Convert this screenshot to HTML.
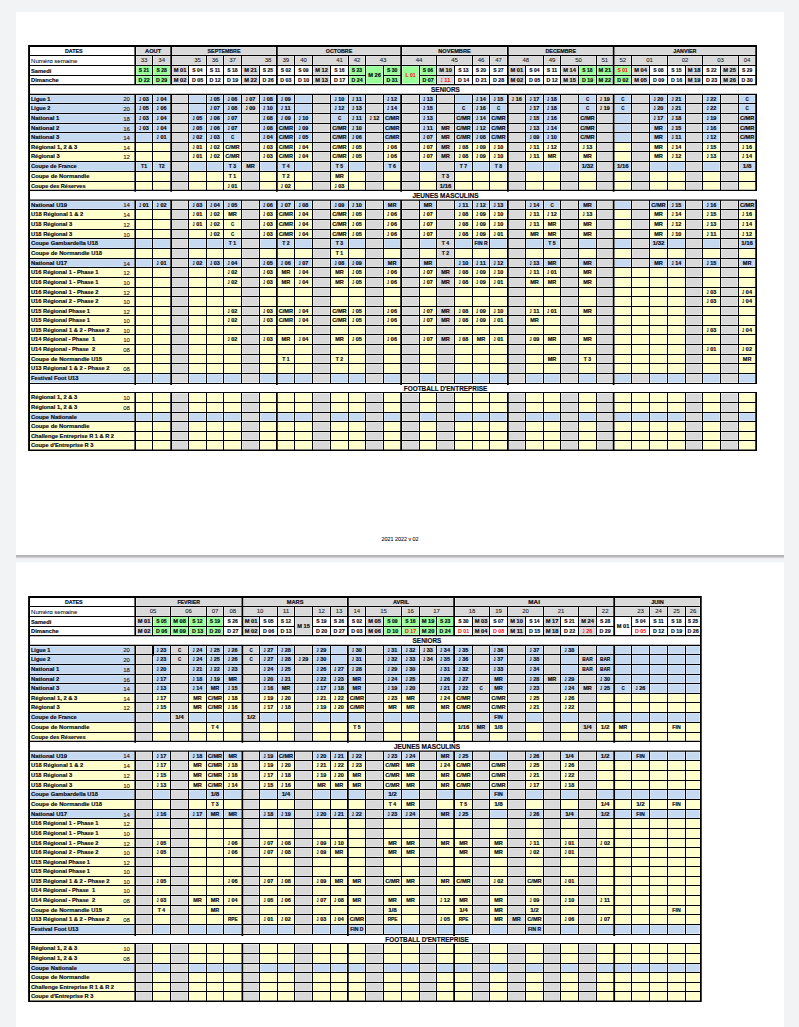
<!DOCTYPE html>
<html lang="fr"><head><meta charset="utf-8"><title>Calendrier 2021 2022</title>
<style>
html,body{margin:0;padding:0;background:#f1f3f5;}
body{width:799px;height:1027px;overflow:hidden;}
svg{display:block;font-family:"Liberation Sans",sans-serif;fill:#0a0a14;}
text{stroke:#0a0a14;stroke-width:.08px;white-space:pre}
text[font-weight=bold]{stroke-width:.18px}
text[fill="#ff0000"]{stroke:none}
</style></head><body>
<svg width="799" height="1027" viewBox="0 0 799 1027">
<defs><linearGradient id="sh" x1="0" y1="0" x2="0" y2="1"><stop offset="0" stop-color="#b2b2b4"/><stop offset="0.45" stop-color="#b9b9bb"/><stop offset="0.6" stop-color="#d0d0d2"/><stop offset="0.8" stop-color="#e7e8ea"/><stop offset="1" stop-color="#f1f3f5"/></linearGradient></defs>
<rect x="0" y="0" width="799" height="1027" fill="#f1f3f5"/>
<rect x="16" y="12" width="768" height="543" fill="#fff"/>
<rect x="16" y="555" width="768" height="4" fill="url(#sh)"/>
<rect x="16" y="562.5" width="768" height="470" fill="#fff"/>
<path fill="#d9d9d9" d="M136.35 47.35h33.6v7.3h-33.6zM172.4 47.35h103.25v7.3h-103.25zM278.1 47.35h121.8v7.3h-121.8zM402.35 47.35h104.3v7.3h-104.3zM509.1 47.35h103.3v7.3h-103.3zM614.85 47.35h140.05v7.3h-140.05zM136.35 56.35h15.3v8.3h-15.3zM153.35 56.35h16.6v8.3h-16.6zM172.4 56.35h33.25v8.3h-33.25zM207.35 56.35h15.3v8.3h-15.3zM224.35 56.35h16.3v8.3h-16.3zM242.35 56.35h33.3v8.3h-33.3zM278.1 56.35h15.55v8.3h-15.55zM295.35 56.35h16.3v8.3h-16.3zM313.35 56.35h34.3v8.3h-34.3zM349.35 56.35h15.3v8.3h-15.3zM366.35 56.35h33.55v8.3h-33.55zM402.35 56.35h33.3v8.3h-33.3zM437.35 56.35h34.3v8.3h-34.3zM473.35 56.35h15.3v8.3h-15.3zM490.35 56.35h16.3v8.3h-16.3zM509.1 56.35h33.55v8.3h-33.55zM544.35 56.35h15.3v8.3h-15.3zM561.35 56.35h34.3v8.3h-34.3zM597.35 56.35h15.05v8.3h-15.05zM614.85 56.35h15.8v8.3h-15.8zM632.35 56.35h34.3v8.3h-34.3zM668.35 56.35h33.3v8.3h-33.3zM703.35 56.35h34.3v8.3h-34.3zM739.35 56.35h15.55v8.3h-15.55zM172.4 66.35h15.25v8.3h-15.25zM172.4 76.35h15.25v7.2h-15.25zM242.35 66.35h16.3v8.3h-16.3zM242.35 76.35h16.3v7.2h-16.3zM313.35 66.35h16.3v8.3h-16.3zM313.35 76.35h16.3v7.2h-16.3zM437.35 66.35h16.3v8.3h-16.3zM437.35 76.35h16.3v7.2h-16.3zM509.1 66.35h15.55v8.3h-15.55zM509.1 76.35h15.55v7.2h-15.55zM561.35 66.35h16.3v8.3h-16.3zM561.35 76.35h16.3v7.2h-16.3zM632.35 66.35h16.3v8.3h-16.3zM632.35 76.35h16.3v7.2h-16.3zM686.35 66.35h15.3v8.3h-15.3zM686.35 76.35h15.3v7.2h-15.3zM721.35 66.35h16.3v8.3h-16.3zM721.35 76.35h16.3v7.2h-16.3zM172.4 95.3h15.25v7.35h-15.25zM242.35 95.3h16.3v7.35h-16.3zM313.35 95.3h16.3v7.35h-16.3zM366.35 95.3h16.3v7.35h-16.3zM402.35 95.3h16.3v7.35h-16.3zM437.35 95.3h16.3v7.35h-16.3zM509.1 95.3h15.55v7.35h-15.55zM561.35 95.3h16.3v7.35h-16.3zM597.35 95.3h15.05v7.35h-15.05zM632.35 95.3h16.3v7.35h-16.3zM686.35 95.3h15.3v7.35h-15.3zM721.35 95.3h16.3v7.35h-16.3zM172.4 104.35h15.25v8.3h-15.25zM242.35 104.35h16.3v8.3h-16.3zM313.35 104.35h16.3v8.3h-16.3zM366.35 104.35h16.3v8.3h-16.3zM402.35 104.35h16.3v8.3h-16.3zM437.35 104.35h16.3v8.3h-16.3zM509.1 104.35h15.55v8.3h-15.55zM561.35 104.35h16.3v8.3h-16.3zM597.35 104.35h15.05v8.3h-15.05zM632.35 104.35h16.3v8.3h-16.3zM686.35 104.35h15.3v8.3h-15.3zM721.35 104.35h16.3v8.3h-16.3zM172.4 114.35h15.25v8.3h-15.25zM242.35 114.35h16.3v8.3h-16.3zM313.35 114.35h16.3v8.3h-16.3zM366.35 114.35h16.3v8.3h-16.3zM402.35 114.35h16.3v8.3h-16.3zM437.35 114.35h16.3v8.3h-16.3zM509.1 114.35h15.55v8.3h-15.55zM561.35 114.35h16.3v8.3h-16.3zM597.35 114.35h15.05v8.3h-15.05zM632.35 114.35h16.3v8.3h-16.3zM686.35 114.35h15.3v8.3h-15.3zM721.35 114.35h16.3v8.3h-16.3zM172.4 124.35h15.25v7.3h-15.25zM242.35 124.35h16.3v7.3h-16.3zM313.35 124.35h16.3v7.3h-16.3zM366.35 124.35h16.3v7.3h-16.3zM402.35 124.35h16.3v7.3h-16.3zM437.35 124.35h16.3v7.3h-16.3zM509.1 124.35h15.55v7.3h-15.55zM561.35 124.35h16.3v7.3h-16.3zM597.35 124.35h15.05v7.3h-15.05zM632.35 124.35h16.3v7.3h-16.3zM686.35 124.35h15.3v7.3h-15.3zM721.35 124.35h16.3v7.3h-16.3zM172.4 133.35h15.25v8.3h-15.25zM242.35 133.35h16.3v8.3h-16.3zM313.35 133.35h16.3v8.3h-16.3zM366.35 133.35h16.3v8.3h-16.3zM402.35 133.35h16.3v8.3h-16.3zM437.35 133.35h16.3v8.3h-16.3zM509.1 133.35h15.55v8.3h-15.55zM561.35 133.35h16.3v8.3h-16.3zM597.35 133.35h15.05v8.3h-15.05zM632.35 133.35h16.3v8.3h-16.3zM686.35 133.35h15.3v8.3h-15.3zM721.35 133.35h16.3v8.3h-16.3zM172.4 143.35h15.25v7.3h-15.25zM242.35 143.35h16.3v7.3h-16.3zM313.35 143.35h16.3v7.3h-16.3zM366.35 143.35h16.3v7.3h-16.3zM402.35 143.35h16.3v7.3h-16.3zM437.35 143.35h16.3v7.3h-16.3zM509.1 143.35h15.55v7.3h-15.55zM561.35 143.35h16.3v7.3h-16.3zM597.35 143.35h15.05v7.3h-15.05zM632.35 143.35h16.3v7.3h-16.3zM686.35 143.35h15.3v7.3h-15.3zM721.35 143.35h16.3v7.3h-16.3zM172.4 152.35h15.25v8.3h-15.25zM242.35 152.35h16.3v8.3h-16.3zM313.35 152.35h16.3v8.3h-16.3zM366.35 152.35h16.3v8.3h-16.3zM402.35 152.35h16.3v8.3h-16.3zM437.35 152.35h16.3v8.3h-16.3zM509.1 152.35h15.55v8.3h-15.55zM561.35 152.35h16.3v8.3h-16.3zM597.35 152.35h15.05v8.3h-15.05zM632.35 152.35h16.3v8.3h-16.3zM686.35 152.35h15.3v8.3h-15.3zM721.35 152.35h16.3v8.3h-16.3zM172.4 162.35h15.25v8.3h-15.25zM242.35 162.35h16.3v8.3h-16.3zM313.35 162.35h16.3v8.3h-16.3zM366.35 162.35h16.3v8.3h-16.3zM402.35 162.35h16.3v8.3h-16.3zM437.35 162.35h16.3v8.3h-16.3zM509.1 162.35h15.55v8.3h-15.55zM561.35 162.35h16.3v8.3h-16.3zM597.35 162.35h15.05v8.3h-15.05zM632.35 162.35h16.3v8.3h-16.3zM686.35 162.35h15.3v8.3h-15.3zM721.35 162.35h16.3v8.3h-16.3zM172.4 172.35h15.25v8.3h-15.25zM242.35 172.35h16.3v8.3h-16.3zM313.35 172.35h16.3v8.3h-16.3zM366.35 172.35h16.3v8.3h-16.3zM402.35 172.35h16.3v8.3h-16.3zM437.35 172.35h16.3v8.3h-16.3zM509.1 172.35h15.55v8.3h-15.55zM561.35 172.35h16.3v8.3h-16.3zM597.35 172.35h15.05v8.3h-15.05zM632.35 172.35h16.3v8.3h-16.3zM686.35 172.35h15.3v8.3h-15.3zM721.35 172.35h16.3v8.3h-16.3zM172.4 182.35h15.25v7h-15.25zM242.35 182.35h16.3v7h-16.3zM313.35 182.35h16.3v7h-16.3zM366.35 182.35h16.3v7h-16.3zM402.35 182.35h16.3v7h-16.3zM437.35 182.35h16.3v7h-16.3zM509.1 182.35h15.55v7h-15.55zM561.35 182.35h16.3v7h-16.3zM597.35 182.35h15.05v7h-15.05zM632.35 182.35h16.3v7h-16.3zM686.35 182.35h15.3v7h-15.3zM721.35 182.35h16.3v7h-16.3zM172.4 201.15h15.25v7.5h-15.25zM242.35 201.15h16.3v7.5h-16.3zM313.35 201.15h16.3v7.5h-16.3zM366.35 201.15h16.3v7.5h-16.3zM402.35 201.15h16.3v7.5h-16.3zM437.35 201.15h16.3v7.5h-16.3zM509.1 201.15h15.55v7.5h-15.55zM561.35 201.15h16.3v7.5h-16.3zM597.35 201.15h15.05v7.5h-15.05zM632.35 201.15h16.3v7.5h-16.3zM686.35 201.15h15.3v7.5h-15.3zM721.35 201.15h16.3v7.5h-16.3zM172.4 210.35h15.25v8.3h-15.25zM242.35 210.35h16.3v8.3h-16.3zM313.35 210.35h16.3v8.3h-16.3zM366.35 210.35h16.3v8.3h-16.3zM402.35 210.35h16.3v8.3h-16.3zM437.35 210.35h16.3v8.3h-16.3zM509.1 210.35h15.55v8.3h-15.55zM561.35 210.35h16.3v8.3h-16.3zM597.35 210.35h15.05v8.3h-15.05zM632.35 210.35h16.3v8.3h-16.3zM686.35 210.35h15.3v8.3h-15.3zM721.35 210.35h16.3v8.3h-16.3zM172.4 220.35h15.25v8.3h-15.25zM242.35 220.35h16.3v8.3h-16.3zM313.35 220.35h16.3v8.3h-16.3zM366.35 220.35h16.3v8.3h-16.3zM402.35 220.35h16.3v8.3h-16.3zM437.35 220.35h16.3v8.3h-16.3zM509.1 220.35h15.55v8.3h-15.55zM561.35 220.35h16.3v8.3h-16.3zM597.35 220.35h15.05v8.3h-15.05zM632.35 220.35h16.3v8.3h-16.3zM686.35 220.35h15.3v8.3h-15.3zM721.35 220.35h16.3v8.3h-16.3zM172.4 230.35h15.25v7.3h-15.25zM242.35 230.35h16.3v7.3h-16.3zM313.35 230.35h16.3v7.3h-16.3zM366.35 230.35h16.3v7.3h-16.3zM402.35 230.35h16.3v7.3h-16.3zM437.35 230.35h16.3v7.3h-16.3zM509.1 230.35h15.55v7.3h-15.55zM561.35 230.35h16.3v7.3h-16.3zM597.35 230.35h15.05v7.3h-15.05zM632.35 230.35h16.3v7.3h-16.3zM686.35 230.35h15.3v7.3h-15.3zM721.35 230.35h16.3v7.3h-16.3zM172.4 239.35h15.25v8.3h-15.25zM242.35 239.35h16.3v8.3h-16.3zM313.35 239.35h16.3v8.3h-16.3zM366.35 239.35h16.3v8.3h-16.3zM402.35 239.35h16.3v8.3h-16.3zM437.35 239.35h16.3v8.3h-16.3zM509.1 239.35h15.55v8.3h-15.55zM561.35 239.35h16.3v8.3h-16.3zM597.35 239.35h15.05v8.3h-15.05zM632.35 239.35h16.3v8.3h-16.3zM686.35 239.35h15.3v8.3h-15.3zM721.35 239.35h16.3v8.3h-16.3zM172.4 249.35h15.25v8.3h-15.25zM242.35 249.35h16.3v8.3h-16.3zM313.35 249.35h16.3v8.3h-16.3zM366.35 249.35h16.3v8.3h-16.3zM402.35 249.35h16.3v8.3h-16.3zM437.35 249.35h16.3v8.3h-16.3zM509.1 249.35h15.55v8.3h-15.55zM561.35 249.35h16.3v8.3h-16.3zM597.35 249.35h15.05v8.3h-15.05zM632.35 249.35h16.3v8.3h-16.3zM686.35 249.35h15.3v8.3h-15.3zM721.35 249.35h16.3v8.3h-16.3zM172.4 259.35h15.25v7.3h-15.25zM242.35 259.35h16.3v7.3h-16.3zM313.35 259.35h16.3v7.3h-16.3zM366.35 259.35h16.3v7.3h-16.3zM402.35 259.35h16.3v7.3h-16.3zM437.35 259.35h16.3v7.3h-16.3zM509.1 259.35h15.55v7.3h-15.55zM561.35 259.35h16.3v7.3h-16.3zM597.35 259.35h15.05v7.3h-15.05zM632.35 259.35h16.3v7.3h-16.3zM686.35 259.35h15.3v7.3h-15.3zM721.35 259.35h16.3v7.3h-16.3zM172.4 268.35h15.25v8.3h-15.25zM242.35 268.35h16.3v8.3h-16.3zM313.35 268.35h16.3v8.3h-16.3zM366.35 268.35h16.3v8.3h-16.3zM402.35 268.35h16.3v8.3h-16.3zM437.35 268.35h16.3v8.3h-16.3zM509.1 268.35h15.55v8.3h-15.55zM561.35 268.35h16.3v8.3h-16.3zM597.35 268.35h15.05v8.3h-15.05zM686.35 268.35h15.3v8.3h-15.3zM721.35 268.35h16.3v8.3h-16.3zM172.4 278.35h15.25v8.3h-15.25zM242.35 278.35h16.3v8.3h-16.3zM313.35 278.35h16.3v8.3h-16.3zM366.35 278.35h16.3v8.3h-16.3zM402.35 278.35h16.3v8.3h-16.3zM437.35 278.35h16.3v8.3h-16.3zM509.1 278.35h15.55v8.3h-15.55zM561.35 278.35h16.3v8.3h-16.3zM597.35 278.35h15.05v8.3h-15.05zM686.35 278.35h15.3v8.3h-15.3zM721.35 278.35h16.3v8.3h-16.3zM172.4 288.35h15.25v7.3h-15.25zM242.35 288.35h16.3v7.3h-16.3zM313.35 288.35h16.3v7.3h-16.3zM366.35 288.35h16.3v7.3h-16.3zM402.35 288.35h16.3v7.3h-16.3zM437.35 288.35h16.3v7.3h-16.3zM509.1 288.35h15.55v7.3h-15.55zM561.35 288.35h16.3v7.3h-16.3zM597.35 288.35h15.05v7.3h-15.05zM686.35 288.35h15.3v7.3h-15.3zM721.35 288.35h16.3v7.3h-16.3zM172.4 297.35h15.25v8.3h-15.25zM242.35 297.35h16.3v8.3h-16.3zM313.35 297.35h16.3v8.3h-16.3zM366.35 297.35h16.3v8.3h-16.3zM402.35 297.35h16.3v8.3h-16.3zM437.35 297.35h16.3v8.3h-16.3zM509.1 297.35h15.55v8.3h-15.55zM561.35 297.35h16.3v8.3h-16.3zM597.35 297.35h15.05v8.3h-15.05zM686.35 297.35h15.3v8.3h-15.3zM721.35 297.35h16.3v8.3h-16.3zM172.4 307.35h15.25v7.3h-15.25zM242.35 307.35h16.3v7.3h-16.3zM313.35 307.35h16.3v7.3h-16.3zM366.35 307.35h16.3v7.3h-16.3zM402.35 307.35h16.3v7.3h-16.3zM437.35 307.35h16.3v7.3h-16.3zM509.1 307.35h15.55v7.3h-15.55zM561.35 307.35h16.3v7.3h-16.3zM597.35 307.35h15.05v7.3h-15.05zM686.35 307.35h15.3v7.3h-15.3zM721.35 307.35h16.3v7.3h-16.3zM172.4 316.35h15.25v8.3h-15.25zM242.35 316.35h16.3v8.3h-16.3zM313.35 316.35h16.3v8.3h-16.3zM366.35 316.35h16.3v8.3h-16.3zM402.35 316.35h16.3v8.3h-16.3zM437.35 316.35h16.3v8.3h-16.3zM509.1 316.35h15.55v8.3h-15.55zM561.35 316.35h16.3v8.3h-16.3zM597.35 316.35h15.05v8.3h-15.05zM686.35 316.35h15.3v8.3h-15.3zM721.35 316.35h16.3v8.3h-16.3zM172.4 326.35h15.25v7.3h-15.25zM242.35 326.35h16.3v7.3h-16.3zM313.35 326.35h16.3v7.3h-16.3zM366.35 326.35h16.3v7.3h-16.3zM402.35 326.35h16.3v7.3h-16.3zM437.35 326.35h16.3v7.3h-16.3zM509.1 326.35h15.55v7.3h-15.55zM561.35 326.35h16.3v7.3h-16.3zM597.35 326.35h15.05v7.3h-15.05zM686.35 326.35h15.3v7.3h-15.3zM721.35 326.35h16.3v7.3h-16.3zM172.4 335.35h15.25v8.3h-15.25zM242.35 335.35h16.3v8.3h-16.3zM313.35 335.35h16.3v8.3h-16.3zM366.35 335.35h16.3v8.3h-16.3zM402.35 335.35h16.3v8.3h-16.3zM437.35 335.35h16.3v8.3h-16.3zM509.1 335.35h15.55v8.3h-15.55zM561.35 335.35h16.3v8.3h-16.3zM597.35 335.35h15.05v8.3h-15.05zM686.35 335.35h15.3v8.3h-15.3zM721.35 335.35h16.3v8.3h-16.3zM172.4 345.35h15.25v8.3h-15.25zM242.35 345.35h16.3v8.3h-16.3zM313.35 345.35h16.3v8.3h-16.3zM366.35 345.35h16.3v8.3h-16.3zM402.35 345.35h16.3v8.3h-16.3zM437.35 345.35h16.3v8.3h-16.3zM509.1 345.35h15.55v8.3h-15.55zM561.35 345.35h16.3v8.3h-16.3zM597.35 345.35h15.05v8.3h-15.05zM686.35 345.35h15.3v8.3h-15.3zM721.35 345.35h16.3v8.3h-16.3zM172.4 355.35h15.25v7.3h-15.25zM242.35 355.35h16.3v7.3h-16.3zM313.35 355.35h16.3v7.3h-16.3zM366.35 355.35h16.3v7.3h-16.3zM402.35 355.35h16.3v7.3h-16.3zM437.35 355.35h16.3v7.3h-16.3zM509.1 355.35h15.55v7.3h-15.55zM561.35 355.35h16.3v7.3h-16.3zM597.35 355.35h15.05v7.3h-15.05zM686.35 355.35h15.3v7.3h-15.3zM721.35 355.35h16.3v7.3h-16.3zM172.4 364.35h15.25v8.3h-15.25zM242.35 364.35h16.3v8.3h-16.3zM313.35 364.35h16.3v8.3h-16.3zM366.35 364.35h16.3v8.3h-16.3zM402.35 364.35h16.3v8.3h-16.3zM437.35 364.35h16.3v8.3h-16.3zM509.1 364.35h15.55v8.3h-15.55zM561.35 364.35h16.3v8.3h-16.3zM597.35 364.35h15.05v8.3h-15.05zM686.35 364.35h15.3v8.3h-15.3zM721.35 364.35h16.3v8.3h-16.3zM172.4 374.35h15.25v8.2h-15.25zM242.35 374.35h16.3v8.2h-16.3zM313.35 374.35h16.3v8.2h-16.3zM366.35 374.35h16.3v8.2h-16.3zM402.35 374.35h16.3v8.2h-16.3zM437.35 374.35h16.3v8.2h-16.3zM509.1 374.35h15.55v8.2h-15.55zM561.35 374.35h16.3v8.2h-16.3zM597.35 374.35h15.05v8.2h-15.05zM632.35 374.35h16.3v8.2h-16.3zM686.35 374.35h15.3v8.2h-15.3zM721.35 374.35h16.3v8.2h-16.3zM172.4 393.4h15.25v8.25h-15.25zM242.35 393.4h16.3v8.25h-16.3zM313.35 393.4h16.3v8.25h-16.3zM366.35 393.4h16.3v8.25h-16.3zM402.35 393.4h16.3v8.25h-16.3zM437.35 393.4h16.3v8.25h-16.3zM509.1 393.4h15.55v8.25h-15.55zM561.35 393.4h16.3v8.25h-16.3zM597.35 393.4h15.05v8.25h-15.05zM686.35 393.4h15.3v8.25h-15.3zM721.35 393.4h16.3v8.25h-16.3zM172.4 403.35h15.25v8.3h-15.25zM242.35 403.35h16.3v8.3h-16.3zM313.35 403.35h16.3v8.3h-16.3zM366.35 403.35h16.3v8.3h-16.3zM402.35 403.35h16.3v8.3h-16.3zM437.35 403.35h16.3v8.3h-16.3zM509.1 403.35h15.55v8.3h-15.55zM561.35 403.35h16.3v8.3h-16.3zM597.35 403.35h15.05v8.3h-15.05zM686.35 403.35h15.3v8.3h-15.3zM721.35 403.35h16.3v8.3h-16.3zM172.4 413.35h15.25v7.3h-15.25zM242.35 413.35h16.3v7.3h-16.3zM313.35 413.35h16.3v7.3h-16.3zM366.35 413.35h16.3v7.3h-16.3zM402.35 413.35h16.3v7.3h-16.3zM437.35 413.35h16.3v7.3h-16.3zM509.1 413.35h15.55v7.3h-15.55zM561.35 413.35h16.3v7.3h-16.3zM597.35 413.35h15.05v7.3h-15.05zM686.35 413.35h15.3v7.3h-15.3zM721.35 413.35h16.3v7.3h-16.3zM172.4 422.35h15.25v8.3h-15.25zM242.35 422.35h16.3v8.3h-16.3zM313.35 422.35h16.3v8.3h-16.3zM366.35 422.35h16.3v8.3h-16.3zM402.35 422.35h16.3v8.3h-16.3zM437.35 422.35h16.3v8.3h-16.3zM509.1 422.35h15.55v8.3h-15.55zM561.35 422.35h16.3v8.3h-16.3zM597.35 422.35h15.05v8.3h-15.05zM686.35 422.35h15.3v8.3h-15.3zM721.35 422.35h16.3v8.3h-16.3zM172.4 432.35h15.25v7.3h-15.25zM242.35 432.35h16.3v7.3h-16.3zM313.35 432.35h16.3v7.3h-16.3zM366.35 432.35h16.3v7.3h-16.3zM402.35 432.35h16.3v7.3h-16.3zM437.35 432.35h16.3v7.3h-16.3zM509.1 432.35h15.55v7.3h-15.55zM561.35 432.35h16.3v7.3h-16.3zM597.35 432.35h15.05v7.3h-15.05zM686.35 432.35h15.3v7.3h-15.3zM721.35 432.35h16.3v7.3h-16.3zM172.4 441.35h15.25v7.9h-15.25zM242.35 441.35h16.3v7.9h-16.3zM313.35 441.35h16.3v7.9h-16.3zM366.35 441.35h16.3v7.9h-16.3zM402.35 441.35h16.3v7.9h-16.3zM437.35 441.35h16.3v7.9h-16.3zM509.1 441.35h15.55v7.9h-15.55zM561.35 441.35h16.3v7.9h-16.3zM597.35 441.35h15.05v7.9h-15.05zM686.35 441.35h15.3v7.9h-15.3zM721.35 441.35h16.3v7.9h-16.3z"/>
<path fill="#99ff99" d="M136.35 66.35h15.3v8.3h-15.3zM136.35 76.35h15.3v7.2h-15.3zM153.35 66.35h16.6v8.3h-16.6zM153.35 76.35h16.6v7.2h-16.6zM349.35 66.35h15.3v8.3h-15.3zM349.35 76.35h15.3v7.2h-15.3zM366.35 66.35h16.3v17.2h-16.3zM384.35 66.35h15.55v8.3h-15.55zM384.35 76.35h15.55v7.2h-15.55zM402.35 66.35h16.3v17.2h-16.3zM420.35 66.35h15.3v8.3h-15.3zM420.35 76.35h15.3v7.2h-15.3zM579.35 66.35h16.3v8.3h-16.3zM579.35 76.35h16.3v7.2h-16.3zM597.35 66.35h15.05v8.3h-15.05zM597.35 76.35h15.05v7.2h-15.05zM614.85 66.35h15.8v8.3h-15.8zM614.85 76.35h15.8v7.2h-15.8z"/>
<path fill="#c5d9f1" d="M30.35 95.3h103.7v7.35h-103.7zM136.35 95.3h15.3v7.35h-15.3zM153.35 95.3h16.6v7.35h-16.6zM189.35 95.3h16.3v7.35h-16.3zM207.35 95.3h15.3v7.35h-15.3zM224.35 95.3h16.3v7.35h-16.3zM260.35 95.3h15.3v7.35h-15.3zM278.1 95.3h15.55v7.35h-15.55zM295.35 95.3h16.3v7.35h-16.3zM331.35 95.3h16.3v7.35h-16.3zM349.35 95.3h15.3v7.35h-15.3zM384.35 95.3h15.55v7.35h-15.55zM420.35 95.3h15.3v7.35h-15.3zM455.35 95.3h16.3v7.35h-16.3zM473.35 95.3h15.3v7.35h-15.3zM490.35 95.3h16.3v7.35h-16.3zM526.35 95.3h16.3v7.35h-16.3zM544.35 95.3h15.3v7.35h-15.3zM579.35 95.3h16.3v7.35h-16.3zM614.85 95.3h15.8v7.35h-15.8zM650.35 95.3h16.3v7.35h-16.3zM668.35 95.3h16.3v7.35h-16.3zM703.35 95.3h16.3v7.35h-16.3zM739.35 95.3h15.55v7.35h-15.55zM30.35 104.35h103.7v8.3h-103.7zM136.35 104.35h15.3v8.3h-15.3zM153.35 104.35h16.6v8.3h-16.6zM189.35 104.35h16.3v8.3h-16.3zM207.35 104.35h15.3v8.3h-15.3zM224.35 104.35h16.3v8.3h-16.3zM260.35 104.35h15.3v8.3h-15.3zM278.1 104.35h15.55v8.3h-15.55zM295.35 104.35h16.3v8.3h-16.3zM331.35 104.35h16.3v8.3h-16.3zM349.35 104.35h15.3v8.3h-15.3zM384.35 104.35h15.55v8.3h-15.55zM420.35 104.35h15.3v8.3h-15.3zM455.35 104.35h16.3v8.3h-16.3zM473.35 104.35h15.3v8.3h-15.3zM490.35 104.35h16.3v8.3h-16.3zM526.35 104.35h16.3v8.3h-16.3zM544.35 104.35h15.3v8.3h-15.3zM579.35 104.35h16.3v8.3h-16.3zM614.85 104.35h15.8v8.3h-15.8zM650.35 104.35h16.3v8.3h-16.3zM668.35 104.35h16.3v8.3h-16.3zM703.35 104.35h16.3v8.3h-16.3zM739.35 104.35h15.55v8.3h-15.55zM30.35 114.35h103.7v8.3h-103.7zM136.35 114.35h15.3v8.3h-15.3zM153.35 114.35h16.6v8.3h-16.6zM189.35 114.35h16.3v8.3h-16.3zM207.35 114.35h15.3v8.3h-15.3zM224.35 114.35h16.3v8.3h-16.3zM260.35 114.35h15.3v8.3h-15.3zM278.1 114.35h15.55v8.3h-15.55zM295.35 114.35h16.3v8.3h-16.3zM331.35 114.35h16.3v8.3h-16.3zM349.35 114.35h15.3v8.3h-15.3zM384.35 114.35h15.55v8.3h-15.55zM420.35 114.35h15.3v8.3h-15.3zM455.35 114.35h16.3v8.3h-16.3zM473.35 114.35h15.3v8.3h-15.3zM490.35 114.35h16.3v8.3h-16.3zM526.35 114.35h16.3v8.3h-16.3zM544.35 114.35h15.3v8.3h-15.3zM579.35 114.35h16.3v8.3h-16.3zM614.85 114.35h15.8v8.3h-15.8zM650.35 114.35h16.3v8.3h-16.3zM668.35 114.35h16.3v8.3h-16.3zM703.35 114.35h16.3v8.3h-16.3zM739.35 114.35h15.55v8.3h-15.55zM30.35 124.35h103.7v7.3h-103.7zM136.35 124.35h15.3v7.3h-15.3zM153.35 124.35h16.6v7.3h-16.6zM189.35 124.35h16.3v7.3h-16.3zM207.35 124.35h15.3v7.3h-15.3zM224.35 124.35h16.3v7.3h-16.3zM260.35 124.35h15.3v7.3h-15.3zM278.1 124.35h15.55v7.3h-15.55zM295.35 124.35h16.3v7.3h-16.3zM331.35 124.35h16.3v7.3h-16.3zM349.35 124.35h15.3v7.3h-15.3zM384.35 124.35h15.55v7.3h-15.55zM420.35 124.35h15.3v7.3h-15.3zM455.35 124.35h16.3v7.3h-16.3zM473.35 124.35h15.3v7.3h-15.3zM490.35 124.35h16.3v7.3h-16.3zM526.35 124.35h16.3v7.3h-16.3zM544.35 124.35h15.3v7.3h-15.3zM579.35 124.35h16.3v7.3h-16.3zM614.85 124.35h15.8v7.3h-15.8zM650.35 124.35h16.3v7.3h-16.3zM668.35 124.35h16.3v7.3h-16.3zM703.35 124.35h16.3v7.3h-16.3zM739.35 124.35h15.55v7.3h-15.55zM30.35 133.35h103.7v8.3h-103.7zM136.35 133.35h15.3v8.3h-15.3zM153.35 133.35h16.6v8.3h-16.6zM189.35 133.35h16.3v8.3h-16.3zM207.35 133.35h15.3v8.3h-15.3zM224.35 133.35h16.3v8.3h-16.3zM260.35 133.35h15.3v8.3h-15.3zM278.1 133.35h15.55v8.3h-15.55zM295.35 133.35h16.3v8.3h-16.3zM331.35 133.35h16.3v8.3h-16.3zM349.35 133.35h15.3v8.3h-15.3zM384.35 133.35h15.55v8.3h-15.55zM420.35 133.35h15.3v8.3h-15.3zM455.35 133.35h16.3v8.3h-16.3zM473.35 133.35h15.3v8.3h-15.3zM490.35 133.35h16.3v8.3h-16.3zM526.35 133.35h16.3v8.3h-16.3zM544.35 133.35h15.3v8.3h-15.3zM579.35 133.35h16.3v8.3h-16.3zM614.85 133.35h15.8v8.3h-15.8zM650.35 133.35h16.3v8.3h-16.3zM668.35 133.35h16.3v8.3h-16.3zM703.35 133.35h16.3v8.3h-16.3zM739.35 133.35h15.55v8.3h-15.55zM30.35 162.35h103.7v8.3h-103.7zM136.35 162.35h15.3v8.3h-15.3zM153.35 162.35h16.6v8.3h-16.6zM189.35 162.35h16.3v8.3h-16.3zM207.35 162.35h15.3v8.3h-15.3zM224.35 162.35h16.3v8.3h-16.3zM260.35 162.35h15.3v8.3h-15.3zM278.1 162.35h15.55v8.3h-15.55zM295.35 162.35h16.3v8.3h-16.3zM331.35 162.35h16.3v8.3h-16.3zM349.35 162.35h15.3v8.3h-15.3zM384.35 162.35h15.55v8.3h-15.55zM420.35 162.35h15.3v8.3h-15.3zM455.35 162.35h16.3v8.3h-16.3zM473.35 162.35h15.3v8.3h-15.3zM490.35 162.35h16.3v8.3h-16.3zM526.35 162.35h16.3v8.3h-16.3zM544.35 162.35h15.3v8.3h-15.3zM579.35 162.35h16.3v8.3h-16.3zM614.85 162.35h15.8v8.3h-15.8zM650.35 162.35h16.3v8.3h-16.3zM668.35 162.35h16.3v8.3h-16.3zM703.35 162.35h16.3v8.3h-16.3zM739.35 162.35h15.55v8.3h-15.55zM30.35 201.15h103.7v7.5h-103.7zM136.35 201.15h15.3v7.5h-15.3zM153.35 201.15h16.6v7.5h-16.6zM189.35 201.15h16.3v7.5h-16.3zM207.35 201.15h15.3v7.5h-15.3zM224.35 201.15h16.3v7.5h-16.3zM260.35 201.15h15.3v7.5h-15.3zM278.1 201.15h15.55v7.5h-15.55zM295.35 201.15h16.3v7.5h-16.3zM331.35 201.15h16.3v7.5h-16.3zM349.35 201.15h15.3v7.5h-15.3zM384.35 201.15h15.55v7.5h-15.55zM420.35 201.15h15.3v7.5h-15.3zM455.35 201.15h16.3v7.5h-16.3zM473.35 201.15h15.3v7.5h-15.3zM490.35 201.15h16.3v7.5h-16.3zM526.35 201.15h16.3v7.5h-16.3zM544.35 201.15h15.3v7.5h-15.3zM579.35 201.15h16.3v7.5h-16.3zM614.85 201.15h15.8v7.5h-15.8zM650.35 201.15h16.3v7.5h-16.3zM668.35 201.15h16.3v7.5h-16.3zM703.35 201.15h16.3v7.5h-16.3zM739.35 201.15h15.55v7.5h-15.55zM30.35 239.35h103.7v8.3h-103.7zM136.35 239.35h15.3v8.3h-15.3zM153.35 239.35h16.6v8.3h-16.6zM189.35 239.35h16.3v8.3h-16.3zM207.35 239.35h15.3v8.3h-15.3zM224.35 239.35h16.3v8.3h-16.3zM260.35 239.35h15.3v8.3h-15.3zM278.1 239.35h15.55v8.3h-15.55zM295.35 239.35h16.3v8.3h-16.3zM331.35 239.35h16.3v8.3h-16.3zM349.35 239.35h15.3v8.3h-15.3zM384.35 239.35h15.55v8.3h-15.55zM420.35 239.35h15.3v8.3h-15.3zM455.35 239.35h16.3v8.3h-16.3zM473.35 239.35h15.3v8.3h-15.3zM490.35 239.35h16.3v8.3h-16.3zM526.35 239.35h16.3v8.3h-16.3zM544.35 239.35h15.3v8.3h-15.3zM579.35 239.35h16.3v8.3h-16.3zM614.85 239.35h15.8v8.3h-15.8zM650.35 239.35h16.3v8.3h-16.3zM668.35 239.35h16.3v8.3h-16.3zM703.35 239.35h16.3v8.3h-16.3zM739.35 239.35h15.55v8.3h-15.55zM30.35 259.35h103.7v7.3h-103.7zM136.35 259.35h15.3v7.3h-15.3zM153.35 259.35h16.6v7.3h-16.6zM189.35 259.35h16.3v7.3h-16.3zM207.35 259.35h15.3v7.3h-15.3zM224.35 259.35h16.3v7.3h-16.3zM260.35 259.35h15.3v7.3h-15.3zM278.1 259.35h15.55v7.3h-15.55zM295.35 259.35h16.3v7.3h-16.3zM331.35 259.35h16.3v7.3h-16.3zM349.35 259.35h15.3v7.3h-15.3zM384.35 259.35h15.55v7.3h-15.55zM420.35 259.35h15.3v7.3h-15.3zM455.35 259.35h16.3v7.3h-16.3zM473.35 259.35h15.3v7.3h-15.3zM490.35 259.35h16.3v7.3h-16.3zM526.35 259.35h16.3v7.3h-16.3zM544.35 259.35h15.3v7.3h-15.3zM579.35 259.35h16.3v7.3h-16.3zM614.85 259.35h15.8v7.3h-15.8zM650.35 259.35h16.3v7.3h-16.3zM668.35 259.35h16.3v7.3h-16.3zM703.35 259.35h16.3v7.3h-16.3zM739.35 259.35h15.55v7.3h-15.55zM30.35 374.35h103.7v8.2h-103.7zM136.35 374.35h15.3v8.2h-15.3zM153.35 374.35h16.6v8.2h-16.6zM189.35 374.35h16.3v8.2h-16.3zM207.35 374.35h15.3v8.2h-15.3zM224.35 374.35h16.3v8.2h-16.3zM260.35 374.35h15.3v8.2h-15.3zM278.1 374.35h15.55v8.2h-15.55zM295.35 374.35h16.3v8.2h-16.3zM331.35 374.35h16.3v8.2h-16.3zM349.35 374.35h15.3v8.2h-15.3zM384.35 374.35h15.55v8.2h-15.55zM420.35 374.35h15.3v8.2h-15.3zM455.35 374.35h16.3v8.2h-16.3zM473.35 374.35h15.3v8.2h-15.3zM490.35 374.35h16.3v8.2h-16.3zM526.35 374.35h16.3v8.2h-16.3zM544.35 374.35h15.3v8.2h-15.3zM579.35 374.35h16.3v8.2h-16.3zM614.85 374.35h15.8v8.2h-15.8zM650.35 374.35h16.3v8.2h-16.3zM668.35 374.35h16.3v8.2h-16.3zM703.35 374.35h16.3v8.2h-16.3zM739.35 374.35h15.55v8.2h-15.55zM30.35 413.35h103.7v7.3h-103.7zM136.35 413.35h15.3v7.3h-15.3zM153.35 413.35h16.6v7.3h-16.6zM189.35 413.35h16.3v7.3h-16.3zM207.35 413.35h15.3v7.3h-15.3zM224.35 413.35h16.3v7.3h-16.3zM260.35 413.35h15.3v7.3h-15.3zM278.1 413.35h15.55v7.3h-15.55zM295.35 413.35h16.3v7.3h-16.3zM331.35 413.35h16.3v7.3h-16.3zM349.35 413.35h15.3v7.3h-15.3zM384.35 413.35h15.55v7.3h-15.55zM420.35 413.35h15.3v7.3h-15.3zM455.35 413.35h16.3v7.3h-16.3zM473.35 413.35h15.3v7.3h-15.3zM490.35 413.35h16.3v7.3h-16.3zM526.35 413.35h16.3v7.3h-16.3zM544.35 413.35h15.3v7.3h-15.3zM579.35 413.35h16.3v7.3h-16.3zM614.85 413.35h15.8v7.3h-15.8zM632.35 413.35h16.3v7.3h-16.3zM650.35 413.35h16.3v7.3h-16.3zM668.35 413.35h16.3v7.3h-16.3zM703.35 413.35h16.3v7.3h-16.3zM739.35 413.35h15.55v7.3h-15.55z"/>
<path fill="#ffffcc" d="M30.35 143.35h103.7v7.3h-103.7zM136.35 143.35h15.3v7.3h-15.3zM153.35 143.35h16.6v7.3h-16.6zM189.35 143.35h16.3v7.3h-16.3zM207.35 143.35h15.3v7.3h-15.3zM224.35 143.35h16.3v7.3h-16.3zM260.35 143.35h15.3v7.3h-15.3zM278.1 143.35h15.55v7.3h-15.55zM295.35 143.35h16.3v7.3h-16.3zM331.35 143.35h16.3v7.3h-16.3zM349.35 143.35h15.3v7.3h-15.3zM384.35 143.35h15.55v7.3h-15.55zM420.35 143.35h15.3v7.3h-15.3zM455.35 143.35h16.3v7.3h-16.3zM473.35 143.35h15.3v7.3h-15.3zM490.35 143.35h16.3v7.3h-16.3zM526.35 143.35h16.3v7.3h-16.3zM544.35 143.35h15.3v7.3h-15.3zM579.35 143.35h16.3v7.3h-16.3zM614.85 143.35h15.8v7.3h-15.8zM650.35 143.35h16.3v7.3h-16.3zM668.35 143.35h16.3v7.3h-16.3zM703.35 143.35h16.3v7.3h-16.3zM739.35 143.35h15.55v7.3h-15.55zM30.35 152.35h103.7v8.3h-103.7zM136.35 152.35h15.3v8.3h-15.3zM153.35 152.35h16.6v8.3h-16.6zM189.35 152.35h16.3v8.3h-16.3zM207.35 152.35h15.3v8.3h-15.3zM224.35 152.35h16.3v8.3h-16.3zM260.35 152.35h15.3v8.3h-15.3zM278.1 152.35h15.55v8.3h-15.55zM295.35 152.35h16.3v8.3h-16.3zM331.35 152.35h16.3v8.3h-16.3zM349.35 152.35h15.3v8.3h-15.3zM384.35 152.35h15.55v8.3h-15.55zM420.35 152.35h15.3v8.3h-15.3zM455.35 152.35h16.3v8.3h-16.3zM473.35 152.35h15.3v8.3h-15.3zM490.35 152.35h16.3v8.3h-16.3zM526.35 152.35h16.3v8.3h-16.3zM544.35 152.35h15.3v8.3h-15.3zM579.35 152.35h16.3v8.3h-16.3zM614.85 152.35h15.8v8.3h-15.8zM650.35 152.35h16.3v8.3h-16.3zM668.35 152.35h16.3v8.3h-16.3zM703.35 152.35h16.3v8.3h-16.3zM739.35 152.35h15.55v8.3h-15.55zM30.35 172.35h103.7v8.3h-103.7zM136.35 172.35h15.3v8.3h-15.3zM153.35 172.35h16.6v8.3h-16.6zM189.35 172.35h16.3v8.3h-16.3zM207.35 172.35h15.3v8.3h-15.3zM224.35 172.35h16.3v8.3h-16.3zM260.35 172.35h15.3v8.3h-15.3zM278.1 172.35h15.55v8.3h-15.55zM295.35 172.35h16.3v8.3h-16.3zM331.35 172.35h16.3v8.3h-16.3zM349.35 172.35h15.3v8.3h-15.3zM384.35 172.35h15.55v8.3h-15.55zM420.35 172.35h15.3v8.3h-15.3zM455.35 172.35h16.3v8.3h-16.3zM473.35 172.35h15.3v8.3h-15.3zM490.35 172.35h16.3v8.3h-16.3zM526.35 172.35h16.3v8.3h-16.3zM544.35 172.35h15.3v8.3h-15.3zM579.35 172.35h16.3v8.3h-16.3zM614.85 172.35h15.8v8.3h-15.8zM650.35 172.35h16.3v8.3h-16.3zM668.35 172.35h16.3v8.3h-16.3zM703.35 172.35h16.3v8.3h-16.3zM739.35 172.35h15.55v8.3h-15.55zM30.35 182.35h103.7v7h-103.7zM136.35 182.35h15.3v7h-15.3zM153.35 182.35h16.6v7h-16.6zM189.35 182.35h16.3v7h-16.3zM207.35 182.35h15.3v7h-15.3zM224.35 182.35h16.3v7h-16.3zM260.35 182.35h15.3v7h-15.3zM278.1 182.35h15.55v7h-15.55zM295.35 182.35h16.3v7h-16.3zM331.35 182.35h16.3v7h-16.3zM349.35 182.35h15.3v7h-15.3zM384.35 182.35h15.55v7h-15.55zM420.35 182.35h15.3v7h-15.3zM455.35 182.35h16.3v7h-16.3zM473.35 182.35h15.3v7h-15.3zM490.35 182.35h16.3v7h-16.3zM526.35 182.35h16.3v7h-16.3zM544.35 182.35h15.3v7h-15.3zM579.35 182.35h16.3v7h-16.3zM614.85 182.35h15.8v7h-15.8zM650.35 182.35h16.3v7h-16.3zM668.35 182.35h16.3v7h-16.3zM703.35 182.35h16.3v7h-16.3zM739.35 182.35h15.55v7h-15.55zM30.35 210.35h103.7v8.3h-103.7zM136.35 210.35h15.3v8.3h-15.3zM153.35 210.35h16.6v8.3h-16.6zM189.35 210.35h16.3v8.3h-16.3zM207.35 210.35h15.3v8.3h-15.3zM224.35 210.35h16.3v8.3h-16.3zM260.35 210.35h15.3v8.3h-15.3zM278.1 210.35h15.55v8.3h-15.55zM295.35 210.35h16.3v8.3h-16.3zM331.35 210.35h16.3v8.3h-16.3zM349.35 210.35h15.3v8.3h-15.3zM384.35 210.35h15.55v8.3h-15.55zM420.35 210.35h15.3v8.3h-15.3zM455.35 210.35h16.3v8.3h-16.3zM473.35 210.35h15.3v8.3h-15.3zM490.35 210.35h16.3v8.3h-16.3zM526.35 210.35h16.3v8.3h-16.3zM544.35 210.35h15.3v8.3h-15.3zM579.35 210.35h16.3v8.3h-16.3zM614.85 210.35h15.8v8.3h-15.8zM650.35 210.35h16.3v8.3h-16.3zM668.35 210.35h16.3v8.3h-16.3zM703.35 210.35h16.3v8.3h-16.3zM739.35 210.35h15.55v8.3h-15.55zM30.35 220.35h103.7v8.3h-103.7zM136.35 220.35h15.3v8.3h-15.3zM153.35 220.35h16.6v8.3h-16.6zM189.35 220.35h16.3v8.3h-16.3zM207.35 220.35h15.3v8.3h-15.3zM224.35 220.35h16.3v8.3h-16.3zM260.35 220.35h15.3v8.3h-15.3zM278.1 220.35h15.55v8.3h-15.55zM295.35 220.35h16.3v8.3h-16.3zM331.35 220.35h16.3v8.3h-16.3zM349.35 220.35h15.3v8.3h-15.3zM384.35 220.35h15.55v8.3h-15.55zM420.35 220.35h15.3v8.3h-15.3zM455.35 220.35h16.3v8.3h-16.3zM473.35 220.35h15.3v8.3h-15.3zM490.35 220.35h16.3v8.3h-16.3zM526.35 220.35h16.3v8.3h-16.3zM544.35 220.35h15.3v8.3h-15.3zM579.35 220.35h16.3v8.3h-16.3zM614.85 220.35h15.8v8.3h-15.8zM650.35 220.35h16.3v8.3h-16.3zM668.35 220.35h16.3v8.3h-16.3zM703.35 220.35h16.3v8.3h-16.3zM739.35 220.35h15.55v8.3h-15.55zM30.35 230.35h103.7v7.3h-103.7zM136.35 230.35h15.3v7.3h-15.3zM153.35 230.35h16.6v7.3h-16.6zM189.35 230.35h16.3v7.3h-16.3zM207.35 230.35h15.3v7.3h-15.3zM224.35 230.35h16.3v7.3h-16.3zM260.35 230.35h15.3v7.3h-15.3zM278.1 230.35h15.55v7.3h-15.55zM295.35 230.35h16.3v7.3h-16.3zM331.35 230.35h16.3v7.3h-16.3zM349.35 230.35h15.3v7.3h-15.3zM384.35 230.35h15.55v7.3h-15.55zM420.35 230.35h15.3v7.3h-15.3zM455.35 230.35h16.3v7.3h-16.3zM473.35 230.35h15.3v7.3h-15.3zM490.35 230.35h16.3v7.3h-16.3zM526.35 230.35h16.3v7.3h-16.3zM544.35 230.35h15.3v7.3h-15.3zM579.35 230.35h16.3v7.3h-16.3zM614.85 230.35h15.8v7.3h-15.8zM650.35 230.35h16.3v7.3h-16.3zM668.35 230.35h16.3v7.3h-16.3zM703.35 230.35h16.3v7.3h-16.3zM739.35 230.35h15.55v7.3h-15.55zM30.35 249.35h103.7v8.3h-103.7zM136.35 249.35h15.3v8.3h-15.3zM153.35 249.35h16.6v8.3h-16.6zM189.35 249.35h16.3v8.3h-16.3zM207.35 249.35h15.3v8.3h-15.3zM224.35 249.35h16.3v8.3h-16.3zM260.35 249.35h15.3v8.3h-15.3zM278.1 249.35h15.55v8.3h-15.55zM295.35 249.35h16.3v8.3h-16.3zM331.35 249.35h16.3v8.3h-16.3zM349.35 249.35h15.3v8.3h-15.3zM384.35 249.35h15.55v8.3h-15.55zM420.35 249.35h15.3v8.3h-15.3zM455.35 249.35h16.3v8.3h-16.3zM473.35 249.35h15.3v8.3h-15.3zM490.35 249.35h16.3v8.3h-16.3zM526.35 249.35h16.3v8.3h-16.3zM544.35 249.35h15.3v8.3h-15.3zM579.35 249.35h16.3v8.3h-16.3zM614.85 249.35h15.8v8.3h-15.8zM650.35 249.35h16.3v8.3h-16.3zM668.35 249.35h16.3v8.3h-16.3zM703.35 249.35h16.3v8.3h-16.3zM739.35 249.35h15.55v8.3h-15.55zM30.35 268.35h103.7v8.3h-103.7zM136.35 268.35h15.3v8.3h-15.3zM153.35 268.35h16.6v8.3h-16.6zM189.35 268.35h16.3v8.3h-16.3zM207.35 268.35h15.3v8.3h-15.3zM224.35 268.35h16.3v8.3h-16.3zM260.35 268.35h15.3v8.3h-15.3zM278.1 268.35h15.55v8.3h-15.55zM295.35 268.35h16.3v8.3h-16.3zM331.35 268.35h16.3v8.3h-16.3zM349.35 268.35h15.3v8.3h-15.3zM384.35 268.35h15.55v8.3h-15.55zM420.35 268.35h15.3v8.3h-15.3zM455.35 268.35h16.3v8.3h-16.3zM473.35 268.35h15.3v8.3h-15.3zM490.35 268.35h16.3v8.3h-16.3zM526.35 268.35h16.3v8.3h-16.3zM544.35 268.35h15.3v8.3h-15.3zM579.35 268.35h16.3v8.3h-16.3zM614.85 268.35h15.8v8.3h-15.8zM632.35 268.35h16.3v8.3h-16.3zM650.35 268.35h16.3v8.3h-16.3zM668.35 268.35h16.3v8.3h-16.3zM703.35 268.35h16.3v8.3h-16.3zM739.35 268.35h15.55v8.3h-15.55zM30.35 278.35h103.7v8.3h-103.7zM136.35 278.35h15.3v8.3h-15.3zM153.35 278.35h16.6v8.3h-16.6zM189.35 278.35h16.3v8.3h-16.3zM207.35 278.35h15.3v8.3h-15.3zM224.35 278.35h16.3v8.3h-16.3zM260.35 278.35h15.3v8.3h-15.3zM278.1 278.35h15.55v8.3h-15.55zM295.35 278.35h16.3v8.3h-16.3zM331.35 278.35h16.3v8.3h-16.3zM349.35 278.35h15.3v8.3h-15.3zM384.35 278.35h15.55v8.3h-15.55zM420.35 278.35h15.3v8.3h-15.3zM455.35 278.35h16.3v8.3h-16.3zM473.35 278.35h15.3v8.3h-15.3zM490.35 278.35h16.3v8.3h-16.3zM526.35 278.35h16.3v8.3h-16.3zM544.35 278.35h15.3v8.3h-15.3zM579.35 278.35h16.3v8.3h-16.3zM614.85 278.35h15.8v8.3h-15.8zM632.35 278.35h16.3v8.3h-16.3zM650.35 278.35h16.3v8.3h-16.3zM668.35 278.35h16.3v8.3h-16.3zM703.35 278.35h16.3v8.3h-16.3zM739.35 278.35h15.55v8.3h-15.55zM30.35 288.35h103.7v7.3h-103.7zM136.35 288.35h15.3v7.3h-15.3zM153.35 288.35h16.6v7.3h-16.6zM189.35 288.35h16.3v7.3h-16.3zM207.35 288.35h15.3v7.3h-15.3zM224.35 288.35h16.3v7.3h-16.3zM260.35 288.35h15.3v7.3h-15.3zM278.1 288.35h15.55v7.3h-15.55zM295.35 288.35h16.3v7.3h-16.3zM331.35 288.35h16.3v7.3h-16.3zM349.35 288.35h15.3v7.3h-15.3zM384.35 288.35h15.55v7.3h-15.55zM420.35 288.35h15.3v7.3h-15.3zM455.35 288.35h16.3v7.3h-16.3zM473.35 288.35h15.3v7.3h-15.3zM490.35 288.35h16.3v7.3h-16.3zM526.35 288.35h16.3v7.3h-16.3zM544.35 288.35h15.3v7.3h-15.3zM579.35 288.35h16.3v7.3h-16.3zM614.85 288.35h15.8v7.3h-15.8zM632.35 288.35h16.3v7.3h-16.3zM650.35 288.35h16.3v7.3h-16.3zM668.35 288.35h16.3v7.3h-16.3zM703.35 288.35h16.3v7.3h-16.3zM739.35 288.35h15.55v7.3h-15.55zM30.35 297.35h103.7v8.3h-103.7zM136.35 297.35h15.3v8.3h-15.3zM153.35 297.35h16.6v8.3h-16.6zM189.35 297.35h16.3v8.3h-16.3zM207.35 297.35h15.3v8.3h-15.3zM224.35 297.35h16.3v8.3h-16.3zM260.35 297.35h15.3v8.3h-15.3zM278.1 297.35h15.55v8.3h-15.55zM295.35 297.35h16.3v8.3h-16.3zM331.35 297.35h16.3v8.3h-16.3zM349.35 297.35h15.3v8.3h-15.3zM384.35 297.35h15.55v8.3h-15.55zM420.35 297.35h15.3v8.3h-15.3zM455.35 297.35h16.3v8.3h-16.3zM473.35 297.35h15.3v8.3h-15.3zM490.35 297.35h16.3v8.3h-16.3zM526.35 297.35h16.3v8.3h-16.3zM544.35 297.35h15.3v8.3h-15.3zM579.35 297.35h16.3v8.3h-16.3zM614.85 297.35h15.8v8.3h-15.8zM632.35 297.35h16.3v8.3h-16.3zM650.35 297.35h16.3v8.3h-16.3zM668.35 297.35h16.3v8.3h-16.3zM703.35 297.35h16.3v8.3h-16.3zM739.35 297.35h15.55v8.3h-15.55zM30.35 307.35h103.7v7.3h-103.7zM136.35 307.35h15.3v7.3h-15.3zM153.35 307.35h16.6v7.3h-16.6zM189.35 307.35h16.3v7.3h-16.3zM207.35 307.35h15.3v7.3h-15.3zM224.35 307.35h16.3v7.3h-16.3zM260.35 307.35h15.3v7.3h-15.3zM278.1 307.35h15.55v7.3h-15.55zM295.35 307.35h16.3v7.3h-16.3zM331.35 307.35h16.3v7.3h-16.3zM349.35 307.35h15.3v7.3h-15.3zM384.35 307.35h15.55v7.3h-15.55zM420.35 307.35h15.3v7.3h-15.3zM455.35 307.35h16.3v7.3h-16.3zM473.35 307.35h15.3v7.3h-15.3zM490.35 307.35h16.3v7.3h-16.3zM526.35 307.35h16.3v7.3h-16.3zM544.35 307.35h15.3v7.3h-15.3zM579.35 307.35h16.3v7.3h-16.3zM614.85 307.35h15.8v7.3h-15.8zM632.35 307.35h16.3v7.3h-16.3zM650.35 307.35h16.3v7.3h-16.3zM668.35 307.35h16.3v7.3h-16.3zM703.35 307.35h16.3v7.3h-16.3zM739.35 307.35h15.55v7.3h-15.55zM30.35 316.35h103.7v8.3h-103.7zM136.35 316.35h15.3v8.3h-15.3zM153.35 316.35h16.6v8.3h-16.6zM189.35 316.35h16.3v8.3h-16.3zM207.35 316.35h15.3v8.3h-15.3zM224.35 316.35h16.3v8.3h-16.3zM260.35 316.35h15.3v8.3h-15.3zM278.1 316.35h15.55v8.3h-15.55zM295.35 316.35h16.3v8.3h-16.3zM331.35 316.35h16.3v8.3h-16.3zM349.35 316.35h15.3v8.3h-15.3zM384.35 316.35h15.55v8.3h-15.55zM420.35 316.35h15.3v8.3h-15.3zM455.35 316.35h16.3v8.3h-16.3zM473.35 316.35h15.3v8.3h-15.3zM490.35 316.35h16.3v8.3h-16.3zM526.35 316.35h16.3v8.3h-16.3zM544.35 316.35h15.3v8.3h-15.3zM579.35 316.35h16.3v8.3h-16.3zM614.85 316.35h15.8v8.3h-15.8zM632.35 316.35h16.3v8.3h-16.3zM650.35 316.35h16.3v8.3h-16.3zM668.35 316.35h16.3v8.3h-16.3zM703.35 316.35h16.3v8.3h-16.3zM739.35 316.35h15.55v8.3h-15.55zM30.35 326.35h103.7v7.3h-103.7zM136.35 326.35h15.3v7.3h-15.3zM153.35 326.35h16.6v7.3h-16.6zM189.35 326.35h16.3v7.3h-16.3zM207.35 326.35h15.3v7.3h-15.3zM224.35 326.35h16.3v7.3h-16.3zM260.35 326.35h15.3v7.3h-15.3zM278.1 326.35h15.55v7.3h-15.55zM295.35 326.35h16.3v7.3h-16.3zM331.35 326.35h16.3v7.3h-16.3zM349.35 326.35h15.3v7.3h-15.3zM384.35 326.35h15.55v7.3h-15.55zM420.35 326.35h15.3v7.3h-15.3zM455.35 326.35h16.3v7.3h-16.3zM473.35 326.35h15.3v7.3h-15.3zM490.35 326.35h16.3v7.3h-16.3zM526.35 326.35h16.3v7.3h-16.3zM544.35 326.35h15.3v7.3h-15.3zM579.35 326.35h16.3v7.3h-16.3zM614.85 326.35h15.8v7.3h-15.8zM632.35 326.35h16.3v7.3h-16.3zM650.35 326.35h16.3v7.3h-16.3zM668.35 326.35h16.3v7.3h-16.3zM703.35 326.35h16.3v7.3h-16.3zM739.35 326.35h15.55v7.3h-15.55zM30.35 335.35h103.7v8.3h-103.7zM136.35 335.35h15.3v8.3h-15.3zM153.35 335.35h16.6v8.3h-16.6zM189.35 335.35h16.3v8.3h-16.3zM207.35 335.35h15.3v8.3h-15.3zM224.35 335.35h16.3v8.3h-16.3zM260.35 335.35h15.3v8.3h-15.3zM278.1 335.35h15.55v8.3h-15.55zM295.35 335.35h16.3v8.3h-16.3zM331.35 335.35h16.3v8.3h-16.3zM349.35 335.35h15.3v8.3h-15.3zM384.35 335.35h15.55v8.3h-15.55zM420.35 335.35h15.3v8.3h-15.3zM455.35 335.35h16.3v8.3h-16.3zM473.35 335.35h15.3v8.3h-15.3zM490.35 335.35h16.3v8.3h-16.3zM526.35 335.35h16.3v8.3h-16.3zM544.35 335.35h15.3v8.3h-15.3zM579.35 335.35h16.3v8.3h-16.3zM614.85 335.35h15.8v8.3h-15.8zM632.35 335.35h16.3v8.3h-16.3zM650.35 335.35h16.3v8.3h-16.3zM668.35 335.35h16.3v8.3h-16.3zM703.35 335.35h16.3v8.3h-16.3zM739.35 335.35h15.55v8.3h-15.55zM30.35 345.35h103.7v8.3h-103.7zM136.35 345.35h15.3v8.3h-15.3zM153.35 345.35h16.6v8.3h-16.6zM189.35 345.35h16.3v8.3h-16.3zM207.35 345.35h15.3v8.3h-15.3zM224.35 345.35h16.3v8.3h-16.3zM260.35 345.35h15.3v8.3h-15.3zM278.1 345.35h15.55v8.3h-15.55zM295.35 345.35h16.3v8.3h-16.3zM331.35 345.35h16.3v8.3h-16.3zM349.35 345.35h15.3v8.3h-15.3zM384.35 345.35h15.55v8.3h-15.55zM420.35 345.35h15.3v8.3h-15.3zM455.35 345.35h16.3v8.3h-16.3zM473.35 345.35h15.3v8.3h-15.3zM490.35 345.35h16.3v8.3h-16.3zM526.35 345.35h16.3v8.3h-16.3zM544.35 345.35h15.3v8.3h-15.3zM579.35 345.35h16.3v8.3h-16.3zM614.85 345.35h15.8v8.3h-15.8zM632.35 345.35h16.3v8.3h-16.3zM650.35 345.35h16.3v8.3h-16.3zM668.35 345.35h16.3v8.3h-16.3zM703.35 345.35h16.3v8.3h-16.3zM739.35 345.35h15.55v8.3h-15.55zM30.35 355.35h103.7v7.3h-103.7zM136.35 355.35h15.3v7.3h-15.3zM153.35 355.35h16.6v7.3h-16.6zM189.35 355.35h16.3v7.3h-16.3zM207.35 355.35h15.3v7.3h-15.3zM224.35 355.35h16.3v7.3h-16.3zM260.35 355.35h15.3v7.3h-15.3zM278.1 355.35h15.55v7.3h-15.55zM295.35 355.35h16.3v7.3h-16.3zM331.35 355.35h16.3v7.3h-16.3zM349.35 355.35h15.3v7.3h-15.3zM384.35 355.35h15.55v7.3h-15.55zM420.35 355.35h15.3v7.3h-15.3zM455.35 355.35h16.3v7.3h-16.3zM473.35 355.35h15.3v7.3h-15.3zM490.35 355.35h16.3v7.3h-16.3zM526.35 355.35h16.3v7.3h-16.3zM544.35 355.35h15.3v7.3h-15.3zM579.35 355.35h16.3v7.3h-16.3zM614.85 355.35h15.8v7.3h-15.8zM632.35 355.35h16.3v7.3h-16.3zM650.35 355.35h16.3v7.3h-16.3zM668.35 355.35h16.3v7.3h-16.3zM703.35 355.35h16.3v7.3h-16.3zM739.35 355.35h15.55v7.3h-15.55zM30.35 364.35h103.7v8.3h-103.7zM136.35 364.35h15.3v8.3h-15.3zM153.35 364.35h16.6v8.3h-16.6zM189.35 364.35h16.3v8.3h-16.3zM207.35 364.35h15.3v8.3h-15.3zM224.35 364.35h16.3v8.3h-16.3zM260.35 364.35h15.3v8.3h-15.3zM278.1 364.35h15.55v8.3h-15.55zM295.35 364.35h16.3v8.3h-16.3zM331.35 364.35h16.3v8.3h-16.3zM349.35 364.35h15.3v8.3h-15.3zM384.35 364.35h15.55v8.3h-15.55zM420.35 364.35h15.3v8.3h-15.3zM455.35 364.35h16.3v8.3h-16.3zM473.35 364.35h15.3v8.3h-15.3zM490.35 364.35h16.3v8.3h-16.3zM526.35 364.35h16.3v8.3h-16.3zM544.35 364.35h15.3v8.3h-15.3zM579.35 364.35h16.3v8.3h-16.3zM614.85 364.35h15.8v8.3h-15.8zM632.35 364.35h16.3v8.3h-16.3zM650.35 364.35h16.3v8.3h-16.3zM668.35 364.35h16.3v8.3h-16.3zM703.35 364.35h16.3v8.3h-16.3zM739.35 364.35h15.55v8.3h-15.55zM30.35 393.4h103.7v8.25h-103.7zM136.35 393.4h15.3v8.25h-15.3zM153.35 393.4h16.6v8.25h-16.6zM189.35 393.4h16.3v8.25h-16.3zM207.35 393.4h15.3v8.25h-15.3zM224.35 393.4h16.3v8.25h-16.3zM260.35 393.4h15.3v8.25h-15.3zM278.1 393.4h15.55v8.25h-15.55zM295.35 393.4h16.3v8.25h-16.3zM331.35 393.4h16.3v8.25h-16.3zM349.35 393.4h15.3v8.25h-15.3zM384.35 393.4h15.55v8.25h-15.55zM420.35 393.4h15.3v8.25h-15.3zM455.35 393.4h16.3v8.25h-16.3zM473.35 393.4h15.3v8.25h-15.3zM490.35 393.4h16.3v8.25h-16.3zM526.35 393.4h16.3v8.25h-16.3zM544.35 393.4h15.3v8.25h-15.3zM579.35 393.4h16.3v8.25h-16.3zM614.85 393.4h15.8v8.25h-15.8zM632.35 393.4h16.3v8.25h-16.3zM650.35 393.4h16.3v8.25h-16.3zM668.35 393.4h16.3v8.25h-16.3zM703.35 393.4h16.3v8.25h-16.3zM739.35 393.4h15.55v8.25h-15.55zM30.35 403.35h103.7v8.3h-103.7zM136.35 403.35h15.3v8.3h-15.3zM153.35 403.35h16.6v8.3h-16.6zM189.35 403.35h16.3v8.3h-16.3zM207.35 403.35h15.3v8.3h-15.3zM224.35 403.35h16.3v8.3h-16.3zM260.35 403.35h15.3v8.3h-15.3zM278.1 403.35h15.55v8.3h-15.55zM295.35 403.35h16.3v8.3h-16.3zM331.35 403.35h16.3v8.3h-16.3zM349.35 403.35h15.3v8.3h-15.3zM384.35 403.35h15.55v8.3h-15.55zM420.35 403.35h15.3v8.3h-15.3zM455.35 403.35h16.3v8.3h-16.3zM473.35 403.35h15.3v8.3h-15.3zM490.35 403.35h16.3v8.3h-16.3zM526.35 403.35h16.3v8.3h-16.3zM544.35 403.35h15.3v8.3h-15.3zM579.35 403.35h16.3v8.3h-16.3zM614.85 403.35h15.8v8.3h-15.8zM632.35 403.35h16.3v8.3h-16.3zM650.35 403.35h16.3v8.3h-16.3zM668.35 403.35h16.3v8.3h-16.3zM703.35 403.35h16.3v8.3h-16.3zM739.35 403.35h15.55v8.3h-15.55zM30.35 422.35h103.7v8.3h-103.7zM136.35 422.35h15.3v8.3h-15.3zM153.35 422.35h16.6v8.3h-16.6zM189.35 422.35h16.3v8.3h-16.3zM207.35 422.35h15.3v8.3h-15.3zM224.35 422.35h16.3v8.3h-16.3zM260.35 422.35h15.3v8.3h-15.3zM278.1 422.35h15.55v8.3h-15.55zM295.35 422.35h16.3v8.3h-16.3zM331.35 422.35h16.3v8.3h-16.3zM349.35 422.35h15.3v8.3h-15.3zM384.35 422.35h15.55v8.3h-15.55zM420.35 422.35h15.3v8.3h-15.3zM455.35 422.35h16.3v8.3h-16.3zM473.35 422.35h15.3v8.3h-15.3zM490.35 422.35h16.3v8.3h-16.3zM526.35 422.35h16.3v8.3h-16.3zM544.35 422.35h15.3v8.3h-15.3zM579.35 422.35h16.3v8.3h-16.3zM614.85 422.35h15.8v8.3h-15.8zM632.35 422.35h16.3v8.3h-16.3zM650.35 422.35h16.3v8.3h-16.3zM668.35 422.35h16.3v8.3h-16.3zM703.35 422.35h16.3v8.3h-16.3zM739.35 422.35h15.55v8.3h-15.55zM30.35 432.35h103.7v7.3h-103.7zM136.35 432.35h15.3v7.3h-15.3zM153.35 432.35h16.6v7.3h-16.6zM189.35 432.35h16.3v7.3h-16.3zM207.35 432.35h15.3v7.3h-15.3zM224.35 432.35h16.3v7.3h-16.3zM260.35 432.35h15.3v7.3h-15.3zM278.1 432.35h15.55v7.3h-15.55zM295.35 432.35h16.3v7.3h-16.3zM331.35 432.35h16.3v7.3h-16.3zM349.35 432.35h15.3v7.3h-15.3zM384.35 432.35h15.55v7.3h-15.55zM420.35 432.35h15.3v7.3h-15.3zM455.35 432.35h16.3v7.3h-16.3zM473.35 432.35h15.3v7.3h-15.3zM490.35 432.35h16.3v7.3h-16.3zM526.35 432.35h16.3v7.3h-16.3zM544.35 432.35h15.3v7.3h-15.3zM579.35 432.35h16.3v7.3h-16.3zM614.85 432.35h15.8v7.3h-15.8zM632.35 432.35h16.3v7.3h-16.3zM650.35 432.35h16.3v7.3h-16.3zM668.35 432.35h16.3v7.3h-16.3zM703.35 432.35h16.3v7.3h-16.3zM739.35 432.35h15.55v7.3h-15.55zM30.35 441.35h103.7v7.9h-103.7zM136.35 441.35h15.3v7.9h-15.3zM153.35 441.35h16.6v7.9h-16.6zM189.35 441.35h16.3v7.9h-16.3zM207.35 441.35h15.3v7.9h-15.3zM224.35 441.35h16.3v7.9h-16.3zM260.35 441.35h15.3v7.9h-15.3zM278.1 441.35h15.55v7.9h-15.55zM295.35 441.35h16.3v7.9h-16.3zM331.35 441.35h16.3v7.9h-16.3zM349.35 441.35h15.3v7.9h-15.3zM384.35 441.35h15.55v7.9h-15.55zM420.35 441.35h15.3v7.9h-15.3zM455.35 441.35h16.3v7.9h-16.3zM473.35 441.35h15.3v7.9h-15.3zM490.35 441.35h16.3v7.9h-16.3zM526.35 441.35h16.3v7.9h-16.3zM544.35 441.35h15.3v7.9h-15.3zM579.35 441.35h16.3v7.9h-16.3zM614.85 441.35h15.8v7.9h-15.8zM632.35 441.35h16.3v7.9h-16.3zM650.35 441.35h16.3v7.9h-16.3zM668.35 441.35h16.3v7.9h-16.3zM703.35 441.35h16.3v7.9h-16.3zM739.35 441.35h15.55v7.9h-15.55z"/>
<path fill="#000" d="M28.1 45h1.9v406h-1.9zM28.1 45h728.9v2h-728.9zM28.1 449.6h728.9v1.4h-728.9zM30 55h725.25v1h-725.25zM30 65h725.25v1h-725.25zM30 75h335v1h-335zM384 75h16.25v1h-16.25zM420 75h335.25v1h-335.25zM30 83.9h725.25v1.4h-725.25zM30 93.7h725.25v1.25h-725.25zM30 103h725.25v1h-725.25zM30 113h725.25v1h-725.25zM30 123h725.25v1h-725.25zM30 132h725.25v1h-725.25zM30 142h725.25v1h-725.25zM30 151h725.25v1h-725.25zM30 161h725.25v1h-725.25zM30 171h725.25v1h-725.25zM30 181h725.25v1h-725.25zM30 189.7h725.25v1.25h-725.25zM30 199.4h725.25v1.4h-725.25zM30 209h725.25v1h-725.25zM30 219h725.25v1h-725.25zM30 229h725.25v1h-725.25zM30 238h725.25v1h-725.25zM30 248h725.25v1h-725.25zM30 258h725.25v1h-725.25zM30 267h725.25v1h-725.25zM30 277h725.25v1h-725.25zM30 287h725.25v1h-725.25zM30 296h725.25v1h-725.25zM30 306h725.25v1h-725.25zM30 315h725.25v1h-725.25zM30 325h725.25v1h-725.25zM30 334h725.25v1h-725.25zM30 344h725.25v1h-725.25zM30 354h725.25v1h-725.25zM30 363h725.25v1h-725.25zM30 373h725.25v1h-725.25zM30 382.9h725.25v1.2h-725.25zM30 392h725.25v1.05h-725.25zM30 402h725.25v1h-725.25zM30 412h725.25v1h-725.25zM30 421h725.25v1h-725.25zM30 431h725.25v1h-725.25zM30 440h725.25v1h-725.25zM134.4 47h1.6v38.3h-1.6zM134.4 93.7h1.6v98.05h-1.6zM134.4 199.4h1.6v185.5h-1.6zM134.4 392h1.6v59h-1.6zM152 56h1v27.9h-1zM152 93.7h1v97.25h-1zM152 199.4h1v184.7h-1zM152 392h1v59h-1zM170.3 47h1.75v38.3h-1.75zM170.3 93.7h1.75v98.05h-1.75zM170.3 199.4h1.75v185.5h-1.75zM170.3 392h1.75v59h-1.75zM188 66h1v17.9h-1zM188 93.7h1v97.25h-1zM188 199.4h1v184.7h-1zM188 392h1v59h-1zM206 56h1v27.9h-1zM206 93.7h1v97.25h-1zM206 199.4h1v184.7h-1zM206 392h1v59h-1zM223 56h1v27.9h-1zM223 93.7h1v97.25h-1zM223 199.4h1v184.7h-1zM223 392h1v59h-1zM241 56h1v27.9h-1zM241 93.7h1v97.25h-1zM241 199.4h1v184.7h-1zM241 392h1v59h-1zM259 66h1v17.9h-1zM259 93.7h1v97.25h-1zM259 199.4h1v184.7h-1zM259 392h1v59h-1zM276 47h1.75v38.3h-1.75zM276 93.7h1.75v98.05h-1.75zM276 199.4h1.75v185.5h-1.75zM276 392h1.75v59h-1.75zM294 56h1v27.9h-1zM294 93.7h1v97.25h-1zM294 199.4h1v184.7h-1zM294 392h1v59h-1zM312 56h1v27.9h-1zM312 93.7h1v97.25h-1zM312 199.4h1v184.7h-1zM312 392h1v59h-1zM330 66h1v17.9h-1zM330 93.7h1v97.25h-1zM330 199.4h1v184.7h-1zM330 392h1v59h-1zM348 56h1v27.9h-1zM348 93.7h1v97.25h-1zM348 199.4h1v184.7h-1zM348 392h1v59h-1zM365 56h1v27.9h-1zM365 93.7h1v97.25h-1zM365 199.4h1v184.7h-1zM365 392h1v59h-1zM383 66h1v17.9h-1zM383 93.7h1v97.25h-1zM383 199.4h1v184.7h-1zM383 392h1v59h-1zM400.25 47h1.75v38.3h-1.75zM400.25 93.7h1.75v98.05h-1.75zM400.25 199.4h1.75v185.5h-1.75zM400.25 392h1.75v59h-1.75zM419 66h1v17.9h-1zM419 93.7h1v97.25h-1zM419 199.4h1v184.7h-1zM419 392h1v59h-1zM436 56h1v27.9h-1zM436 93.7h1v97.25h-1zM436 199.4h1v184.7h-1zM436 392h1v59h-1zM454 66h1v17.9h-1zM454 93.7h1v97.25h-1zM454 199.4h1v184.7h-1zM454 392h1v59h-1zM472 56h1v27.9h-1zM472 93.7h1v97.25h-1zM472 199.4h1v184.7h-1zM472 392h1v59h-1zM489 56h1v27.9h-1zM489 93.7h1v97.25h-1zM489 199.4h1v184.7h-1zM489 392h1v59h-1zM507 47h1.75v38.3h-1.75zM507 93.7h1.75v98.05h-1.75zM507 199.4h1.75v185.5h-1.75zM507 392h1.75v59h-1.75zM525 66h1v17.9h-1zM525 93.7h1v97.25h-1zM525 199.4h1v184.7h-1zM525 392h1v59h-1zM543 56h1v27.9h-1zM543 93.7h1v97.25h-1zM543 199.4h1v184.7h-1zM543 392h1v59h-1zM560 56h1v27.9h-1zM560 93.7h1v97.25h-1zM560 199.4h1v184.7h-1zM560 392h1v59h-1zM578 66h1v17.9h-1zM578 93.7h1v97.25h-1zM578 199.4h1v184.7h-1zM578 392h1v59h-1zM596 56h1v27.9h-1zM596 93.7h1v97.25h-1zM596 199.4h1v184.7h-1zM596 392h1v59h-1zM612.75 47h1.75v38.3h-1.75zM612.75 93.7h1.75v98.05h-1.75zM612.75 199.4h1.75v185.5h-1.75zM612.75 392h1.75v59h-1.75zM631 56h1v27.9h-1zM631 93.7h1v97.25h-1zM631 199.4h1v184.7h-1zM631 392h1v59h-1zM649 66h1v17.9h-1zM649 93.7h1v97.25h-1zM649 199.4h1v184.7h-1zM649 392h1v59h-1zM667 56h1v27.9h-1zM667 93.7h1v97.25h-1zM667 199.4h1v184.7h-1zM667 392h1v59h-1zM685 66h1v17.9h-1zM685 93.7h1v97.25h-1zM685 199.4h1v184.7h-1zM685 392h1v59h-1zM702 56h1v27.9h-1zM702 93.7h1v97.25h-1zM702 199.4h1v184.7h-1zM702 392h1v59h-1zM720 66h1v17.9h-1zM720 93.7h1v97.25h-1zM720 199.4h1v184.7h-1zM720 392h1v59h-1zM738 56h1v27.9h-1zM738 93.7h1v97.25h-1zM738 199.4h1v184.7h-1zM738 392h1v59h-1zM755.25 45h1.75v40.3h-1.75zM755.25 93.7h1.75v97.25h-1.75zM755.25 199.4h1.75v184.7h-1.75zM755.25 392h1.75v59h-1.75z"/>
<g text-anchor="middle">
<text x="73.8" y="52.7" font-size="6.15" font-weight="bold" textLength="17.82" lengthAdjust="spacingAndGlyphs">DATES</text>
<text x="31" y="62.5" font-size="6.15" text-anchor="start" textLength="46.27" lengthAdjust="spacingAndGlyphs">Numéro semaine</text>
<text x="31" y="72.6" font-size="6.15" font-weight="bold" text-anchor="start" textLength="20.3" lengthAdjust="spacingAndGlyphs">Samedi</text>
<text x="31" y="82.3" font-size="6.15" font-weight="bold" text-anchor="start" textLength="27.66" lengthAdjust="spacingAndGlyphs">Dimanche</text>
<text x="153.15" y="52.8" font-size="6.15" font-weight="bold" textLength="16.09" lengthAdjust="spacingAndGlyphs">AOUT</text>
<text x="224.03" y="52.8" font-size="6.15" font-weight="bold" textLength="32.85" lengthAdjust="spacingAndGlyphs">SEPTEMBRE</text>
<text x="339" y="52.8" font-size="6.15" font-weight="bold" textLength="26.4" lengthAdjust="spacingAndGlyphs">OCTOBRE</text>
<text x="454.5" y="52.8" font-size="6.15" font-weight="bold" textLength="32.44" lengthAdjust="spacingAndGlyphs">NOVEMBRE</text>
<text x="560.75" y="52.8" font-size="6.15" font-weight="bold" textLength="30.59" lengthAdjust="spacingAndGlyphs">DECEMBRE</text>
<text x="684.88" y="52.8" font-size="6.15" font-weight="bold" textLength="23.2" lengthAdjust="spacingAndGlyphs">JANVIER</text>
<text x="144" y="62" font-size="6.15" textLength="6.71" lengthAdjust="spacingAndGlyphs" fill="#262626">33</text>
<text x="161.65" y="62" font-size="6.15" textLength="6.71" lengthAdjust="spacingAndGlyphs" fill="#262626">34</text>
<text x="197.5" y="62" font-size="6.15" textLength="6.71" lengthAdjust="spacingAndGlyphs" fill="#262626">35</text>
<text x="215" y="62" font-size="6.15" textLength="6.71" lengthAdjust="spacingAndGlyphs" fill="#262626">36</text>
<text x="232.5" y="62" font-size="6.15" textLength="6.71" lengthAdjust="spacingAndGlyphs" fill="#262626">37</text>
<text x="268" y="62" font-size="6.15" textLength="6.71" lengthAdjust="spacingAndGlyphs" fill="#262626">38</text>
<text x="285.88" y="62" font-size="6.15" textLength="6.71" lengthAdjust="spacingAndGlyphs" fill="#262626">39</text>
<text x="303.5" y="62" font-size="6.15" textLength="6.71" lengthAdjust="spacingAndGlyphs" fill="#262626">40</text>
<text x="339.5" y="62" font-size="6.15" textLength="6.71" lengthAdjust="spacingAndGlyphs" fill="#262626">41</text>
<text x="357" y="62" font-size="6.15" textLength="6.71" lengthAdjust="spacingAndGlyphs" fill="#262626">42</text>
<text x="383.12" y="62" font-size="6.15" textLength="6.71" lengthAdjust="spacingAndGlyphs" fill="#262626">43</text>
<text x="419" y="62" font-size="6.15" textLength="6.71" lengthAdjust="spacingAndGlyphs" fill="#262626">44</text>
<text x="454.5" y="62" font-size="6.15" textLength="6.71" lengthAdjust="spacingAndGlyphs" fill="#262626">45</text>
<text x="481" y="62" font-size="6.15" textLength="6.71" lengthAdjust="spacingAndGlyphs" fill="#262626">46</text>
<text x="498.5" y="62" font-size="6.15" textLength="6.71" lengthAdjust="spacingAndGlyphs" fill="#262626">47</text>
<text x="525.88" y="62" font-size="6.15" textLength="6.71" lengthAdjust="spacingAndGlyphs" fill="#262626">48</text>
<text x="552" y="62" font-size="6.15" textLength="6.71" lengthAdjust="spacingAndGlyphs" fill="#262626">49</text>
<text x="578.5" y="62" font-size="6.15" textLength="6.71" lengthAdjust="spacingAndGlyphs" fill="#262626">50</text>
<text x="604.88" y="62" font-size="6.15" textLength="6.71" lengthAdjust="spacingAndGlyphs" fill="#262626">51</text>
<text x="622.75" y="62" font-size="6.15" textLength="6.71" lengthAdjust="spacingAndGlyphs" fill="#262626">52</text>
<text x="649.5" y="62" font-size="6.15" textLength="6.71" lengthAdjust="spacingAndGlyphs" fill="#262626">01</text>
<text x="685" y="62" font-size="6.15" textLength="6.71" lengthAdjust="spacingAndGlyphs" fill="#262626">02</text>
<text x="720.5" y="62" font-size="6.15" textLength="6.71" lengthAdjust="spacingAndGlyphs" fill="#262626">03</text>
<text x="747.12" y="62" font-size="6.15" textLength="6.71" lengthAdjust="spacingAndGlyphs" fill="#262626">04</text>
<text x="144" y="72.1" font-size="5.7" font-weight="bold" textLength="10.28" lengthAdjust="spacingAndGlyphs">S 21</text>
<text x="144" y="82" font-size="5.7" font-weight="bold" textLength="11.22" lengthAdjust="spacingAndGlyphs">D 22</text>
<text x="161.65" y="72.1" font-size="5.7" font-weight="bold" textLength="10.28" lengthAdjust="spacingAndGlyphs">S 28</text>
<text x="161.65" y="82" font-size="5.7" font-weight="bold" textLength="11.22" lengthAdjust="spacingAndGlyphs">D 29</text>
<text x="180.03" y="72.1" font-size="5.7" font-weight="bold" textLength="12.68" lengthAdjust="spacingAndGlyphs">M 01</text>
<text x="180.03" y="82" font-size="5.7" font-weight="bold" textLength="12.68" lengthAdjust="spacingAndGlyphs">M 02</text>
<text x="197.5" y="72.1" font-size="5.7" font-weight="bold" textLength="10.28" lengthAdjust="spacingAndGlyphs">S 04</text>
<text x="197.5" y="82" font-size="5.7" font-weight="bold" textLength="11.22" lengthAdjust="spacingAndGlyphs">D 05</text>
<text x="215" y="72.1" font-size="5.7" font-weight="bold" textLength="10.28" lengthAdjust="spacingAndGlyphs">S 11</text>
<text x="215" y="82" font-size="5.7" font-weight="bold" textLength="11.22" lengthAdjust="spacingAndGlyphs">D 12</text>
<text x="232.5" y="72.1" font-size="5.7" font-weight="bold" textLength="10.28" lengthAdjust="spacingAndGlyphs">S 18</text>
<text x="232.5" y="82" font-size="5.7" font-weight="bold" textLength="11.22" lengthAdjust="spacingAndGlyphs">D 19</text>
<text x="250.5" y="72.1" font-size="5.7" font-weight="bold" textLength="12.68" lengthAdjust="spacingAndGlyphs">M 21</text>
<text x="250.5" y="82" font-size="5.7" font-weight="bold" textLength="12.68" lengthAdjust="spacingAndGlyphs">M 22</text>
<text x="268" y="72.1" font-size="5.7" font-weight="bold" textLength="10.28" lengthAdjust="spacingAndGlyphs">S 25</text>
<text x="268" y="82" font-size="5.7" font-weight="bold" textLength="11.22" lengthAdjust="spacingAndGlyphs">D 26</text>
<text x="285.88" y="72.1" font-size="5.7" font-weight="bold" textLength="10.28" lengthAdjust="spacingAndGlyphs">S 02</text>
<text x="285.88" y="82" font-size="5.7" font-weight="bold" textLength="11.22" lengthAdjust="spacingAndGlyphs">D 03</text>
<text x="303.5" y="72.1" font-size="5.7" font-weight="bold" textLength="10.28" lengthAdjust="spacingAndGlyphs">S 09</text>
<text x="303.5" y="82" font-size="5.7" font-weight="bold" textLength="11.22" lengthAdjust="spacingAndGlyphs">D 10</text>
<text x="321.5" y="72.1" font-size="5.7" font-weight="bold" textLength="12.68" lengthAdjust="spacingAndGlyphs">M 12</text>
<text x="321.5" y="82" font-size="5.7" font-weight="bold" textLength="12.68" lengthAdjust="spacingAndGlyphs">M 13</text>
<text x="339.5" y="72.1" font-size="5.7" font-weight="bold" textLength="10.28" lengthAdjust="spacingAndGlyphs">S 16</text>
<text x="339.5" y="82" font-size="5.7" font-weight="bold" textLength="11.22" lengthAdjust="spacingAndGlyphs">D 17</text>
<text x="357" y="72.1" font-size="5.7" font-weight="bold" textLength="10.28" lengthAdjust="spacingAndGlyphs">S 23</text>
<text x="357" y="82" font-size="5.7" font-weight="bold" textLength="11.22" lengthAdjust="spacingAndGlyphs">D 24</text>
<text x="374.5" y="77.1" font-size="5.7" font-weight="bold" textLength="12.68" lengthAdjust="spacingAndGlyphs">M 26</text>
<text x="392.12" y="72.1" font-size="5.7" font-weight="bold" textLength="10.28" lengthAdjust="spacingAndGlyphs">S 30</text>
<text x="392.12" y="82" font-size="5.7" font-weight="bold" textLength="11.22" lengthAdjust="spacingAndGlyphs">D 31</text>
<text x="410.5" y="77.1" font-size="5.7" font-weight="bold" textLength="9.98" lengthAdjust="spacingAndGlyphs" fill="#ff0000">L 01</text>
<text x="428" y="72.1" font-size="5.7" font-weight="bold" textLength="10.28" lengthAdjust="spacingAndGlyphs">S 06</text>
<text x="428" y="82" font-size="5.7" font-weight="bold" textLength="11.22" lengthAdjust="spacingAndGlyphs">D 07</text>
<text x="445.5" y="72.1" font-size="5.7" font-weight="bold" textLength="12.68" lengthAdjust="spacingAndGlyphs">M 10</text>
<text x="445.5" y="82" font-size="5.7" font-weight="bold" fill="#ff0000"><tspan textLength="1.69" lengthAdjust="spacingAndGlyphs">J</tspan> <tspan dx=".3" textLength="6.08" lengthAdjust="spacingAndGlyphs">11</tspan></text>
<text x="463.5" y="72.1" font-size="5.7" font-weight="bold" textLength="10.28" lengthAdjust="spacingAndGlyphs">S 13</text>
<text x="463.5" y="82" font-size="5.7" font-weight="bold" textLength="11.22" lengthAdjust="spacingAndGlyphs">D 14</text>
<text x="481" y="72.1" font-size="5.7" font-weight="bold" textLength="10.28" lengthAdjust="spacingAndGlyphs">S 20</text>
<text x="481" y="82" font-size="5.7" font-weight="bold" textLength="11.22" lengthAdjust="spacingAndGlyphs">D 21</text>
<text x="498.5" y="72.1" font-size="5.7" font-weight="bold" textLength="10.28" lengthAdjust="spacingAndGlyphs">S 27</text>
<text x="498.5" y="82" font-size="5.7" font-weight="bold" textLength="11.22" lengthAdjust="spacingAndGlyphs">D 28</text>
<text x="516.88" y="72.1" font-size="5.7" font-weight="bold" textLength="12.68" lengthAdjust="spacingAndGlyphs">M 01</text>
<text x="516.88" y="82" font-size="5.7" font-weight="bold" textLength="12.68" lengthAdjust="spacingAndGlyphs">M 02</text>
<text x="534.5" y="72.1" font-size="5.7" font-weight="bold" textLength="10.28" lengthAdjust="spacingAndGlyphs">S 04</text>
<text x="534.5" y="82" font-size="5.7" font-weight="bold" textLength="11.22" lengthAdjust="spacingAndGlyphs">D 05</text>
<text x="552" y="72.1" font-size="5.7" font-weight="bold" textLength="10.28" lengthAdjust="spacingAndGlyphs">S 11</text>
<text x="552" y="82" font-size="5.7" font-weight="bold" textLength="11.22" lengthAdjust="spacingAndGlyphs">D 12</text>
<text x="569.5" y="72.1" font-size="5.7" font-weight="bold" textLength="12.68" lengthAdjust="spacingAndGlyphs">M 14</text>
<text x="569.5" y="82" font-size="5.7" font-weight="bold" textLength="12.68" lengthAdjust="spacingAndGlyphs">M 15</text>
<text x="587.5" y="72.1" font-size="5.7" font-weight="bold" textLength="10.28" lengthAdjust="spacingAndGlyphs">S 18</text>
<text x="587.5" y="82" font-size="5.7" font-weight="bold" textLength="11.22" lengthAdjust="spacingAndGlyphs">D 19</text>
<text x="604.88" y="72.1" font-size="5.7" font-weight="bold" textLength="12.68" lengthAdjust="spacingAndGlyphs">M 21</text>
<text x="604.88" y="82" font-size="5.7" font-weight="bold" textLength="12.68" lengthAdjust="spacingAndGlyphs">M 22</text>
<text x="622.75" y="72.1" font-size="5.7" font-weight="bold" textLength="10.28" lengthAdjust="spacingAndGlyphs" fill="#ff0000">S 01</text>
<text x="622.75" y="82" font-size="5.7" font-weight="bold" textLength="11.22" lengthAdjust="spacingAndGlyphs">D 02</text>
<text x="640.5" y="72.1" font-size="5.7" font-weight="bold" textLength="12.68" lengthAdjust="spacingAndGlyphs">M 04</text>
<text x="640.5" y="82" font-size="5.7" font-weight="bold" textLength="12.68" lengthAdjust="spacingAndGlyphs">M 05</text>
<text x="658.5" y="72.1" font-size="5.7" font-weight="bold" textLength="10.28" lengthAdjust="spacingAndGlyphs">S 08</text>
<text x="658.5" y="82" font-size="5.7" font-weight="bold" textLength="11.22" lengthAdjust="spacingAndGlyphs">D 09</text>
<text x="676.5" y="72.1" font-size="5.7" font-weight="bold" textLength="10.28" lengthAdjust="spacingAndGlyphs">S 15</text>
<text x="676.5" y="82" font-size="5.7" font-weight="bold" textLength="11.22" lengthAdjust="spacingAndGlyphs">D 16</text>
<text x="694" y="72.1" font-size="5.7" font-weight="bold" textLength="12.68" lengthAdjust="spacingAndGlyphs">M 18</text>
<text x="694" y="82" font-size="5.7" font-weight="bold" textLength="12.68" lengthAdjust="spacingAndGlyphs">M 19</text>
<text x="711.5" y="72.1" font-size="5.7" font-weight="bold" textLength="10.28" lengthAdjust="spacingAndGlyphs">S 22</text>
<text x="711.5" y="82" font-size="5.7" font-weight="bold" textLength="11.22" lengthAdjust="spacingAndGlyphs">D 23</text>
<text x="729.5" y="72.1" font-size="5.7" font-weight="bold" textLength="12.68" lengthAdjust="spacingAndGlyphs">M 25</text>
<text x="729.5" y="82" font-size="5.7" font-weight="bold" textLength="12.68" lengthAdjust="spacingAndGlyphs">M 26</text>
<text x="747.12" y="72.1" font-size="5.7" font-weight="bold" textLength="10.28" lengthAdjust="spacingAndGlyphs">S 29</text>
<text x="747.12" y="82" font-size="5.7" font-weight="bold" textLength="11.22" lengthAdjust="spacingAndGlyphs">D 30</text>
<text x="445.5" y="92.2" font-size="7.7" font-weight="bold" textLength="28.79" lengthAdjust="spacingAndGlyphs">SENIORS</text>
<text x="445.5" y="197.92" font-size="7.7" font-weight="bold" textLength="66.2" lengthAdjust="spacingAndGlyphs">JEUNES MASCULINS</text>
<text x="445.5" y="391.1" font-size="7.7" font-weight="bold" textLength="83.39" lengthAdjust="spacingAndGlyphs">FOOTBALL D'ENTREPRISE</text>
<text x="31" y="101.17" font-size="6.15" font-weight="bold" text-anchor="start" textLength="19.3" lengthAdjust="spacingAndGlyphs">Ligue 1</text>
<text x="126.6" y="101.33" font-size="6.15" textLength="6.71" lengthAdjust="spacingAndGlyphs">20</text>
<text x="144" y="101.17" font-size="5.7" font-weight="bold"><tspan textLength="1.69" lengthAdjust="spacingAndGlyphs">J</tspan> <tspan dx=".3" textLength="6.08" lengthAdjust="spacingAndGlyphs">03</tspan></text>
<text x="161.65" y="101.17" font-size="5.7" font-weight="bold"><tspan textLength="1.69" lengthAdjust="spacingAndGlyphs">J</tspan> <tspan dx=".3" textLength="6.08" lengthAdjust="spacingAndGlyphs">04</tspan></text>
<text x="215" y="101.17" font-size="5.7" font-weight="bold"><tspan textLength="1.69" lengthAdjust="spacingAndGlyphs">J</tspan> <tspan dx=".3" textLength="6.08" lengthAdjust="spacingAndGlyphs">05</tspan></text>
<text x="232.5" y="101.17" font-size="5.7" font-weight="bold"><tspan textLength="1.69" lengthAdjust="spacingAndGlyphs">J</tspan> <tspan dx=".3" textLength="6.08" lengthAdjust="spacingAndGlyphs">06</tspan></text>
<text x="250.5" y="101.17" font-size="5.7" font-weight="bold"><tspan textLength="1.69" lengthAdjust="spacingAndGlyphs">J</tspan> <tspan dx=".3" textLength="6.08" lengthAdjust="spacingAndGlyphs">07</tspan></text>
<text x="268" y="101.17" font-size="5.7" font-weight="bold"><tspan textLength="1.69" lengthAdjust="spacingAndGlyphs">J</tspan> <tspan dx=".3" textLength="6.08" lengthAdjust="spacingAndGlyphs">08</tspan></text>
<text x="285.88" y="101.17" font-size="5.7" font-weight="bold"><tspan textLength="1.69" lengthAdjust="spacingAndGlyphs">J</tspan> <tspan dx=".3" textLength="6.08" lengthAdjust="spacingAndGlyphs">09</tspan></text>
<text x="339.5" y="101.17" font-size="5.7" font-weight="bold"><tspan textLength="1.69" lengthAdjust="spacingAndGlyphs">J</tspan> <tspan dx=".3" textLength="6.08" lengthAdjust="spacingAndGlyphs">10</tspan></text>
<text x="357" y="101.17" font-size="5.7" font-weight="bold"><tspan textLength="1.69" lengthAdjust="spacingAndGlyphs">J</tspan> <tspan dx=".3" textLength="6.08" lengthAdjust="spacingAndGlyphs">11</tspan></text>
<text x="392.12" y="101.17" font-size="5.7" font-weight="bold"><tspan textLength="1.69" lengthAdjust="spacingAndGlyphs">J</tspan> <tspan dx=".3" textLength="6.08" lengthAdjust="spacingAndGlyphs">12</tspan></text>
<text x="428" y="101.17" font-size="5.7" font-weight="bold"><tspan textLength="1.69" lengthAdjust="spacingAndGlyphs">J</tspan> <tspan dx=".3" textLength="6.08" lengthAdjust="spacingAndGlyphs">13</tspan></text>
<text x="481" y="101.17" font-size="5.7" font-weight="bold"><tspan textLength="1.69" lengthAdjust="spacingAndGlyphs">J</tspan> <tspan dx=".3" textLength="6.08" lengthAdjust="spacingAndGlyphs">14</tspan></text>
<text x="498.5" y="101.17" font-size="5.7" font-weight="bold"><tspan textLength="1.69" lengthAdjust="spacingAndGlyphs">J</tspan> <tspan dx=".3" textLength="6.08" lengthAdjust="spacingAndGlyphs">15</tspan></text>
<text x="516.88" y="101.17" font-size="5.7" font-weight="bold"><tspan textLength="1.69" lengthAdjust="spacingAndGlyphs">J</tspan> <tspan dx=".3" textLength="6.08" lengthAdjust="spacingAndGlyphs">16</tspan></text>
<text x="534.5" y="101.17" font-size="5.7" font-weight="bold"><tspan textLength="1.69" lengthAdjust="spacingAndGlyphs">J</tspan> <tspan dx=".3" textLength="6.08" lengthAdjust="spacingAndGlyphs">17</tspan></text>
<text x="552" y="101.17" font-size="5.7" font-weight="bold"><tspan textLength="1.69" lengthAdjust="spacingAndGlyphs">J</tspan> <tspan dx=".3" textLength="6.08" lengthAdjust="spacingAndGlyphs">18</tspan></text>
<text x="587.5" y="101.17" font-size="5.7" font-weight="bold" textLength="3.17" lengthAdjust="spacingAndGlyphs">C</text>
<text x="604.88" y="101.17" font-size="5.7" font-weight="bold"><tspan textLength="1.69" lengthAdjust="spacingAndGlyphs">J</tspan> <tspan dx=".3" textLength="6.08" lengthAdjust="spacingAndGlyphs">19</tspan></text>
<text x="622.75" y="101.17" font-size="5.7" font-weight="bold" textLength="3.17" lengthAdjust="spacingAndGlyphs">C</text>
<text x="658.5" y="101.17" font-size="5.7" font-weight="bold"><tspan textLength="1.69" lengthAdjust="spacingAndGlyphs">J</tspan> <tspan dx=".3" textLength="6.08" lengthAdjust="spacingAndGlyphs">20</tspan></text>
<text x="676.5" y="101.17" font-size="5.7" font-weight="bold"><tspan textLength="1.69" lengthAdjust="spacingAndGlyphs">J</tspan> <tspan dx=".3" textLength="6.08" lengthAdjust="spacingAndGlyphs">21</tspan></text>
<text x="711.5" y="101.17" font-size="5.7" font-weight="bold"><tspan textLength="1.69" lengthAdjust="spacingAndGlyphs">J</tspan> <tspan dx=".3" textLength="6.08" lengthAdjust="spacingAndGlyphs">22</tspan></text>
<text x="747.12" y="101.17" font-size="5.7" font-weight="bold" textLength="3.17" lengthAdjust="spacingAndGlyphs">C</text>
<text x="31" y="110.35" font-size="6.15" font-weight="bold" text-anchor="start" textLength="19.3" lengthAdjust="spacingAndGlyphs">Ligue 2</text>
<text x="126.6" y="110.5" font-size="6.15" textLength="6.71" lengthAdjust="spacingAndGlyphs">20</text>
<text x="144" y="110.35" font-size="5.7" font-weight="bold"><tspan textLength="1.69" lengthAdjust="spacingAndGlyphs">J</tspan> <tspan dx=".3" textLength="6.08" lengthAdjust="spacingAndGlyphs">05</tspan></text>
<text x="161.65" y="110.35" font-size="5.7" font-weight="bold"><tspan textLength="1.69" lengthAdjust="spacingAndGlyphs">J</tspan> <tspan dx=".3" textLength="6.08" lengthAdjust="spacingAndGlyphs">06</tspan></text>
<text x="215" y="110.35" font-size="5.7" font-weight="bold"><tspan textLength="1.69" lengthAdjust="spacingAndGlyphs">J</tspan> <tspan dx=".3" textLength="6.08" lengthAdjust="spacingAndGlyphs">07</tspan></text>
<text x="232.5" y="110.35" font-size="5.7" font-weight="bold"><tspan textLength="1.69" lengthAdjust="spacingAndGlyphs">J</tspan> <tspan dx=".3" textLength="6.08" lengthAdjust="spacingAndGlyphs">08</tspan></text>
<text x="250.5" y="110.35" font-size="5.7" font-weight="bold"><tspan textLength="1.69" lengthAdjust="spacingAndGlyphs">J</tspan> <tspan dx=".3" textLength="6.08" lengthAdjust="spacingAndGlyphs">09</tspan></text>
<text x="268" y="110.35" font-size="5.7" font-weight="bold"><tspan textLength="1.69" lengthAdjust="spacingAndGlyphs">J</tspan> <tspan dx=".3" textLength="6.08" lengthAdjust="spacingAndGlyphs">10</tspan></text>
<text x="285.88" y="110.35" font-size="5.7" font-weight="bold"><tspan textLength="1.69" lengthAdjust="spacingAndGlyphs">J</tspan> <tspan dx=".3" textLength="6.08" lengthAdjust="spacingAndGlyphs">11</tspan></text>
<text x="339.5" y="110.35" font-size="5.7" font-weight="bold"><tspan textLength="1.69" lengthAdjust="spacingAndGlyphs">J</tspan> <tspan dx=".3" textLength="6.08" lengthAdjust="spacingAndGlyphs">12</tspan></text>
<text x="357" y="110.35" font-size="5.7" font-weight="bold"><tspan textLength="1.69" lengthAdjust="spacingAndGlyphs">J</tspan> <tspan dx=".3" textLength="6.08" lengthAdjust="spacingAndGlyphs">13</tspan></text>
<text x="392.12" y="110.35" font-size="5.7" font-weight="bold"><tspan textLength="1.69" lengthAdjust="spacingAndGlyphs">J</tspan> <tspan dx=".3" textLength="6.08" lengthAdjust="spacingAndGlyphs">14</tspan></text>
<text x="428" y="110.35" font-size="5.7" font-weight="bold"><tspan textLength="1.69" lengthAdjust="spacingAndGlyphs">J</tspan> <tspan dx=".3" textLength="6.08" lengthAdjust="spacingAndGlyphs">15</tspan></text>
<text x="463.5" y="110.35" font-size="5.7" font-weight="bold" textLength="3.17" lengthAdjust="spacingAndGlyphs">C</text>
<text x="481" y="110.35" font-size="5.7" font-weight="bold"><tspan textLength="1.69" lengthAdjust="spacingAndGlyphs">J</tspan> <tspan dx=".3" textLength="6.08" lengthAdjust="spacingAndGlyphs">16</tspan></text>
<text x="498.5" y="110.35" font-size="5.7" font-weight="bold" textLength="3.17" lengthAdjust="spacingAndGlyphs">C</text>
<text x="534.5" y="110.35" font-size="5.7" font-weight="bold"><tspan textLength="1.69" lengthAdjust="spacingAndGlyphs">J</tspan> <tspan dx=".3" textLength="6.08" lengthAdjust="spacingAndGlyphs">17</tspan></text>
<text x="552" y="110.35" font-size="5.7" font-weight="bold"><tspan textLength="1.69" lengthAdjust="spacingAndGlyphs">J</tspan> <tspan dx=".3" textLength="6.08" lengthAdjust="spacingAndGlyphs">18</tspan></text>
<text x="587.5" y="110.35" font-size="5.7" font-weight="bold" textLength="3.17" lengthAdjust="spacingAndGlyphs">C</text>
<text x="604.88" y="110.35" font-size="5.7" font-weight="bold"><tspan textLength="1.69" lengthAdjust="spacingAndGlyphs">J</tspan> <tspan dx=".3" textLength="6.08" lengthAdjust="spacingAndGlyphs">19</tspan></text>
<text x="622.75" y="110.35" font-size="5.7" font-weight="bold" textLength="3.17" lengthAdjust="spacingAndGlyphs">C</text>
<text x="658.5" y="110.35" font-size="5.7" font-weight="bold"><tspan textLength="1.69" lengthAdjust="spacingAndGlyphs">J</tspan> <tspan dx=".3" textLength="6.08" lengthAdjust="spacingAndGlyphs">20</tspan></text>
<text x="676.5" y="110.35" font-size="5.7" font-weight="bold"><tspan textLength="1.69" lengthAdjust="spacingAndGlyphs">J</tspan> <tspan dx=".3" textLength="6.08" lengthAdjust="spacingAndGlyphs">21</tspan></text>
<text x="711.5" y="110.35" font-size="5.7" font-weight="bold"><tspan textLength="1.69" lengthAdjust="spacingAndGlyphs">J</tspan> <tspan dx=".3" textLength="6.08" lengthAdjust="spacingAndGlyphs">22</tspan></text>
<text x="747.12" y="110.35" font-size="5.7" font-weight="bold" textLength="3.17" lengthAdjust="spacingAndGlyphs">C</text>
<text x="31" y="120.35" font-size="6.15" font-weight="bold" text-anchor="start" textLength="28.43" lengthAdjust="spacingAndGlyphs">National 1</text>
<text x="126.6" y="120.5" font-size="6.15" textLength="6.71" lengthAdjust="spacingAndGlyphs">18</text>
<text x="144" y="120.35" font-size="5.7" font-weight="bold"><tspan textLength="1.69" lengthAdjust="spacingAndGlyphs">J</tspan> <tspan dx=".3" textLength="6.08" lengthAdjust="spacingAndGlyphs">03</tspan></text>
<text x="161.65" y="120.35" font-size="5.7" font-weight="bold"><tspan textLength="1.69" lengthAdjust="spacingAndGlyphs">J</tspan> <tspan dx=".3" textLength="6.08" lengthAdjust="spacingAndGlyphs">04</tspan></text>
<text x="197.5" y="120.35" font-size="5.7" font-weight="bold"><tspan textLength="1.69" lengthAdjust="spacingAndGlyphs">J</tspan> <tspan dx=".3" textLength="6.08" lengthAdjust="spacingAndGlyphs">05</tspan></text>
<text x="215" y="120.35" font-size="5.7" font-weight="bold"><tspan textLength="1.69" lengthAdjust="spacingAndGlyphs">J</tspan> <tspan dx=".3" textLength="6.08" lengthAdjust="spacingAndGlyphs">06</tspan></text>
<text x="232.5" y="120.35" font-size="5.7" font-weight="bold"><tspan textLength="1.69" lengthAdjust="spacingAndGlyphs">J</tspan> <tspan dx=".3" textLength="6.08" lengthAdjust="spacingAndGlyphs">07</tspan></text>
<text x="268" y="120.35" font-size="5.7" font-weight="bold"><tspan textLength="1.69" lengthAdjust="spacingAndGlyphs">J</tspan> <tspan dx=".3" textLength="6.08" lengthAdjust="spacingAndGlyphs">08</tspan></text>
<text x="285.88" y="120.35" font-size="5.7" font-weight="bold"><tspan textLength="1.69" lengthAdjust="spacingAndGlyphs">J</tspan> <tspan dx=".3" textLength="6.08" lengthAdjust="spacingAndGlyphs">09</tspan></text>
<text x="303.5" y="120.35" font-size="5.7" font-weight="bold"><tspan textLength="1.69" lengthAdjust="spacingAndGlyphs">J</tspan> <tspan dx=".3" textLength="6.08" lengthAdjust="spacingAndGlyphs">10</tspan></text>
<text x="339.5" y="120.35" font-size="5.7" font-weight="bold" textLength="3.17" lengthAdjust="spacingAndGlyphs">C</text>
<text x="357" y="120.35" font-size="5.7" font-weight="bold"><tspan textLength="1.69" lengthAdjust="spacingAndGlyphs">J</tspan> <tspan dx=".3" textLength="6.08" lengthAdjust="spacingAndGlyphs">11</tspan></text>
<text x="374.5" y="120.35" font-size="5.7" font-weight="bold"><tspan textLength="1.69" lengthAdjust="spacingAndGlyphs">J</tspan> <tspan dx=".3" textLength="6.08" lengthAdjust="spacingAndGlyphs">12</tspan></text>
<text x="392.12" y="120.35" font-size="5.7" font-weight="bold" textLength="14.38" lengthAdjust="spacingAndGlyphs">C/MR</text>
<text x="428" y="120.35" font-size="5.7" font-weight="bold"><tspan textLength="1.69" lengthAdjust="spacingAndGlyphs">J</tspan> <tspan dx=".3" textLength="6.08" lengthAdjust="spacingAndGlyphs">13</tspan></text>
<text x="463.5" y="120.35" font-size="5.7" font-weight="bold" textLength="14.38" lengthAdjust="spacingAndGlyphs">C/MR</text>
<text x="481" y="120.35" font-size="5.7" font-weight="bold"><tspan textLength="1.69" lengthAdjust="spacingAndGlyphs">J</tspan> <tspan dx=".3" textLength="6.08" lengthAdjust="spacingAndGlyphs">14</tspan></text>
<text x="498.5" y="120.35" font-size="5.7" font-weight="bold" textLength="14.38" lengthAdjust="spacingAndGlyphs">C/MR</text>
<text x="534.5" y="120.35" font-size="5.7" font-weight="bold"><tspan textLength="1.69" lengthAdjust="spacingAndGlyphs">J</tspan> <tspan dx=".3" textLength="6.08" lengthAdjust="spacingAndGlyphs">15</tspan></text>
<text x="552" y="120.35" font-size="5.7" font-weight="bold"><tspan textLength="1.69" lengthAdjust="spacingAndGlyphs">J</tspan> <tspan dx=".3" textLength="6.08" lengthAdjust="spacingAndGlyphs">16</tspan></text>
<text x="587.5" y="120.35" font-size="5.7" font-weight="bold" textLength="14.38" lengthAdjust="spacingAndGlyphs">C/MR</text>
<text x="658.5" y="120.35" font-size="5.7" font-weight="bold"><tspan textLength="1.69" lengthAdjust="spacingAndGlyphs">J</tspan> <tspan dx=".3" textLength="6.08" lengthAdjust="spacingAndGlyphs">17</tspan></text>
<text x="676.5" y="120.35" font-size="5.7" font-weight="bold"><tspan textLength="1.69" lengthAdjust="spacingAndGlyphs">J</tspan> <tspan dx=".3" textLength="6.08" lengthAdjust="spacingAndGlyphs">18</tspan></text>
<text x="711.5" y="120.35" font-size="5.7" font-weight="bold"><tspan textLength="1.69" lengthAdjust="spacingAndGlyphs">J</tspan> <tspan dx=".3" textLength="6.08" lengthAdjust="spacingAndGlyphs">19</tspan></text>
<text x="747.12" y="120.35" font-size="5.7" font-weight="bold" textLength="14.38" lengthAdjust="spacingAndGlyphs">C/MR</text>
<text x="31" y="130.35" font-size="6.15" font-weight="bold" text-anchor="start" textLength="28.43" lengthAdjust="spacingAndGlyphs">National 2</text>
<text x="126.6" y="130.5" font-size="6.15" textLength="6.71" lengthAdjust="spacingAndGlyphs">16</text>
<text x="144" y="130.35" font-size="5.7" font-weight="bold"><tspan textLength="1.69" lengthAdjust="spacingAndGlyphs">J</tspan> <tspan dx=".3" textLength="6.08" lengthAdjust="spacingAndGlyphs">03</tspan></text>
<text x="161.65" y="130.35" font-size="5.7" font-weight="bold"><tspan textLength="1.69" lengthAdjust="spacingAndGlyphs">J</tspan> <tspan dx=".3" textLength="6.08" lengthAdjust="spacingAndGlyphs">04</tspan></text>
<text x="197.5" y="130.35" font-size="5.7" font-weight="bold"><tspan textLength="1.69" lengthAdjust="spacingAndGlyphs">J</tspan> <tspan dx=".3" textLength="6.08" lengthAdjust="spacingAndGlyphs">05</tspan></text>
<text x="215" y="130.35" font-size="5.7" font-weight="bold"><tspan textLength="1.69" lengthAdjust="spacingAndGlyphs">J</tspan> <tspan dx=".3" textLength="6.08" lengthAdjust="spacingAndGlyphs">06</tspan></text>
<text x="232.5" y="130.35" font-size="5.7" font-weight="bold"><tspan textLength="1.69" lengthAdjust="spacingAndGlyphs">J</tspan> <tspan dx=".3" textLength="6.08" lengthAdjust="spacingAndGlyphs">07</tspan></text>
<text x="268" y="130.35" font-size="5.7" font-weight="bold"><tspan textLength="1.69" lengthAdjust="spacingAndGlyphs">J</tspan> <tspan dx=".3" textLength="6.08" lengthAdjust="spacingAndGlyphs">08</tspan></text>
<text x="285.88" y="130.35" font-size="5.7" font-weight="bold" textLength="14.38" lengthAdjust="spacingAndGlyphs">C/MR</text>
<text x="303.5" y="130.35" font-size="5.7" font-weight="bold"><tspan textLength="1.69" lengthAdjust="spacingAndGlyphs">J</tspan> <tspan dx=".3" textLength="6.08" lengthAdjust="spacingAndGlyphs">09</tspan></text>
<text x="339.5" y="130.35" font-size="5.7" font-weight="bold" textLength="14.38" lengthAdjust="spacingAndGlyphs">C/MR</text>
<text x="357" y="130.35" font-size="5.7" font-weight="bold"><tspan textLength="1.69" lengthAdjust="spacingAndGlyphs">J</tspan> <tspan dx=".3" textLength="6.08" lengthAdjust="spacingAndGlyphs">10</tspan></text>
<text x="392.12" y="130.35" font-size="5.7" font-weight="bold" textLength="14.38" lengthAdjust="spacingAndGlyphs">C/MR</text>
<text x="428" y="130.35" font-size="5.7" font-weight="bold"><tspan textLength="1.69" lengthAdjust="spacingAndGlyphs">J</tspan> <tspan dx=".3" textLength="6.08" lengthAdjust="spacingAndGlyphs">11</tspan></text>
<text x="445.5" y="130.35" font-size="5.7" font-weight="bold" textLength="8.62" lengthAdjust="spacingAndGlyphs">MR</text>
<text x="463.5" y="130.35" font-size="5.7" font-weight="bold" textLength="14.38" lengthAdjust="spacingAndGlyphs">C/MR</text>
<text x="481" y="130.35" font-size="5.7" font-weight="bold"><tspan textLength="1.69" lengthAdjust="spacingAndGlyphs">J</tspan> <tspan dx=".3" textLength="6.08" lengthAdjust="spacingAndGlyphs">12</tspan></text>
<text x="498.5" y="130.35" font-size="5.7" font-weight="bold" textLength="14.38" lengthAdjust="spacingAndGlyphs">C/MR</text>
<text x="534.5" y="130.35" font-size="5.7" font-weight="bold"><tspan textLength="1.69" lengthAdjust="spacingAndGlyphs">J</tspan> <tspan dx=".3" textLength="6.08" lengthAdjust="spacingAndGlyphs">13</tspan></text>
<text x="552" y="130.35" font-size="5.7" font-weight="bold"><tspan textLength="1.69" lengthAdjust="spacingAndGlyphs">J</tspan> <tspan dx=".3" textLength="6.08" lengthAdjust="spacingAndGlyphs">14</tspan></text>
<text x="587.5" y="130.35" font-size="5.7" font-weight="bold" textLength="14.38" lengthAdjust="spacingAndGlyphs">C/MR</text>
<text x="658.5" y="130.35" font-size="5.7" font-weight="bold" textLength="8.62" lengthAdjust="spacingAndGlyphs">MR</text>
<text x="676.5" y="130.35" font-size="5.7" font-weight="bold"><tspan textLength="1.69" lengthAdjust="spacingAndGlyphs">J</tspan> <tspan dx=".3" textLength="6.08" lengthAdjust="spacingAndGlyphs">15</tspan></text>
<text x="711.5" y="130.35" font-size="5.7" font-weight="bold"><tspan textLength="1.69" lengthAdjust="spacingAndGlyphs">J</tspan> <tspan dx=".3" textLength="6.08" lengthAdjust="spacingAndGlyphs">16</tspan></text>
<text x="747.12" y="130.35" font-size="5.7" font-weight="bold" textLength="14.38" lengthAdjust="spacingAndGlyphs">C/MR</text>
<text x="31" y="139.35" font-size="6.15" font-weight="bold" text-anchor="start" textLength="28.43" lengthAdjust="spacingAndGlyphs">National 3</text>
<text x="126.6" y="139.5" font-size="6.15" textLength="6.71" lengthAdjust="spacingAndGlyphs">14</text>
<text x="161.65" y="139.35" font-size="5.7" font-weight="bold"><tspan textLength="1.69" lengthAdjust="spacingAndGlyphs">J</tspan> <tspan dx=".3" textLength="6.08" lengthAdjust="spacingAndGlyphs">01</tspan></text>
<text x="197.5" y="139.35" font-size="5.7" font-weight="bold"><tspan textLength="1.69" lengthAdjust="spacingAndGlyphs">J</tspan> <tspan dx=".3" textLength="6.08" lengthAdjust="spacingAndGlyphs">02</tspan></text>
<text x="215" y="139.35" font-size="5.7" font-weight="bold"><tspan textLength="1.69" lengthAdjust="spacingAndGlyphs">J</tspan> <tspan dx=".3" textLength="6.08" lengthAdjust="spacingAndGlyphs">03</tspan></text>
<text x="232.5" y="139.35" font-size="5.7" font-weight="bold" textLength="3.17" lengthAdjust="spacingAndGlyphs">C</text>
<text x="268" y="139.35" font-size="5.7" font-weight="bold"><tspan textLength="1.69" lengthAdjust="spacingAndGlyphs">J</tspan> <tspan dx=".3" textLength="6.08" lengthAdjust="spacingAndGlyphs">04</tspan></text>
<text x="285.88" y="139.35" font-size="5.7" font-weight="bold" textLength="14.38" lengthAdjust="spacingAndGlyphs">C/MR</text>
<text x="303.5" y="139.35" font-size="5.7" font-weight="bold"><tspan textLength="1.69" lengthAdjust="spacingAndGlyphs">J</tspan> <tspan dx=".3" textLength="6.08" lengthAdjust="spacingAndGlyphs">05</tspan></text>
<text x="339.5" y="139.35" font-size="5.7" font-weight="bold" textLength="14.38" lengthAdjust="spacingAndGlyphs">C/MR</text>
<text x="357" y="139.35" font-size="5.7" font-weight="bold"><tspan textLength="1.69" lengthAdjust="spacingAndGlyphs">J</tspan> <tspan dx=".3" textLength="6.08" lengthAdjust="spacingAndGlyphs">06</tspan></text>
<text x="392.12" y="139.35" font-size="5.7" font-weight="bold" textLength="14.38" lengthAdjust="spacingAndGlyphs">C/MR</text>
<text x="428" y="139.35" font-size="5.7" font-weight="bold"><tspan textLength="1.69" lengthAdjust="spacingAndGlyphs">J</tspan> <tspan dx=".3" textLength="6.08" lengthAdjust="spacingAndGlyphs">07</tspan></text>
<text x="445.5" y="139.35" font-size="5.7" font-weight="bold" textLength="8.62" lengthAdjust="spacingAndGlyphs">MR</text>
<text x="463.5" y="139.35" font-size="5.7" font-weight="bold" textLength="14.38" lengthAdjust="spacingAndGlyphs">C/MR</text>
<text x="481" y="139.35" font-size="5.7" font-weight="bold"><tspan textLength="1.69" lengthAdjust="spacingAndGlyphs">J</tspan> <tspan dx=".3" textLength="6.08" lengthAdjust="spacingAndGlyphs">08</tspan></text>
<text x="498.5" y="139.35" font-size="5.7" font-weight="bold" textLength="14.38" lengthAdjust="spacingAndGlyphs">C/MR</text>
<text x="534.5" y="139.35" font-size="5.7" font-weight="bold"><tspan textLength="1.69" lengthAdjust="spacingAndGlyphs">J</tspan> <tspan dx=".3" textLength="6.08" lengthAdjust="spacingAndGlyphs">09</tspan></text>
<text x="552" y="139.35" font-size="5.7" font-weight="bold"><tspan textLength="1.69" lengthAdjust="spacingAndGlyphs">J</tspan> <tspan dx=".3" textLength="6.08" lengthAdjust="spacingAndGlyphs">10</tspan></text>
<text x="587.5" y="139.35" font-size="5.7" font-weight="bold" textLength="14.38" lengthAdjust="spacingAndGlyphs">C/MR</text>
<text x="658.5" y="139.35" font-size="5.7" font-weight="bold" textLength="8.62" lengthAdjust="spacingAndGlyphs">MR</text>
<text x="676.5" y="139.35" font-size="5.7" font-weight="bold"><tspan textLength="1.69" lengthAdjust="spacingAndGlyphs">J</tspan> <tspan dx=".3" textLength="6.08" lengthAdjust="spacingAndGlyphs">11</tspan></text>
<text x="711.5" y="139.35" font-size="5.7" font-weight="bold"><tspan textLength="1.69" lengthAdjust="spacingAndGlyphs">J</tspan> <tspan dx=".3" textLength="6.08" lengthAdjust="spacingAndGlyphs">12</tspan></text>
<text x="747.12" y="139.35" font-size="5.7" font-weight="bold" textLength="14.38" lengthAdjust="spacingAndGlyphs">C/MR</text>
<text x="31" y="149.35" font-size="6.15" font-weight="bold" text-anchor="start" textLength="46.27" lengthAdjust="spacingAndGlyphs">Régional 1, 2 &amp; 3</text>
<text x="126.6" y="149.5" font-size="6.15" textLength="6.71" lengthAdjust="spacingAndGlyphs">14</text>
<text x="197.5" y="149.35" font-size="5.7" font-weight="bold"><tspan textLength="1.69" lengthAdjust="spacingAndGlyphs">J</tspan> <tspan dx=".3" textLength="6.08" lengthAdjust="spacingAndGlyphs">01</tspan></text>
<text x="215" y="149.35" font-size="5.7" font-weight="bold"><tspan textLength="1.69" lengthAdjust="spacingAndGlyphs">J</tspan> <tspan dx=".3" textLength="6.08" lengthAdjust="spacingAndGlyphs">02</tspan></text>
<text x="232.5" y="149.35" font-size="5.7" font-weight="bold" textLength="14.38" lengthAdjust="spacingAndGlyphs">C/MR</text>
<text x="268" y="149.35" font-size="5.7" font-weight="bold"><tspan textLength="1.69" lengthAdjust="spacingAndGlyphs">J</tspan> <tspan dx=".3" textLength="6.08" lengthAdjust="spacingAndGlyphs">03</tspan></text>
<text x="285.88" y="149.35" font-size="5.7" font-weight="bold" textLength="14.38" lengthAdjust="spacingAndGlyphs">C/MR</text>
<text x="303.5" y="149.35" font-size="5.7" font-weight="bold"><tspan textLength="1.69" lengthAdjust="spacingAndGlyphs">J</tspan> <tspan dx=".3" textLength="6.08" lengthAdjust="spacingAndGlyphs">04</tspan></text>
<text x="339.5" y="149.35" font-size="5.7" font-weight="bold" textLength="14.38" lengthAdjust="spacingAndGlyphs">C/MR</text>
<text x="357" y="149.35" font-size="5.7" font-weight="bold"><tspan textLength="1.69" lengthAdjust="spacingAndGlyphs">J</tspan> <tspan dx=".3" textLength="6.08" lengthAdjust="spacingAndGlyphs">05</tspan></text>
<text x="392.12" y="149.35" font-size="5.7" font-weight="bold"><tspan textLength="1.69" lengthAdjust="spacingAndGlyphs">J</tspan> <tspan dx=".3" textLength="6.08" lengthAdjust="spacingAndGlyphs">06</tspan></text>
<text x="428" y="149.35" font-size="5.7" font-weight="bold"><tspan textLength="1.69" lengthAdjust="spacingAndGlyphs">J</tspan> <tspan dx=".3" textLength="6.08" lengthAdjust="spacingAndGlyphs">07</tspan></text>
<text x="445.5" y="149.35" font-size="5.7" font-weight="bold" textLength="8.62" lengthAdjust="spacingAndGlyphs">MR</text>
<text x="463.5" y="149.35" font-size="5.7" font-weight="bold"><tspan textLength="1.69" lengthAdjust="spacingAndGlyphs">J</tspan> <tspan dx=".3" textLength="6.08" lengthAdjust="spacingAndGlyphs">08</tspan></text>
<text x="481" y="149.35" font-size="5.7" font-weight="bold"><tspan textLength="1.69" lengthAdjust="spacingAndGlyphs">J</tspan> <tspan dx=".3" textLength="6.08" lengthAdjust="spacingAndGlyphs">09</tspan></text>
<text x="498.5" y="149.35" font-size="5.7" font-weight="bold"><tspan textLength="1.69" lengthAdjust="spacingAndGlyphs">J</tspan> <tspan dx=".3" textLength="6.08" lengthAdjust="spacingAndGlyphs">10</tspan></text>
<text x="534.5" y="149.35" font-size="5.7" font-weight="bold"><tspan textLength="1.69" lengthAdjust="spacingAndGlyphs">J</tspan> <tspan dx=".3" textLength="6.08" lengthAdjust="spacingAndGlyphs">11</tspan></text>
<text x="552" y="149.35" font-size="5.7" font-weight="bold"><tspan textLength="1.69" lengthAdjust="spacingAndGlyphs">J</tspan> <tspan dx=".3" textLength="6.08" lengthAdjust="spacingAndGlyphs">12</tspan></text>
<text x="587.5" y="149.35" font-size="5.7" font-weight="bold"><tspan textLength="1.69" lengthAdjust="spacingAndGlyphs">J</tspan> <tspan dx=".3" textLength="6.08" lengthAdjust="spacingAndGlyphs">13</tspan></text>
<text x="658.5" y="149.35" font-size="5.7" font-weight="bold" textLength="8.62" lengthAdjust="spacingAndGlyphs">MR</text>
<text x="676.5" y="149.35" font-size="5.7" font-weight="bold"><tspan textLength="1.69" lengthAdjust="spacingAndGlyphs">J</tspan> <tspan dx=".3" textLength="6.08" lengthAdjust="spacingAndGlyphs">14</tspan></text>
<text x="711.5" y="149.35" font-size="5.7" font-weight="bold"><tspan textLength="1.69" lengthAdjust="spacingAndGlyphs">J</tspan> <tspan dx=".3" textLength="6.08" lengthAdjust="spacingAndGlyphs">15</tspan></text>
<text x="747.12" y="149.35" font-size="5.7" font-weight="bold"><tspan textLength="1.69" lengthAdjust="spacingAndGlyphs">J</tspan> <tspan dx=".3" textLength="6.08" lengthAdjust="spacingAndGlyphs">16</tspan></text>
<text x="31" y="158.35" font-size="6.15" font-weight="bold" text-anchor="start" textLength="28.69" lengthAdjust="spacingAndGlyphs">Régional 3</text>
<text x="126.6" y="158.5" font-size="6.15" textLength="6.71" lengthAdjust="spacingAndGlyphs">12</text>
<text x="197.5" y="158.35" font-size="5.7" font-weight="bold"><tspan textLength="1.69" lengthAdjust="spacingAndGlyphs">J</tspan> <tspan dx=".3" textLength="6.08" lengthAdjust="spacingAndGlyphs">01</tspan></text>
<text x="215" y="158.35" font-size="5.7" font-weight="bold"><tspan textLength="1.69" lengthAdjust="spacingAndGlyphs">J</tspan> <tspan dx=".3" textLength="6.08" lengthAdjust="spacingAndGlyphs">02</tspan></text>
<text x="232.5" y="158.35" font-size="5.7" font-weight="bold" textLength="14.38" lengthAdjust="spacingAndGlyphs">C/MR</text>
<text x="268" y="158.35" font-size="5.7" font-weight="bold"><tspan textLength="1.69" lengthAdjust="spacingAndGlyphs">J</tspan> <tspan dx=".3" textLength="6.08" lengthAdjust="spacingAndGlyphs">03</tspan></text>
<text x="285.88" y="158.35" font-size="5.7" font-weight="bold" textLength="14.38" lengthAdjust="spacingAndGlyphs">C/MR</text>
<text x="303.5" y="158.35" font-size="5.7" font-weight="bold"><tspan textLength="1.69" lengthAdjust="spacingAndGlyphs">J</tspan> <tspan dx=".3" textLength="6.08" lengthAdjust="spacingAndGlyphs">04</tspan></text>
<text x="339.5" y="158.35" font-size="5.7" font-weight="bold" textLength="14.38" lengthAdjust="spacingAndGlyphs">C/MR</text>
<text x="357" y="158.35" font-size="5.7" font-weight="bold"><tspan textLength="1.69" lengthAdjust="spacingAndGlyphs">J</tspan> <tspan dx=".3" textLength="6.08" lengthAdjust="spacingAndGlyphs">05</tspan></text>
<text x="392.12" y="158.35" font-size="5.7" font-weight="bold"><tspan textLength="1.69" lengthAdjust="spacingAndGlyphs">J</tspan> <tspan dx=".3" textLength="6.08" lengthAdjust="spacingAndGlyphs">06</tspan></text>
<text x="428" y="158.35" font-size="5.7" font-weight="bold"><tspan textLength="1.69" lengthAdjust="spacingAndGlyphs">J</tspan> <tspan dx=".3" textLength="6.08" lengthAdjust="spacingAndGlyphs">07</tspan></text>
<text x="445.5" y="158.35" font-size="5.7" font-weight="bold" textLength="8.62" lengthAdjust="spacingAndGlyphs">MR</text>
<text x="463.5" y="158.35" font-size="5.7" font-weight="bold"><tspan textLength="1.69" lengthAdjust="spacingAndGlyphs">J</tspan> <tspan dx=".3" textLength="6.08" lengthAdjust="spacingAndGlyphs">08</tspan></text>
<text x="481" y="158.35" font-size="5.7" font-weight="bold"><tspan textLength="1.69" lengthAdjust="spacingAndGlyphs">J</tspan> <tspan dx=".3" textLength="6.08" lengthAdjust="spacingAndGlyphs">09</tspan></text>
<text x="498.5" y="158.35" font-size="5.7" font-weight="bold"><tspan textLength="1.69" lengthAdjust="spacingAndGlyphs">J</tspan> <tspan dx=".3" textLength="6.08" lengthAdjust="spacingAndGlyphs">10</tspan></text>
<text x="534.5" y="158.35" font-size="5.7" font-weight="bold"><tspan textLength="1.69" lengthAdjust="spacingAndGlyphs">J</tspan> <tspan dx=".3" textLength="6.08" lengthAdjust="spacingAndGlyphs">11</tspan></text>
<text x="552" y="158.35" font-size="5.7" font-weight="bold" textLength="8.62" lengthAdjust="spacingAndGlyphs">MR</text>
<text x="587.5" y="158.35" font-size="5.7" font-weight="bold" textLength="8.62" lengthAdjust="spacingAndGlyphs">MR</text>
<text x="658.5" y="158.35" font-size="5.7" font-weight="bold" textLength="8.62" lengthAdjust="spacingAndGlyphs">MR</text>
<text x="676.5" y="158.35" font-size="5.7" font-weight="bold"><tspan textLength="1.69" lengthAdjust="spacingAndGlyphs">J</tspan> <tspan dx=".3" textLength="6.08" lengthAdjust="spacingAndGlyphs">12</tspan></text>
<text x="711.5" y="158.35" font-size="5.7" font-weight="bold"><tspan textLength="1.69" lengthAdjust="spacingAndGlyphs">J</tspan> <tspan dx=".3" textLength="6.08" lengthAdjust="spacingAndGlyphs">13</tspan></text>
<text x="747.12" y="158.35" font-size="5.7" font-weight="bold"><tspan textLength="1.69" lengthAdjust="spacingAndGlyphs">J</tspan> <tspan dx=".3" textLength="6.08" lengthAdjust="spacingAndGlyphs">14</tspan></text>
<text x="31" y="168.35" font-size="6.15" font-weight="bold" text-anchor="start" textLength="45.69" lengthAdjust="spacingAndGlyphs">Coupe de France</text>
<text x="144" y="168.35" font-size="5.7" font-weight="bold" textLength="6.01" lengthAdjust="spacingAndGlyphs">T1</text>
<text x="161.65" y="168.35" font-size="5.7" font-weight="bold" textLength="6.01" lengthAdjust="spacingAndGlyphs">T2</text>
<text x="232.5" y="168.35" font-size="5.7" font-weight="bold" textLength="7.37" lengthAdjust="spacingAndGlyphs">T 3</text>
<text x="250.5" y="168.35" font-size="5.7" font-weight="bold" textLength="8.62" lengthAdjust="spacingAndGlyphs">MR</text>
<text x="285.88" y="168.35" font-size="5.7" font-weight="bold" textLength="7.37" lengthAdjust="spacingAndGlyphs">T 4</text>
<text x="339.5" y="168.35" font-size="5.7" font-weight="bold" textLength="7.37" lengthAdjust="spacingAndGlyphs">T 5</text>
<text x="392.12" y="168.35" font-size="5.7" font-weight="bold" textLength="7.37" lengthAdjust="spacingAndGlyphs">T 6</text>
<text x="463.5" y="168.35" font-size="5.7" font-weight="bold" textLength="7.37" lengthAdjust="spacingAndGlyphs">T 7</text>
<text x="498.5" y="168.35" font-size="5.7" font-weight="bold" textLength="7.37" lengthAdjust="spacingAndGlyphs">T 8</text>
<text x="587.5" y="168.35" font-size="5.7" font-weight="bold" textLength="11.71" lengthAdjust="spacingAndGlyphs">1/32</text>
<text x="622.75" y="168.35" font-size="5.7" font-weight="bold" textLength="11.71" lengthAdjust="spacingAndGlyphs">1/16</text>
<text x="747.12" y="168.35" font-size="5.7" font-weight="bold" textLength="8.66" lengthAdjust="spacingAndGlyphs">1/8</text>
<text x="31" y="178.35" font-size="6.15" font-weight="bold" text-anchor="start" textLength="58.38" lengthAdjust="spacingAndGlyphs">Coupe de Normandie</text>
<text x="232.5" y="178.35" font-size="5.7" font-weight="bold" textLength="7.37" lengthAdjust="spacingAndGlyphs">T 1</text>
<text x="285.88" y="178.35" font-size="5.7" font-weight="bold" textLength="7.37" lengthAdjust="spacingAndGlyphs">T 2</text>
<text x="339.5" y="178.35" font-size="5.7" font-weight="bold" textLength="8.62" lengthAdjust="spacingAndGlyphs">MR</text>
<text x="445.5" y="178.35" font-size="5.7" font-weight="bold" textLength="7.37" lengthAdjust="spacingAndGlyphs">T 3</text>
<text x="31" y="188.35" font-size="6.15" font-weight="bold" text-anchor="start" textLength="54.5" lengthAdjust="spacingAndGlyphs">Coupe des Réserves</text>
<text x="232.5" y="188.35" font-size="5.7" font-weight="bold"><tspan textLength="1.69" lengthAdjust="spacingAndGlyphs">J</tspan> <tspan dx=".3" textLength="6.08" lengthAdjust="spacingAndGlyphs">01</tspan></text>
<text x="285.88" y="188.35" font-size="5.7" font-weight="bold"><tspan textLength="1.69" lengthAdjust="spacingAndGlyphs">J</tspan> <tspan dx=".3" textLength="6.08" lengthAdjust="spacingAndGlyphs">02</tspan></text>
<text x="339.5" y="188.35" font-size="5.7" font-weight="bold"><tspan textLength="1.69" lengthAdjust="spacingAndGlyphs">J</tspan> <tspan dx=".3" textLength="6.08" lengthAdjust="spacingAndGlyphs">03</tspan></text>
<text x="445.5" y="188.35" font-size="5.7" font-weight="bold" textLength="11.71" lengthAdjust="spacingAndGlyphs">1/16</text>
<text x="31" y="206.95" font-size="6.15" font-weight="bold" text-anchor="start" textLength="36.11" lengthAdjust="spacingAndGlyphs">National U19</text>
<text x="126.6" y="207.1" font-size="6.15" textLength="6.71" lengthAdjust="spacingAndGlyphs">14</text>
<text x="144" y="206.95" font-size="5.7" font-weight="bold"><tspan textLength="1.69" lengthAdjust="spacingAndGlyphs">J</tspan> <tspan dx=".3" textLength="6.08" lengthAdjust="spacingAndGlyphs">01</tspan></text>
<text x="161.65" y="206.95" font-size="5.7" font-weight="bold"><tspan textLength="1.69" lengthAdjust="spacingAndGlyphs">J</tspan> <tspan dx=".3" textLength="6.08" lengthAdjust="spacingAndGlyphs">02</tspan></text>
<text x="197.5" y="206.95" font-size="5.7" font-weight="bold"><tspan textLength="1.69" lengthAdjust="spacingAndGlyphs">J</tspan> <tspan dx=".3" textLength="6.08" lengthAdjust="spacingAndGlyphs">03</tspan></text>
<text x="215" y="206.95" font-size="5.7" font-weight="bold"><tspan textLength="1.69" lengthAdjust="spacingAndGlyphs">J</tspan> <tspan dx=".3" textLength="6.08" lengthAdjust="spacingAndGlyphs">04</tspan></text>
<text x="232.5" y="206.95" font-size="5.7" font-weight="bold"><tspan textLength="1.69" lengthAdjust="spacingAndGlyphs">J</tspan> <tspan dx=".3" textLength="6.08" lengthAdjust="spacingAndGlyphs">05</tspan></text>
<text x="268" y="206.95" font-size="5.7" font-weight="bold"><tspan textLength="1.69" lengthAdjust="spacingAndGlyphs">J</tspan> <tspan dx=".3" textLength="6.08" lengthAdjust="spacingAndGlyphs">06</tspan></text>
<text x="285.88" y="206.95" font-size="5.7" font-weight="bold"><tspan textLength="1.69" lengthAdjust="spacingAndGlyphs">J</tspan> <tspan dx=".3" textLength="6.08" lengthAdjust="spacingAndGlyphs">07</tspan></text>
<text x="303.5" y="206.95" font-size="5.7" font-weight="bold"><tspan textLength="1.69" lengthAdjust="spacingAndGlyphs">J</tspan> <tspan dx=".3" textLength="6.08" lengthAdjust="spacingAndGlyphs">08</tspan></text>
<text x="339.5" y="206.95" font-size="5.7" font-weight="bold"><tspan textLength="1.69" lengthAdjust="spacingAndGlyphs">J</tspan> <tspan dx=".3" textLength="6.08" lengthAdjust="spacingAndGlyphs">09</tspan></text>
<text x="357" y="206.95" font-size="5.7" font-weight="bold"><tspan textLength="1.69" lengthAdjust="spacingAndGlyphs">J</tspan> <tspan dx=".3" textLength="6.08" lengthAdjust="spacingAndGlyphs">10</tspan></text>
<text x="392.12" y="206.95" font-size="5.7" font-weight="bold" textLength="8.62" lengthAdjust="spacingAndGlyphs">MR</text>
<text x="428" y="206.95" font-size="5.7" font-weight="bold" textLength="8.62" lengthAdjust="spacingAndGlyphs">MR</text>
<text x="463.5" y="206.95" font-size="5.7" font-weight="bold"><tspan textLength="1.69" lengthAdjust="spacingAndGlyphs">J</tspan> <tspan dx=".3" textLength="6.08" lengthAdjust="spacingAndGlyphs">11</tspan></text>
<text x="481" y="206.95" font-size="5.7" font-weight="bold"><tspan textLength="1.69" lengthAdjust="spacingAndGlyphs">J</tspan> <tspan dx=".3" textLength="6.08" lengthAdjust="spacingAndGlyphs">12</tspan></text>
<text x="498.5" y="206.95" font-size="5.7" font-weight="bold"><tspan textLength="1.69" lengthAdjust="spacingAndGlyphs">J</tspan> <tspan dx=".3" textLength="6.08" lengthAdjust="spacingAndGlyphs">13</tspan></text>
<text x="534.5" y="206.95" font-size="5.7" font-weight="bold"><tspan textLength="1.69" lengthAdjust="spacingAndGlyphs">J</tspan> <tspan dx=".3" textLength="6.08" lengthAdjust="spacingAndGlyphs">14</tspan></text>
<text x="552" y="206.95" font-size="5.7" font-weight="bold" textLength="3.17" lengthAdjust="spacingAndGlyphs">C</text>
<text x="587.5" y="206.95" font-size="5.7" font-weight="bold" textLength="8.62" lengthAdjust="spacingAndGlyphs">MR</text>
<text x="658.5" y="206.95" font-size="5.7" font-weight="bold" textLength="14.38" lengthAdjust="spacingAndGlyphs">C/MR</text>
<text x="676.5" y="206.95" font-size="5.7" font-weight="bold"><tspan textLength="1.69" lengthAdjust="spacingAndGlyphs">J</tspan> <tspan dx=".3" textLength="6.08" lengthAdjust="spacingAndGlyphs">15</tspan></text>
<text x="711.5" y="206.95" font-size="5.7" font-weight="bold"><tspan textLength="1.69" lengthAdjust="spacingAndGlyphs">J</tspan> <tspan dx=".3" textLength="6.08" lengthAdjust="spacingAndGlyphs">16</tspan></text>
<text x="747.12" y="206.95" font-size="5.7" font-weight="bold" textLength="14.38" lengthAdjust="spacingAndGlyphs">C/MR</text>
<text x="31" y="216.35" font-size="6.15" font-weight="bold" text-anchor="start" textLength="52.24" lengthAdjust="spacingAndGlyphs">U18 Régional 1 &amp; 2</text>
<text x="126.6" y="216.5" font-size="6.15" textLength="6.71" lengthAdjust="spacingAndGlyphs">14</text>
<text x="197.5" y="216.35" font-size="5.7" font-weight="bold"><tspan textLength="1.69" lengthAdjust="spacingAndGlyphs">J</tspan> <tspan dx=".3" textLength="6.08" lengthAdjust="spacingAndGlyphs">01</tspan></text>
<text x="215" y="216.35" font-size="5.7" font-weight="bold"><tspan textLength="1.69" lengthAdjust="spacingAndGlyphs">J</tspan> <tspan dx=".3" textLength="6.08" lengthAdjust="spacingAndGlyphs">02</tspan></text>
<text x="232.5" y="216.35" font-size="5.7" font-weight="bold" textLength="8.62" lengthAdjust="spacingAndGlyphs">MR</text>
<text x="268" y="216.35" font-size="5.7" font-weight="bold"><tspan textLength="1.69" lengthAdjust="spacingAndGlyphs">J</tspan> <tspan dx=".3" textLength="6.08" lengthAdjust="spacingAndGlyphs">03</tspan></text>
<text x="285.88" y="216.35" font-size="5.7" font-weight="bold" textLength="14.38" lengthAdjust="spacingAndGlyphs">C/MR</text>
<text x="303.5" y="216.35" font-size="5.7" font-weight="bold"><tspan textLength="1.69" lengthAdjust="spacingAndGlyphs">J</tspan> <tspan dx=".3" textLength="6.08" lengthAdjust="spacingAndGlyphs">04</tspan></text>
<text x="339.5" y="216.35" font-size="5.7" font-weight="bold" textLength="14.38" lengthAdjust="spacingAndGlyphs">C/MR</text>
<text x="357" y="216.35" font-size="5.7" font-weight="bold"><tspan textLength="1.69" lengthAdjust="spacingAndGlyphs">J</tspan> <tspan dx=".3" textLength="6.08" lengthAdjust="spacingAndGlyphs">05</tspan></text>
<text x="392.12" y="216.35" font-size="5.7" font-weight="bold"><tspan textLength="1.69" lengthAdjust="spacingAndGlyphs">J</tspan> <tspan dx=".3" textLength="6.08" lengthAdjust="spacingAndGlyphs">06</tspan></text>
<text x="428" y="216.35" font-size="5.7" font-weight="bold"><tspan textLength="1.69" lengthAdjust="spacingAndGlyphs">J</tspan> <tspan dx=".3" textLength="6.08" lengthAdjust="spacingAndGlyphs">07</tspan></text>
<text x="463.5" y="216.35" font-size="5.7" font-weight="bold"><tspan textLength="1.69" lengthAdjust="spacingAndGlyphs">J</tspan> <tspan dx=".3" textLength="6.08" lengthAdjust="spacingAndGlyphs">08</tspan></text>
<text x="481" y="216.35" font-size="5.7" font-weight="bold"><tspan textLength="1.69" lengthAdjust="spacingAndGlyphs">J</tspan> <tspan dx=".3" textLength="6.08" lengthAdjust="spacingAndGlyphs">09</tspan></text>
<text x="498.5" y="216.35" font-size="5.7" font-weight="bold"><tspan textLength="1.69" lengthAdjust="spacingAndGlyphs">J</tspan> <tspan dx=".3" textLength="6.08" lengthAdjust="spacingAndGlyphs">10</tspan></text>
<text x="534.5" y="216.35" font-size="5.7" font-weight="bold"><tspan textLength="1.69" lengthAdjust="spacingAndGlyphs">J</tspan> <tspan dx=".3" textLength="6.08" lengthAdjust="spacingAndGlyphs">11</tspan></text>
<text x="552" y="216.35" font-size="5.7" font-weight="bold"><tspan textLength="1.69" lengthAdjust="spacingAndGlyphs">J</tspan> <tspan dx=".3" textLength="6.08" lengthAdjust="spacingAndGlyphs">12</tspan></text>
<text x="587.5" y="216.35" font-size="5.7" font-weight="bold"><tspan textLength="1.69" lengthAdjust="spacingAndGlyphs">J</tspan> <tspan dx=".3" textLength="6.08" lengthAdjust="spacingAndGlyphs">13</tspan></text>
<text x="658.5" y="216.35" font-size="5.7" font-weight="bold" textLength="8.62" lengthAdjust="spacingAndGlyphs">MR</text>
<text x="676.5" y="216.35" font-size="5.7" font-weight="bold"><tspan textLength="1.69" lengthAdjust="spacingAndGlyphs">J</tspan> <tspan dx=".3" textLength="6.08" lengthAdjust="spacingAndGlyphs">14</tspan></text>
<text x="711.5" y="216.35" font-size="5.7" font-weight="bold"><tspan textLength="1.69" lengthAdjust="spacingAndGlyphs">J</tspan> <tspan dx=".3" textLength="6.08" lengthAdjust="spacingAndGlyphs">15</tspan></text>
<text x="747.12" y="216.35" font-size="5.7" font-weight="bold"><tspan textLength="1.69" lengthAdjust="spacingAndGlyphs">J</tspan> <tspan dx=".3" textLength="6.08" lengthAdjust="spacingAndGlyphs">16</tspan></text>
<text x="31" y="226.35" font-size="6.15" font-weight="bold" text-anchor="start" textLength="41.22" lengthAdjust="spacingAndGlyphs">U18 Régional 3</text>
<text x="126.6" y="226.5" font-size="6.15" textLength="6.71" lengthAdjust="spacingAndGlyphs">12</text>
<text x="197.5" y="226.35" font-size="5.7" font-weight="bold"><tspan textLength="1.69" lengthAdjust="spacingAndGlyphs">J</tspan> <tspan dx=".3" textLength="6.08" lengthAdjust="spacingAndGlyphs">01</tspan></text>
<text x="215" y="226.35" font-size="5.7" font-weight="bold"><tspan textLength="1.69" lengthAdjust="spacingAndGlyphs">J</tspan> <tspan dx=".3" textLength="6.08" lengthAdjust="spacingAndGlyphs">02</tspan></text>
<text x="232.5" y="226.35" font-size="5.7" font-weight="bold" textLength="3.17" lengthAdjust="spacingAndGlyphs">C</text>
<text x="268" y="226.35" font-size="5.7" font-weight="bold"><tspan textLength="1.69" lengthAdjust="spacingAndGlyphs">J</tspan> <tspan dx=".3" textLength="6.08" lengthAdjust="spacingAndGlyphs">03</tspan></text>
<text x="285.88" y="226.35" font-size="5.7" font-weight="bold" textLength="14.38" lengthAdjust="spacingAndGlyphs">C/MR</text>
<text x="303.5" y="226.35" font-size="5.7" font-weight="bold"><tspan textLength="1.69" lengthAdjust="spacingAndGlyphs">J</tspan> <tspan dx=".3" textLength="6.08" lengthAdjust="spacingAndGlyphs">04</tspan></text>
<text x="339.5" y="226.35" font-size="5.7" font-weight="bold" textLength="14.38" lengthAdjust="spacingAndGlyphs">C/MR</text>
<text x="357" y="226.35" font-size="5.7" font-weight="bold"><tspan textLength="1.69" lengthAdjust="spacingAndGlyphs">J</tspan> <tspan dx=".3" textLength="6.08" lengthAdjust="spacingAndGlyphs">05</tspan></text>
<text x="392.12" y="226.35" font-size="5.7" font-weight="bold"><tspan textLength="1.69" lengthAdjust="spacingAndGlyphs">J</tspan> <tspan dx=".3" textLength="6.08" lengthAdjust="spacingAndGlyphs">06</tspan></text>
<text x="428" y="226.35" font-size="5.7" font-weight="bold"><tspan textLength="1.69" lengthAdjust="spacingAndGlyphs">J</tspan> <tspan dx=".3" textLength="6.08" lengthAdjust="spacingAndGlyphs">07</tspan></text>
<text x="463.5" y="226.35" font-size="5.7" font-weight="bold"><tspan textLength="1.69" lengthAdjust="spacingAndGlyphs">J</tspan> <tspan dx=".3" textLength="6.08" lengthAdjust="spacingAndGlyphs">08</tspan></text>
<text x="481" y="226.35" font-size="5.7" font-weight="bold"><tspan textLength="1.69" lengthAdjust="spacingAndGlyphs">J</tspan> <tspan dx=".3" textLength="6.08" lengthAdjust="spacingAndGlyphs">09</tspan></text>
<text x="498.5" y="226.35" font-size="5.7" font-weight="bold"><tspan textLength="1.69" lengthAdjust="spacingAndGlyphs">J</tspan> <tspan dx=".3" textLength="6.08" lengthAdjust="spacingAndGlyphs">10</tspan></text>
<text x="534.5" y="226.35" font-size="5.7" font-weight="bold"><tspan textLength="1.69" lengthAdjust="spacingAndGlyphs">J</tspan> <tspan dx=".3" textLength="6.08" lengthAdjust="spacingAndGlyphs">11</tspan></text>
<text x="552" y="226.35" font-size="5.7" font-weight="bold" textLength="8.62" lengthAdjust="spacingAndGlyphs">MR</text>
<text x="587.5" y="226.35" font-size="5.7" font-weight="bold" textLength="8.62" lengthAdjust="spacingAndGlyphs">MR</text>
<text x="658.5" y="226.35" font-size="5.7" font-weight="bold" textLength="8.62" lengthAdjust="spacingAndGlyphs">MR</text>
<text x="676.5" y="226.35" font-size="5.7" font-weight="bold"><tspan textLength="1.69" lengthAdjust="spacingAndGlyphs">J</tspan> <tspan dx=".3" textLength="6.08" lengthAdjust="spacingAndGlyphs">12</tspan></text>
<text x="711.5" y="226.35" font-size="5.7" font-weight="bold"><tspan textLength="1.69" lengthAdjust="spacingAndGlyphs">J</tspan> <tspan dx=".3" textLength="6.08" lengthAdjust="spacingAndGlyphs">13</tspan></text>
<text x="747.12" y="226.35" font-size="5.7" font-weight="bold"><tspan textLength="1.69" lengthAdjust="spacingAndGlyphs">J</tspan> <tspan dx=".3" textLength="6.08" lengthAdjust="spacingAndGlyphs">14</tspan></text>
<text x="31" y="236.35" font-size="6.15" font-weight="bold" text-anchor="start" textLength="41.22" lengthAdjust="spacingAndGlyphs">U18 Régional 3</text>
<text x="126.6" y="236.5" font-size="6.15" textLength="6.71" lengthAdjust="spacingAndGlyphs">10</text>
<text x="215" y="236.35" font-size="5.7" font-weight="bold"><tspan textLength="1.69" lengthAdjust="spacingAndGlyphs">J</tspan> <tspan dx=".3" textLength="6.08" lengthAdjust="spacingAndGlyphs">02</tspan></text>
<text x="232.5" y="236.35" font-size="5.7" font-weight="bold" textLength="3.17" lengthAdjust="spacingAndGlyphs">C</text>
<text x="268" y="236.35" font-size="5.7" font-weight="bold"><tspan textLength="1.69" lengthAdjust="spacingAndGlyphs">J</tspan> <tspan dx=".3" textLength="6.08" lengthAdjust="spacingAndGlyphs">03</tspan></text>
<text x="285.88" y="236.35" font-size="5.7" font-weight="bold" textLength="14.38" lengthAdjust="spacingAndGlyphs">C/MR</text>
<text x="303.5" y="236.35" font-size="5.7" font-weight="bold"><tspan textLength="1.69" lengthAdjust="spacingAndGlyphs">J</tspan> <tspan dx=".3" textLength="6.08" lengthAdjust="spacingAndGlyphs">04</tspan></text>
<text x="339.5" y="236.35" font-size="5.7" font-weight="bold" textLength="14.38" lengthAdjust="spacingAndGlyphs">C/MR</text>
<text x="357" y="236.35" font-size="5.7" font-weight="bold"><tspan textLength="1.69" lengthAdjust="spacingAndGlyphs">J</tspan> <tspan dx=".3" textLength="6.08" lengthAdjust="spacingAndGlyphs">05</tspan></text>
<text x="392.12" y="236.35" font-size="5.7" font-weight="bold"><tspan textLength="1.69" lengthAdjust="spacingAndGlyphs">J</tspan> <tspan dx=".3" textLength="6.08" lengthAdjust="spacingAndGlyphs">06</tspan></text>
<text x="428" y="236.35" font-size="5.7" font-weight="bold"><tspan textLength="1.69" lengthAdjust="spacingAndGlyphs">J</tspan> <tspan dx=".3" textLength="6.08" lengthAdjust="spacingAndGlyphs">07</tspan></text>
<text x="463.5" y="236.35" font-size="5.7" font-weight="bold"><tspan textLength="1.69" lengthAdjust="spacingAndGlyphs">J</tspan> <tspan dx=".3" textLength="6.08" lengthAdjust="spacingAndGlyphs">08</tspan></text>
<text x="481" y="236.35" font-size="5.7" font-weight="bold"><tspan textLength="1.69" lengthAdjust="spacingAndGlyphs">J</tspan> <tspan dx=".3" textLength="6.08" lengthAdjust="spacingAndGlyphs">09</tspan></text>
<text x="498.5" y="236.35" font-size="5.7" font-weight="bold"><tspan textLength="1.69" lengthAdjust="spacingAndGlyphs">J</tspan> <tspan dx=".3" textLength="6.08" lengthAdjust="spacingAndGlyphs">01</tspan></text>
<text x="534.5" y="236.35" font-size="5.7" font-weight="bold" textLength="8.62" lengthAdjust="spacingAndGlyphs">MR</text>
<text x="552" y="236.35" font-size="5.7" font-weight="bold" textLength="8.62" lengthAdjust="spacingAndGlyphs">MR</text>
<text x="587.5" y="236.35" font-size="5.7" font-weight="bold" textLength="8.62" lengthAdjust="spacingAndGlyphs">MR</text>
<text x="658.5" y="236.35" font-size="5.7" font-weight="bold" textLength="8.62" lengthAdjust="spacingAndGlyphs">MR</text>
<text x="676.5" y="236.35" font-size="5.7" font-weight="bold"><tspan textLength="1.69" lengthAdjust="spacingAndGlyphs">J</tspan> <tspan dx=".3" textLength="6.08" lengthAdjust="spacingAndGlyphs">10</tspan></text>
<text x="711.5" y="236.35" font-size="5.7" font-weight="bold"><tspan textLength="1.69" lengthAdjust="spacingAndGlyphs">J</tspan> <tspan dx=".3" textLength="6.08" lengthAdjust="spacingAndGlyphs">11</tspan></text>
<text x="747.12" y="236.35" font-size="5.7" font-weight="bold"><tspan textLength="1.69" lengthAdjust="spacingAndGlyphs">J</tspan> <tspan dx=".3" textLength="6.08" lengthAdjust="spacingAndGlyphs">12</tspan></text>
<text x="31" y="245.35" font-size="6.15" font-weight="bold" text-anchor="start" textLength="66.99" lengthAdjust="spacingAndGlyphs">Coupe Gambardella U18</text>
<text x="232.5" y="245.35" font-size="5.7" font-weight="bold" textLength="7.37" lengthAdjust="spacingAndGlyphs">T 1</text>
<text x="285.88" y="245.35" font-size="5.7" font-weight="bold" textLength="7.37" lengthAdjust="spacingAndGlyphs">T 2</text>
<text x="339.5" y="245.35" font-size="5.7" font-weight="bold" textLength="7.37" lengthAdjust="spacingAndGlyphs">T 3</text>
<text x="445.5" y="245.35" font-size="5.7" font-weight="bold" textLength="7.37" lengthAdjust="spacingAndGlyphs">T 4</text>
<text x="481" y="245.35" font-size="5.7" font-weight="bold" textLength="13.04" lengthAdjust="spacingAndGlyphs">FIN R</text>
<text x="552" y="245.35" font-size="5.7" font-weight="bold" textLength="7.37" lengthAdjust="spacingAndGlyphs">T 5</text>
<text x="658.5" y="245.35" font-size="5.7" font-weight="bold" textLength="11.71" lengthAdjust="spacingAndGlyphs">1/32</text>
<text x="747.12" y="245.35" font-size="5.7" font-weight="bold" textLength="11.71" lengthAdjust="spacingAndGlyphs">1/16</text>
<text x="31" y="255.35" font-size="6.15" font-weight="bold" text-anchor="start" textLength="70.91" lengthAdjust="spacingAndGlyphs">Coupe de Normandie U18</text>
<text x="339.5" y="255.35" font-size="5.7" font-weight="bold" textLength="7.37" lengthAdjust="spacingAndGlyphs">T 1</text>
<text x="445.5" y="255.35" font-size="5.7" font-weight="bold" textLength="7.37" lengthAdjust="spacingAndGlyphs">T 2</text>
<text x="31" y="265.35" font-size="6.15" font-weight="bold" text-anchor="start" textLength="36.11" lengthAdjust="spacingAndGlyphs">National U17</text>
<text x="126.6" y="265.5" font-size="6.15" textLength="6.71" lengthAdjust="spacingAndGlyphs">14</text>
<text x="161.65" y="265.35" font-size="5.7" font-weight="bold"><tspan textLength="1.69" lengthAdjust="spacingAndGlyphs">J</tspan> <tspan dx=".3" textLength="6.08" lengthAdjust="spacingAndGlyphs">01</tspan></text>
<text x="197.5" y="265.35" font-size="5.7" font-weight="bold"><tspan textLength="1.69" lengthAdjust="spacingAndGlyphs">J</tspan> <tspan dx=".3" textLength="6.08" lengthAdjust="spacingAndGlyphs">02</tspan></text>
<text x="215" y="265.35" font-size="5.7" font-weight="bold"><tspan textLength="1.69" lengthAdjust="spacingAndGlyphs">J</tspan> <tspan dx=".3" textLength="6.08" lengthAdjust="spacingAndGlyphs">03</tspan></text>
<text x="232.5" y="265.35" font-size="5.7" font-weight="bold"><tspan textLength="1.69" lengthAdjust="spacingAndGlyphs">J</tspan> <tspan dx=".3" textLength="6.08" lengthAdjust="spacingAndGlyphs">04</tspan></text>
<text x="268" y="265.35" font-size="5.7" font-weight="bold"><tspan textLength="1.69" lengthAdjust="spacingAndGlyphs">J</tspan> <tspan dx=".3" textLength="6.08" lengthAdjust="spacingAndGlyphs">05</tspan></text>
<text x="285.88" y="265.35" font-size="5.7" font-weight="bold"><tspan textLength="1.69" lengthAdjust="spacingAndGlyphs">J</tspan> <tspan dx=".3" textLength="6.08" lengthAdjust="spacingAndGlyphs">06</tspan></text>
<text x="303.5" y="265.35" font-size="5.7" font-weight="bold"><tspan textLength="1.69" lengthAdjust="spacingAndGlyphs">J</tspan> <tspan dx=".3" textLength="6.08" lengthAdjust="spacingAndGlyphs">07</tspan></text>
<text x="339.5" y="265.35" font-size="5.7" font-weight="bold"><tspan textLength="1.69" lengthAdjust="spacingAndGlyphs">J</tspan> <tspan dx=".3" textLength="6.08" lengthAdjust="spacingAndGlyphs">08</tspan></text>
<text x="357" y="265.35" font-size="5.7" font-weight="bold"><tspan textLength="1.69" lengthAdjust="spacingAndGlyphs">J</tspan> <tspan dx=".3" textLength="6.08" lengthAdjust="spacingAndGlyphs">09</tspan></text>
<text x="392.12" y="265.35" font-size="5.7" font-weight="bold" textLength="8.62" lengthAdjust="spacingAndGlyphs">MR</text>
<text x="428" y="265.35" font-size="5.7" font-weight="bold" textLength="8.62" lengthAdjust="spacingAndGlyphs">MR</text>
<text x="463.5" y="265.35" font-size="5.7" font-weight="bold"><tspan textLength="1.69" lengthAdjust="spacingAndGlyphs">J</tspan> <tspan dx=".3" textLength="6.08" lengthAdjust="spacingAndGlyphs">10</tspan></text>
<text x="481" y="265.35" font-size="5.7" font-weight="bold"><tspan textLength="1.69" lengthAdjust="spacingAndGlyphs">J</tspan> <tspan dx=".3" textLength="6.08" lengthAdjust="spacingAndGlyphs">11</tspan></text>
<text x="498.5" y="265.35" font-size="5.7" font-weight="bold"><tspan textLength="1.69" lengthAdjust="spacingAndGlyphs">J</tspan> <tspan dx=".3" textLength="6.08" lengthAdjust="spacingAndGlyphs">12</tspan></text>
<text x="534.5" y="265.35" font-size="5.7" font-weight="bold"><tspan textLength="1.69" lengthAdjust="spacingAndGlyphs">J</tspan> <tspan dx=".3" textLength="6.08" lengthAdjust="spacingAndGlyphs">13</tspan></text>
<text x="552" y="265.35" font-size="5.7" font-weight="bold" textLength="8.62" lengthAdjust="spacingAndGlyphs">MR</text>
<text x="587.5" y="265.35" font-size="5.7" font-weight="bold" textLength="8.62" lengthAdjust="spacingAndGlyphs">MR</text>
<text x="658.5" y="265.35" font-size="5.7" font-weight="bold" textLength="8.62" lengthAdjust="spacingAndGlyphs">MR</text>
<text x="676.5" y="265.35" font-size="5.7" font-weight="bold"><tspan textLength="1.69" lengthAdjust="spacingAndGlyphs">J</tspan> <tspan dx=".3" textLength="6.08" lengthAdjust="spacingAndGlyphs">14</tspan></text>
<text x="711.5" y="265.35" font-size="5.7" font-weight="bold"><tspan textLength="1.69" lengthAdjust="spacingAndGlyphs">J</tspan> <tspan dx=".3" textLength="6.08" lengthAdjust="spacingAndGlyphs">15</tspan></text>
<text x="747.12" y="265.35" font-size="5.7" font-weight="bold" textLength="8.62" lengthAdjust="spacingAndGlyphs">MR</text>
<text x="31" y="274.35" font-size="6.15" font-weight="bold" text-anchor="start" textLength="67.41" lengthAdjust="spacingAndGlyphs">U16 Régional 1 - Phase 1</text>
<text x="126.6" y="274.5" font-size="6.15" textLength="6.71" lengthAdjust="spacingAndGlyphs">12</text>
<text x="232.5" y="274.35" font-size="5.7" font-weight="bold"><tspan textLength="1.69" lengthAdjust="spacingAndGlyphs">J</tspan> <tspan dx=".3" textLength="6.08" lengthAdjust="spacingAndGlyphs">02</tspan></text>
<text x="268" y="274.35" font-size="5.7" font-weight="bold"><tspan textLength="1.69" lengthAdjust="spacingAndGlyphs">J</tspan> <tspan dx=".3" textLength="6.08" lengthAdjust="spacingAndGlyphs">03</tspan></text>
<text x="285.88" y="274.35" font-size="5.7" font-weight="bold" textLength="8.62" lengthAdjust="spacingAndGlyphs">MR</text>
<text x="303.5" y="274.35" font-size="5.7" font-weight="bold"><tspan textLength="1.69" lengthAdjust="spacingAndGlyphs">J</tspan> <tspan dx=".3" textLength="6.08" lengthAdjust="spacingAndGlyphs">04</tspan></text>
<text x="339.5" y="274.35" font-size="5.7" font-weight="bold" textLength="8.62" lengthAdjust="spacingAndGlyphs">MR</text>
<text x="357" y="274.35" font-size="5.7" font-weight="bold"><tspan textLength="1.69" lengthAdjust="spacingAndGlyphs">J</tspan> <tspan dx=".3" textLength="6.08" lengthAdjust="spacingAndGlyphs">05</tspan></text>
<text x="392.12" y="274.35" font-size="5.7" font-weight="bold"><tspan textLength="1.69" lengthAdjust="spacingAndGlyphs">J</tspan> <tspan dx=".3" textLength="6.08" lengthAdjust="spacingAndGlyphs">06</tspan></text>
<text x="428" y="274.35" font-size="5.7" font-weight="bold"><tspan textLength="1.69" lengthAdjust="spacingAndGlyphs">J</tspan> <tspan dx=".3" textLength="6.08" lengthAdjust="spacingAndGlyphs">07</tspan></text>
<text x="445.5" y="274.35" font-size="5.7" font-weight="bold" textLength="8.62" lengthAdjust="spacingAndGlyphs">MR</text>
<text x="463.5" y="274.35" font-size="5.7" font-weight="bold"><tspan textLength="1.69" lengthAdjust="spacingAndGlyphs">J</tspan> <tspan dx=".3" textLength="6.08" lengthAdjust="spacingAndGlyphs">08</tspan></text>
<text x="481" y="274.35" font-size="5.7" font-weight="bold"><tspan textLength="1.69" lengthAdjust="spacingAndGlyphs">J</tspan> <tspan dx=".3" textLength="6.08" lengthAdjust="spacingAndGlyphs">09</tspan></text>
<text x="498.5" y="274.35" font-size="5.7" font-weight="bold"><tspan textLength="1.69" lengthAdjust="spacingAndGlyphs">J</tspan> <tspan dx=".3" textLength="6.08" lengthAdjust="spacingAndGlyphs">10</tspan></text>
<text x="534.5" y="274.35" font-size="5.7" font-weight="bold"><tspan textLength="1.69" lengthAdjust="spacingAndGlyphs">J</tspan> <tspan dx=".3" textLength="6.08" lengthAdjust="spacingAndGlyphs">11</tspan></text>
<text x="552" y="274.35" font-size="5.7" font-weight="bold"><tspan textLength="1.69" lengthAdjust="spacingAndGlyphs">J</tspan> <tspan dx=".3" textLength="6.08" lengthAdjust="spacingAndGlyphs">01</tspan></text>
<text x="587.5" y="274.35" font-size="5.7" font-weight="bold" textLength="8.62" lengthAdjust="spacingAndGlyphs">MR</text>
<text x="31" y="284.35" font-size="6.15" font-weight="bold" text-anchor="start" textLength="67.41" lengthAdjust="spacingAndGlyphs">U16 Régional 1 - Phase 1</text>
<text x="126.6" y="284.5" font-size="6.15" textLength="6.71" lengthAdjust="spacingAndGlyphs">10</text>
<text x="232.5" y="284.35" font-size="5.7" font-weight="bold"><tspan textLength="1.69" lengthAdjust="spacingAndGlyphs">J</tspan> <tspan dx=".3" textLength="6.08" lengthAdjust="spacingAndGlyphs">02</tspan></text>
<text x="268" y="284.35" font-size="5.7" font-weight="bold"><tspan textLength="1.69" lengthAdjust="spacingAndGlyphs">J</tspan> <tspan dx=".3" textLength="6.08" lengthAdjust="spacingAndGlyphs">03</tspan></text>
<text x="285.88" y="284.35" font-size="5.7" font-weight="bold" textLength="8.62" lengthAdjust="spacingAndGlyphs">MR</text>
<text x="303.5" y="284.35" font-size="5.7" font-weight="bold"><tspan textLength="1.69" lengthAdjust="spacingAndGlyphs">J</tspan> <tspan dx=".3" textLength="6.08" lengthAdjust="spacingAndGlyphs">04</tspan></text>
<text x="339.5" y="284.35" font-size="5.7" font-weight="bold" textLength="8.62" lengthAdjust="spacingAndGlyphs">MR</text>
<text x="357" y="284.35" font-size="5.7" font-weight="bold"><tspan textLength="1.69" lengthAdjust="spacingAndGlyphs">J</tspan> <tspan dx=".3" textLength="6.08" lengthAdjust="spacingAndGlyphs">05</tspan></text>
<text x="392.12" y="284.35" font-size="5.7" font-weight="bold"><tspan textLength="1.69" lengthAdjust="spacingAndGlyphs">J</tspan> <tspan dx=".3" textLength="6.08" lengthAdjust="spacingAndGlyphs">06</tspan></text>
<text x="428" y="284.35" font-size="5.7" font-weight="bold"><tspan textLength="1.69" lengthAdjust="spacingAndGlyphs">J</tspan> <tspan dx=".3" textLength="6.08" lengthAdjust="spacingAndGlyphs">07</tspan></text>
<text x="445.5" y="284.35" font-size="5.7" font-weight="bold" textLength="8.62" lengthAdjust="spacingAndGlyphs">MR</text>
<text x="463.5" y="284.35" font-size="5.7" font-weight="bold"><tspan textLength="1.69" lengthAdjust="spacingAndGlyphs">J</tspan> <tspan dx=".3" textLength="6.08" lengthAdjust="spacingAndGlyphs">08</tspan></text>
<text x="481" y="284.35" font-size="5.7" font-weight="bold"><tspan textLength="1.69" lengthAdjust="spacingAndGlyphs">J</tspan> <tspan dx=".3" textLength="6.08" lengthAdjust="spacingAndGlyphs">09</tspan></text>
<text x="498.5" y="284.35" font-size="5.7" font-weight="bold"><tspan textLength="1.69" lengthAdjust="spacingAndGlyphs">J</tspan> <tspan dx=".3" textLength="6.08" lengthAdjust="spacingAndGlyphs">01</tspan></text>
<text x="534.5" y="284.35" font-size="5.7" font-weight="bold" textLength="8.62" lengthAdjust="spacingAndGlyphs">MR</text>
<text x="552" y="284.35" font-size="5.7" font-weight="bold" textLength="8.62" lengthAdjust="spacingAndGlyphs">MR</text>
<text x="587.5" y="284.35" font-size="5.7" font-weight="bold" textLength="8.62" lengthAdjust="spacingAndGlyphs">MR</text>
<text x="31" y="294.35" font-size="6.15" font-weight="bold" text-anchor="start" textLength="67.41" lengthAdjust="spacingAndGlyphs">U16 Régional 1 - Phase 2</text>
<text x="126.6" y="294.5" font-size="6.15" textLength="6.71" lengthAdjust="spacingAndGlyphs">12</text>
<text x="711.5" y="294.35" font-size="5.7" font-weight="bold"><tspan textLength="1.69" lengthAdjust="spacingAndGlyphs">J</tspan> <tspan dx=".3" textLength="6.08" lengthAdjust="spacingAndGlyphs">03</tspan></text>
<text x="747.12" y="294.35" font-size="5.7" font-weight="bold"><tspan textLength="1.69" lengthAdjust="spacingAndGlyphs">J</tspan> <tspan dx=".3" textLength="6.08" lengthAdjust="spacingAndGlyphs">04</tspan></text>
<text x="31" y="303.35" font-size="6.15" font-weight="bold" text-anchor="start" textLength="67.41" lengthAdjust="spacingAndGlyphs">U16 Régional 2 - Phase 2</text>
<text x="126.6" y="303.5" font-size="6.15" textLength="6.71" lengthAdjust="spacingAndGlyphs">10</text>
<text x="711.5" y="303.35" font-size="5.7" font-weight="bold"><tspan textLength="1.69" lengthAdjust="spacingAndGlyphs">J</tspan> <tspan dx=".3" textLength="6.08" lengthAdjust="spacingAndGlyphs">03</tspan></text>
<text x="747.12" y="303.35" font-size="5.7" font-weight="bold"><tspan textLength="1.69" lengthAdjust="spacingAndGlyphs">J</tspan> <tspan dx=".3" textLength="6.08" lengthAdjust="spacingAndGlyphs">04</tspan></text>
<text x="31" y="313.35" font-size="6.15" font-weight="bold" text-anchor="start" textLength="59.04" lengthAdjust="spacingAndGlyphs">U15 Régional Phase 1</text>
<text x="126.6" y="313.5" font-size="6.15" textLength="6.71" lengthAdjust="spacingAndGlyphs">12</text>
<text x="232.5" y="313.35" font-size="5.7" font-weight="bold"><tspan textLength="1.69" lengthAdjust="spacingAndGlyphs">J</tspan> <tspan dx=".3" textLength="6.08" lengthAdjust="spacingAndGlyphs">02</tspan></text>
<text x="268" y="313.35" font-size="5.7" font-weight="bold"><tspan textLength="1.69" lengthAdjust="spacingAndGlyphs">J</tspan> <tspan dx=".3" textLength="6.08" lengthAdjust="spacingAndGlyphs">03</tspan></text>
<text x="285.88" y="313.35" font-size="5.7" font-weight="bold" textLength="14.38" lengthAdjust="spacingAndGlyphs">C/MR</text>
<text x="303.5" y="313.35" font-size="5.7" font-weight="bold"><tspan textLength="1.69" lengthAdjust="spacingAndGlyphs">J</tspan> <tspan dx=".3" textLength="6.08" lengthAdjust="spacingAndGlyphs">04</tspan></text>
<text x="339.5" y="313.35" font-size="5.7" font-weight="bold" textLength="14.38" lengthAdjust="spacingAndGlyphs">C/MR</text>
<text x="357" y="313.35" font-size="5.7" font-weight="bold"><tspan textLength="1.69" lengthAdjust="spacingAndGlyphs">J</tspan> <tspan dx=".3" textLength="6.08" lengthAdjust="spacingAndGlyphs">05</tspan></text>
<text x="392.12" y="313.35" font-size="5.7" font-weight="bold"><tspan textLength="1.69" lengthAdjust="spacingAndGlyphs">J</tspan> <tspan dx=".3" textLength="6.08" lengthAdjust="spacingAndGlyphs">06</tspan></text>
<text x="428" y="313.35" font-size="5.7" font-weight="bold"><tspan textLength="1.69" lengthAdjust="spacingAndGlyphs">J</tspan> <tspan dx=".3" textLength="6.08" lengthAdjust="spacingAndGlyphs">07</tspan></text>
<text x="445.5" y="313.35" font-size="5.7" font-weight="bold" textLength="8.62" lengthAdjust="spacingAndGlyphs">MR</text>
<text x="463.5" y="313.35" font-size="5.7" font-weight="bold"><tspan textLength="1.69" lengthAdjust="spacingAndGlyphs">J</tspan> <tspan dx=".3" textLength="6.08" lengthAdjust="spacingAndGlyphs">08</tspan></text>
<text x="481" y="313.35" font-size="5.7" font-weight="bold"><tspan textLength="1.69" lengthAdjust="spacingAndGlyphs">J</tspan> <tspan dx=".3" textLength="6.08" lengthAdjust="spacingAndGlyphs">09</tspan></text>
<text x="498.5" y="313.35" font-size="5.7" font-weight="bold"><tspan textLength="1.69" lengthAdjust="spacingAndGlyphs">J</tspan> <tspan dx=".3" textLength="6.08" lengthAdjust="spacingAndGlyphs">10</tspan></text>
<text x="534.5" y="313.35" font-size="5.7" font-weight="bold"><tspan textLength="1.69" lengthAdjust="spacingAndGlyphs">J</tspan> <tspan dx=".3" textLength="6.08" lengthAdjust="spacingAndGlyphs">11</tspan></text>
<text x="552" y="313.35" font-size="5.7" font-weight="bold"><tspan textLength="1.69" lengthAdjust="spacingAndGlyphs">J</tspan> <tspan dx=".3" textLength="6.08" lengthAdjust="spacingAndGlyphs">01</tspan></text>
<text x="587.5" y="313.35" font-size="5.7" font-weight="bold" textLength="8.62" lengthAdjust="spacingAndGlyphs">MR</text>
<text x="31" y="322.35" font-size="6.15" font-weight="bold" text-anchor="start" textLength="59.04" lengthAdjust="spacingAndGlyphs">U15 Régional Phase 1</text>
<text x="126.6" y="322.5" font-size="6.15" textLength="6.71" lengthAdjust="spacingAndGlyphs">10</text>
<text x="232.5" y="322.35" font-size="5.7" font-weight="bold"><tspan textLength="1.69" lengthAdjust="spacingAndGlyphs">J</tspan> <tspan dx=".3" textLength="6.08" lengthAdjust="spacingAndGlyphs">02</tspan></text>
<text x="268" y="322.35" font-size="5.7" font-weight="bold"><tspan textLength="1.69" lengthAdjust="spacingAndGlyphs">J</tspan> <tspan dx=".3" textLength="6.08" lengthAdjust="spacingAndGlyphs">03</tspan></text>
<text x="285.88" y="322.35" font-size="5.7" font-weight="bold" textLength="14.38" lengthAdjust="spacingAndGlyphs">C/MR</text>
<text x="303.5" y="322.35" font-size="5.7" font-weight="bold"><tspan textLength="1.69" lengthAdjust="spacingAndGlyphs">J</tspan> <tspan dx=".3" textLength="6.08" lengthAdjust="spacingAndGlyphs">04</tspan></text>
<text x="339.5" y="322.35" font-size="5.7" font-weight="bold" textLength="14.38" lengthAdjust="spacingAndGlyphs">C/MR</text>
<text x="357" y="322.35" font-size="5.7" font-weight="bold"><tspan textLength="1.69" lengthAdjust="spacingAndGlyphs">J</tspan> <tspan dx=".3" textLength="6.08" lengthAdjust="spacingAndGlyphs">05</tspan></text>
<text x="392.12" y="322.35" font-size="5.7" font-weight="bold"><tspan textLength="1.69" lengthAdjust="spacingAndGlyphs">J</tspan> <tspan dx=".3" textLength="6.08" lengthAdjust="spacingAndGlyphs">06</tspan></text>
<text x="428" y="322.35" font-size="5.7" font-weight="bold"><tspan textLength="1.69" lengthAdjust="spacingAndGlyphs">J</tspan> <tspan dx=".3" textLength="6.08" lengthAdjust="spacingAndGlyphs">07</tspan></text>
<text x="445.5" y="322.35" font-size="5.7" font-weight="bold" textLength="8.62" lengthAdjust="spacingAndGlyphs">MR</text>
<text x="463.5" y="322.35" font-size="5.7" font-weight="bold"><tspan textLength="1.69" lengthAdjust="spacingAndGlyphs">J</tspan> <tspan dx=".3" textLength="6.08" lengthAdjust="spacingAndGlyphs">08</tspan></text>
<text x="481" y="322.35" font-size="5.7" font-weight="bold"><tspan textLength="1.69" lengthAdjust="spacingAndGlyphs">J</tspan> <tspan dx=".3" textLength="6.08" lengthAdjust="spacingAndGlyphs">09</tspan></text>
<text x="498.5" y="322.35" font-size="5.7" font-weight="bold"><tspan textLength="1.69" lengthAdjust="spacingAndGlyphs">J</tspan> <tspan dx=".3" textLength="6.08" lengthAdjust="spacingAndGlyphs">01</tspan></text>
<text x="534.5" y="322.35" font-size="5.7" font-weight="bold" textLength="8.62" lengthAdjust="spacingAndGlyphs">MR</text>
<text x="31" y="332.35" font-size="6.15" font-weight="bold" text-anchor="start" textLength="78.43" lengthAdjust="spacingAndGlyphs">U15 Régional 1 &amp; 2 - Phase 2</text>
<text x="126.6" y="332.5" font-size="6.15" textLength="6.71" lengthAdjust="spacingAndGlyphs">10</text>
<text x="711.5" y="332.35" font-size="5.7" font-weight="bold"><tspan textLength="1.69" lengthAdjust="spacingAndGlyphs">J</tspan> <tspan dx=".3" textLength="6.08" lengthAdjust="spacingAndGlyphs">03</tspan></text>
<text x="747.12" y="332.35" font-size="5.7" font-weight="bold"><tspan textLength="1.69" lengthAdjust="spacingAndGlyphs">J</tspan> <tspan dx=".3" textLength="6.08" lengthAdjust="spacingAndGlyphs">04</tspan></text>
<text x="31" y="341.35" font-size="6.15" font-weight="bold" text-anchor="start" textLength="64.06" lengthAdjust="spacingAndGlyphs">U14 Régional - Phase  1</text>
<text x="126.6" y="341.5" font-size="6.15" textLength="6.71" lengthAdjust="spacingAndGlyphs">10</text>
<text x="232.5" y="341.35" font-size="5.7" font-weight="bold"><tspan textLength="1.69" lengthAdjust="spacingAndGlyphs">J</tspan> <tspan dx=".3" textLength="6.08" lengthAdjust="spacingAndGlyphs">02</tspan></text>
<text x="268" y="341.35" font-size="5.7" font-weight="bold"><tspan textLength="1.69" lengthAdjust="spacingAndGlyphs">J</tspan> <tspan dx=".3" textLength="6.08" lengthAdjust="spacingAndGlyphs">03</tspan></text>
<text x="285.88" y="341.35" font-size="5.7" font-weight="bold" textLength="8.62" lengthAdjust="spacingAndGlyphs">MR</text>
<text x="303.5" y="341.35" font-size="5.7" font-weight="bold"><tspan textLength="1.69" lengthAdjust="spacingAndGlyphs">J</tspan> <tspan dx=".3" textLength="6.08" lengthAdjust="spacingAndGlyphs">04</tspan></text>
<text x="339.5" y="341.35" font-size="5.7" font-weight="bold" textLength="8.62" lengthAdjust="spacingAndGlyphs">MR</text>
<text x="357" y="341.35" font-size="5.7" font-weight="bold"><tspan textLength="1.69" lengthAdjust="spacingAndGlyphs">J</tspan> <tspan dx=".3" textLength="6.08" lengthAdjust="spacingAndGlyphs">05</tspan></text>
<text x="392.12" y="341.35" font-size="5.7" font-weight="bold"><tspan textLength="1.69" lengthAdjust="spacingAndGlyphs">J</tspan> <tspan dx=".3" textLength="6.08" lengthAdjust="spacingAndGlyphs">06</tspan></text>
<text x="428" y="341.35" font-size="5.7" font-weight="bold"><tspan textLength="1.69" lengthAdjust="spacingAndGlyphs">J</tspan> <tspan dx=".3" textLength="6.08" lengthAdjust="spacingAndGlyphs">07</tspan></text>
<text x="445.5" y="341.35" font-size="5.7" font-weight="bold" textLength="8.62" lengthAdjust="spacingAndGlyphs">MR</text>
<text x="463.5" y="341.35" font-size="5.7" font-weight="bold"><tspan textLength="1.69" lengthAdjust="spacingAndGlyphs">J</tspan> <tspan dx=".3" textLength="6.08" lengthAdjust="spacingAndGlyphs">08</tspan></text>
<text x="481" y="341.35" font-size="5.7" font-weight="bold" textLength="8.62" lengthAdjust="spacingAndGlyphs">MR</text>
<text x="498.5" y="341.35" font-size="5.7" font-weight="bold"><tspan textLength="1.69" lengthAdjust="spacingAndGlyphs">J</tspan> <tspan dx=".3" textLength="6.08" lengthAdjust="spacingAndGlyphs">01</tspan></text>
<text x="534.5" y="341.35" font-size="5.7" font-weight="bold"><tspan textLength="1.69" lengthAdjust="spacingAndGlyphs">J</tspan> <tspan dx=".3" textLength="6.08" lengthAdjust="spacingAndGlyphs">09</tspan></text>
<text x="552" y="341.35" font-size="5.7" font-weight="bold" textLength="8.62" lengthAdjust="spacingAndGlyphs">MR</text>
<text x="587.5" y="341.35" font-size="5.7" font-weight="bold" textLength="8.62" lengthAdjust="spacingAndGlyphs">MR</text>
<text x="31" y="351.35" font-size="6.15" font-weight="bold" text-anchor="start" textLength="64.06" lengthAdjust="spacingAndGlyphs">U14 Régional - Phase  2</text>
<text x="126.6" y="351.5" font-size="6.15" textLength="6.71" lengthAdjust="spacingAndGlyphs">08</text>
<text x="711.5" y="351.35" font-size="5.7" font-weight="bold"><tspan textLength="1.69" lengthAdjust="spacingAndGlyphs">J</tspan> <tspan dx=".3" textLength="6.08" lengthAdjust="spacingAndGlyphs">01</tspan></text>
<text x="747.12" y="351.35" font-size="5.7" font-weight="bold"><tspan textLength="1.69" lengthAdjust="spacingAndGlyphs">J</tspan> <tspan dx=".3" textLength="6.08" lengthAdjust="spacingAndGlyphs">02</tspan></text>
<text x="31" y="361.35" font-size="6.15" font-weight="bold" text-anchor="start" textLength="70.91" lengthAdjust="spacingAndGlyphs">Coupe de Normandie U15</text>
<text x="285.88" y="361.35" font-size="5.7" font-weight="bold" textLength="7.37" lengthAdjust="spacingAndGlyphs">T 1</text>
<text x="339.5" y="361.35" font-size="5.7" font-weight="bold" textLength="7.37" lengthAdjust="spacingAndGlyphs">T 2</text>
<text x="552" y="361.35" font-size="5.7" font-weight="bold" textLength="8.62" lengthAdjust="spacingAndGlyphs">MR</text>
<text x="587.5" y="361.35" font-size="5.7" font-weight="bold" textLength="7.37" lengthAdjust="spacingAndGlyphs">T 3</text>
<text x="747.12" y="361.35" font-size="5.7" font-weight="bold" textLength="8.62" lengthAdjust="spacingAndGlyphs">MR</text>
<text x="31" y="370.35" font-size="6.15" font-weight="bold" text-anchor="start" textLength="78.43" lengthAdjust="spacingAndGlyphs">U13 Régional 1 &amp; 2 - Phase 2</text>
<text x="126.6" y="370.5" font-size="6.15" textLength="6.71" lengthAdjust="spacingAndGlyphs">08</text>
<text x="31" y="380.35" font-size="6.15" font-weight="bold" text-anchor="start" textLength="47.45" lengthAdjust="spacingAndGlyphs">Festival Foot U13</text>
<text x="31" y="399.38" font-size="6.15" font-weight="bold" text-anchor="start" textLength="46.27" lengthAdjust="spacingAndGlyphs">Régional 1, 2 &amp; 3</text>
<text x="126.6" y="399.52" font-size="6.15" textLength="6.71" lengthAdjust="spacingAndGlyphs">10</text>
<text x="31" y="409.35" font-size="6.15" font-weight="bold" text-anchor="start" textLength="46.27" lengthAdjust="spacingAndGlyphs">Régional 1, 2 &amp; 3</text>
<text x="126.6" y="409.5" font-size="6.15" textLength="6.71" lengthAdjust="spacingAndGlyphs">08</text>
<text x="31" y="419.35" font-size="6.15" font-weight="bold" text-anchor="start" textLength="45.9" lengthAdjust="spacingAndGlyphs">Coupe Nationale</text>
<text x="31" y="428.35" font-size="6.15" font-weight="bold" text-anchor="start" textLength="58.38" lengthAdjust="spacingAndGlyphs">Coupe de Normandie</text>
<text x="31" y="438.35" font-size="6.15" font-weight="bold" text-anchor="start" textLength="83.01" lengthAdjust="spacingAndGlyphs">Challenge Entreprise R 1 &amp; R 2</text>
<text x="31" y="447.35" font-size="6.15" font-weight="bold" text-anchor="start" textLength="62.44" lengthAdjust="spacingAndGlyphs">Coupe d'Entreprise R 3</text>
</g>
<path fill="#d9d9d9" d="M136.35 598.35h104.8v7.3h-104.8zM243.6 598.35h103.05v7.3h-103.05zM349.1 598.35h103.8v7.3h-103.8zM455.35 598.35h157.6v7.3h-157.6zM615.45 598.35h84.2v7.3h-84.2zM136.35 607.35h33.3v8.3h-33.3zM171.35 607.35h34.3v8.3h-34.3zM207.35 607.35h15.3v8.3h-15.3zM224.35 607.35h16.8v8.3h-16.8zM243.6 607.35h33.05v8.3h-33.05zM278.35 607.35h15.3v8.3h-15.3zM295.35 607.35h16.3v8.3h-16.3zM313.35 607.35h16.3v8.3h-16.3zM331.35 607.35h15.3v8.3h-15.3zM349.1 607.35h15.55v8.3h-15.55zM366.35 607.35h34.3v8.3h-34.3zM402.35 607.35h16.3v8.3h-16.3zM420.35 607.35h32.55v8.3h-32.55zM455.35 607.35h33.3v8.3h-33.3zM490.35 607.35h16.3v8.3h-16.3zM508.35 607.35h34.3v8.3h-34.3zM544.35 607.35h33.3v8.3h-33.3zM579.35 607.35h16.3v8.3h-16.3zM597.35 607.35h15.6v8.3h-15.6zM615.45 607.35h33.2v8.3h-33.2zM650.35 607.35h16.3v8.3h-16.3zM668.35 607.35h16.3v8.3h-16.3zM686.35 607.35h13.3v8.3h-13.3zM136.35 617.35h15.3v8.3h-15.3zM136.35 627.35h15.3v7.2h-15.3zM243.6 617.35h15.05v8.3h-15.05zM243.6 627.35h15.05v7.2h-15.05zM295.35 617.35h16.3v17.2h-16.3zM366.35 617.35h16.3v8.3h-16.3zM366.35 627.35h16.3v7.2h-16.3zM473.35 617.35h15.3v8.3h-15.3zM473.35 627.35h15.3v7.2h-15.3zM508.35 617.35h16.3v8.3h-16.3zM508.35 627.35h16.3v7.2h-16.3zM544.35 617.35h15.3v8.3h-15.3zM544.35 627.35h15.3v7.2h-15.3zM579.35 617.35h16.3v8.3h-16.3zM579.35 627.35h16.3v7.2h-16.3zM136.35 646.3h15.3v7.35h-15.3zM171.35 646.3h16.3v7.35h-16.3zM243.6 646.3h15.05v7.35h-15.05zM295.35 646.3h16.3v7.35h-16.3zM366.35 646.3h16.3v7.35h-16.3zM420.35 646.3h15.3v7.35h-15.3zM473.35 646.3h15.3v7.35h-15.3zM508.35 646.3h16.3v7.35h-16.3zM544.35 646.3h15.3v7.35h-15.3zM579.35 646.3h16.3v7.35h-16.3zM136.35 655.35h15.3v8.3h-15.3zM171.35 655.35h16.3v8.3h-16.3zM243.6 655.35h15.05v8.3h-15.05zM295.35 655.35h16.3v8.3h-16.3zM366.35 655.35h16.3v8.3h-16.3zM420.35 655.35h15.3v8.3h-15.3zM473.35 655.35h15.3v8.3h-15.3zM508.35 655.35h16.3v8.3h-16.3zM544.35 655.35h15.3v8.3h-15.3zM579.35 655.35h16.3v8.3h-16.3zM136.35 665.35h15.3v8.3h-15.3zM171.35 665.35h16.3v8.3h-16.3zM243.6 665.35h15.05v8.3h-15.05zM295.35 665.35h16.3v8.3h-16.3zM366.35 665.35h16.3v8.3h-16.3zM420.35 665.35h15.3v8.3h-15.3zM473.35 665.35h15.3v8.3h-15.3zM508.35 665.35h16.3v8.3h-16.3zM544.35 665.35h15.3v8.3h-15.3zM579.35 665.35h16.3v8.3h-16.3zM136.35 675.35h15.3v7.3h-15.3zM171.35 675.35h16.3v7.3h-16.3zM243.6 675.35h15.05v7.3h-15.05zM295.35 675.35h16.3v7.3h-16.3zM366.35 675.35h16.3v7.3h-16.3zM420.35 675.35h15.3v7.3h-15.3zM473.35 675.35h15.3v7.3h-15.3zM508.35 675.35h16.3v7.3h-16.3zM544.35 675.35h15.3v7.3h-15.3zM579.35 675.35h16.3v7.3h-16.3zM136.35 684.35h15.3v8.3h-15.3zM171.35 684.35h16.3v8.3h-16.3zM243.6 684.35h15.05v8.3h-15.05zM295.35 684.35h16.3v8.3h-16.3zM366.35 684.35h16.3v8.3h-16.3zM420.35 684.35h15.3v8.3h-15.3zM473.35 684.35h15.3v8.3h-15.3zM508.35 684.35h16.3v8.3h-16.3zM544.35 684.35h15.3v8.3h-15.3zM579.35 684.35h16.3v8.3h-16.3zM136.35 694.35h15.3v7.3h-15.3zM171.35 694.35h16.3v7.3h-16.3zM243.6 694.35h15.05v7.3h-15.05zM295.35 694.35h16.3v7.3h-16.3zM366.35 694.35h16.3v7.3h-16.3zM420.35 694.35h15.3v7.3h-15.3zM473.35 694.35h15.3v7.3h-15.3zM508.35 694.35h16.3v7.3h-16.3zM544.35 694.35h15.3v7.3h-15.3zM579.35 694.35h16.3v7.3h-16.3zM136.35 703.35h15.3v8.3h-15.3zM171.35 703.35h16.3v8.3h-16.3zM243.6 703.35h15.05v8.3h-15.05zM295.35 703.35h16.3v8.3h-16.3zM366.35 703.35h16.3v8.3h-16.3zM420.35 703.35h15.3v8.3h-15.3zM473.35 703.35h15.3v8.3h-15.3zM508.35 703.35h16.3v8.3h-16.3zM544.35 703.35h15.3v8.3h-15.3zM579.35 703.35h16.3v8.3h-16.3zM136.35 713.35h15.3v8.3h-15.3zM171.35 713.35h16.3v8.3h-16.3zM243.6 713.35h15.05v8.3h-15.05zM295.35 713.35h16.3v8.3h-16.3zM366.35 713.35h16.3v8.3h-16.3zM420.35 713.35h15.3v8.3h-15.3zM473.35 713.35h15.3v8.3h-15.3zM508.35 713.35h16.3v8.3h-16.3zM544.35 713.35h15.3v8.3h-15.3zM579.35 713.35h16.3v8.3h-16.3zM136.35 723.35h15.3v8.3h-15.3zM171.35 723.35h16.3v8.3h-16.3zM243.6 723.35h15.05v8.3h-15.05zM295.35 723.35h16.3v8.3h-16.3zM366.35 723.35h16.3v8.3h-16.3zM420.35 723.35h15.3v8.3h-15.3zM473.35 723.35h15.3v8.3h-15.3zM508.35 723.35h16.3v8.3h-16.3zM544.35 723.35h15.3v8.3h-15.3zM579.35 723.35h16.3v8.3h-16.3zM136.35 733.35h15.3v7h-15.3zM171.35 733.35h16.3v7h-16.3zM243.6 733.35h15.05v7h-15.05zM295.35 733.35h16.3v7h-16.3zM366.35 733.35h16.3v7h-16.3zM420.35 733.35h15.3v7h-15.3zM473.35 733.35h15.3v7h-15.3zM508.35 733.35h16.3v7h-16.3zM544.35 733.35h15.3v7h-15.3zM579.35 733.35h16.3v7h-16.3zM136.35 752.15h15.3v7.5h-15.3zM171.35 752.15h16.3v7.5h-16.3zM243.6 752.15h15.05v7.5h-15.05zM295.35 752.15h16.3v7.5h-16.3zM366.35 752.15h16.3v7.5h-16.3zM420.35 752.15h15.3v7.5h-15.3zM473.35 752.15h15.3v7.5h-15.3zM508.35 752.15h16.3v7.5h-16.3zM544.35 752.15h15.3v7.5h-15.3zM579.35 752.15h16.3v7.5h-16.3zM136.35 761.35h15.3v8.3h-15.3zM171.35 761.35h16.3v8.3h-16.3zM243.6 761.35h15.05v8.3h-15.05zM295.35 761.35h16.3v8.3h-16.3zM366.35 761.35h16.3v8.3h-16.3zM420.35 761.35h15.3v8.3h-15.3zM473.35 761.35h15.3v8.3h-15.3zM508.35 761.35h16.3v8.3h-16.3zM544.35 761.35h15.3v8.3h-15.3zM579.35 761.35h16.3v8.3h-16.3zM136.35 771.35h15.3v8.3h-15.3zM171.35 771.35h16.3v8.3h-16.3zM243.6 771.35h15.05v8.3h-15.05zM295.35 771.35h16.3v8.3h-16.3zM366.35 771.35h16.3v8.3h-16.3zM420.35 771.35h15.3v8.3h-15.3zM473.35 771.35h15.3v8.3h-15.3zM508.35 771.35h16.3v8.3h-16.3zM544.35 771.35h15.3v8.3h-15.3zM579.35 771.35h16.3v8.3h-16.3zM136.35 781.35h15.3v7.3h-15.3zM171.35 781.35h16.3v7.3h-16.3zM243.6 781.35h15.05v7.3h-15.05zM295.35 781.35h16.3v7.3h-16.3zM366.35 781.35h16.3v7.3h-16.3zM420.35 781.35h15.3v7.3h-15.3zM473.35 781.35h15.3v7.3h-15.3zM508.35 781.35h16.3v7.3h-16.3zM544.35 781.35h15.3v7.3h-15.3zM579.35 781.35h16.3v7.3h-16.3zM136.35 790.35h15.3v8.3h-15.3zM171.35 790.35h16.3v8.3h-16.3zM243.6 790.35h15.05v8.3h-15.05zM295.35 790.35h16.3v8.3h-16.3zM366.35 790.35h16.3v8.3h-16.3zM420.35 790.35h15.3v8.3h-15.3zM473.35 790.35h15.3v8.3h-15.3zM508.35 790.35h16.3v8.3h-16.3zM544.35 790.35h15.3v8.3h-15.3zM579.35 790.35h16.3v8.3h-16.3zM136.35 800.35h15.3v8.3h-15.3zM171.35 800.35h16.3v8.3h-16.3zM243.6 800.35h15.05v8.3h-15.05zM295.35 800.35h16.3v8.3h-16.3zM366.35 800.35h16.3v8.3h-16.3zM420.35 800.35h15.3v8.3h-15.3zM473.35 800.35h15.3v8.3h-15.3zM508.35 800.35h16.3v8.3h-16.3zM544.35 800.35h15.3v8.3h-15.3zM579.35 800.35h16.3v8.3h-16.3zM136.35 810.35h15.3v7.3h-15.3zM171.35 810.35h16.3v7.3h-16.3zM243.6 810.35h15.05v7.3h-15.05zM295.35 810.35h16.3v7.3h-16.3zM366.35 810.35h16.3v7.3h-16.3zM420.35 810.35h15.3v7.3h-15.3zM473.35 810.35h15.3v7.3h-15.3zM508.35 810.35h16.3v7.3h-16.3zM544.35 810.35h15.3v7.3h-15.3zM579.35 810.35h16.3v7.3h-16.3zM136.35 819.35h15.3v8.3h-15.3zM171.35 819.35h16.3v8.3h-16.3zM243.6 819.35h15.05v8.3h-15.05zM295.35 819.35h16.3v8.3h-16.3zM366.35 819.35h16.3v8.3h-16.3zM420.35 819.35h15.3v8.3h-15.3zM473.35 819.35h15.3v8.3h-15.3zM508.35 819.35h16.3v8.3h-16.3zM544.35 819.35h15.3v8.3h-15.3zM579.35 819.35h16.3v8.3h-16.3zM136.35 829.35h15.3v8.3h-15.3zM171.35 829.35h16.3v8.3h-16.3zM243.6 829.35h15.05v8.3h-15.05zM295.35 829.35h16.3v8.3h-16.3zM366.35 829.35h16.3v8.3h-16.3zM420.35 829.35h15.3v8.3h-15.3zM473.35 829.35h15.3v8.3h-15.3zM508.35 829.35h16.3v8.3h-16.3zM544.35 829.35h15.3v8.3h-15.3zM579.35 829.35h16.3v8.3h-16.3zM136.35 839.35h15.3v7.3h-15.3zM171.35 839.35h16.3v7.3h-16.3zM243.6 839.35h15.05v7.3h-15.05zM295.35 839.35h16.3v7.3h-16.3zM366.35 839.35h16.3v7.3h-16.3zM420.35 839.35h15.3v7.3h-15.3zM473.35 839.35h15.3v7.3h-15.3zM508.35 839.35h16.3v7.3h-16.3zM544.35 839.35h15.3v7.3h-15.3zM579.35 839.35h16.3v7.3h-16.3zM136.35 848.35h15.3v8.3h-15.3zM171.35 848.35h16.3v8.3h-16.3zM243.6 848.35h15.05v8.3h-15.05zM295.35 848.35h16.3v8.3h-16.3zM366.35 848.35h16.3v8.3h-16.3zM420.35 848.35h15.3v8.3h-15.3zM473.35 848.35h15.3v8.3h-15.3zM508.35 848.35h16.3v8.3h-16.3zM544.35 848.35h15.3v8.3h-15.3zM579.35 848.35h16.3v8.3h-16.3zM136.35 858.35h15.3v7.3h-15.3zM171.35 858.35h16.3v7.3h-16.3zM243.6 858.35h15.05v7.3h-15.05zM295.35 858.35h16.3v7.3h-16.3zM366.35 858.35h16.3v7.3h-16.3zM420.35 858.35h15.3v7.3h-15.3zM473.35 858.35h15.3v7.3h-15.3zM508.35 858.35h16.3v7.3h-16.3zM544.35 858.35h15.3v7.3h-15.3zM579.35 858.35h16.3v7.3h-16.3zM136.35 867.35h15.3v8.3h-15.3zM171.35 867.35h16.3v8.3h-16.3zM243.6 867.35h15.05v8.3h-15.05zM295.35 867.35h16.3v8.3h-16.3zM366.35 867.35h16.3v8.3h-16.3zM420.35 867.35h15.3v8.3h-15.3zM473.35 867.35h15.3v8.3h-15.3zM508.35 867.35h16.3v8.3h-16.3zM544.35 867.35h15.3v8.3h-15.3zM579.35 867.35h16.3v8.3h-16.3zM136.35 877.35h15.3v7.3h-15.3zM171.35 877.35h16.3v7.3h-16.3zM243.6 877.35h15.05v7.3h-15.05zM295.35 877.35h16.3v7.3h-16.3zM366.35 877.35h16.3v7.3h-16.3zM420.35 877.35h15.3v7.3h-15.3zM473.35 877.35h15.3v7.3h-15.3zM508.35 877.35h16.3v7.3h-16.3zM544.35 877.35h15.3v7.3h-15.3zM579.35 877.35h16.3v7.3h-16.3zM136.35 886.35h15.3v8.3h-15.3zM171.35 886.35h16.3v8.3h-16.3zM243.6 886.35h15.05v8.3h-15.05zM295.35 886.35h16.3v8.3h-16.3zM366.35 886.35h16.3v8.3h-16.3zM420.35 886.35h15.3v8.3h-15.3zM473.35 886.35h15.3v8.3h-15.3zM508.35 886.35h16.3v8.3h-16.3zM544.35 886.35h15.3v8.3h-15.3zM579.35 886.35h16.3v8.3h-16.3zM136.35 896.35h15.3v8.3h-15.3zM171.35 896.35h16.3v8.3h-16.3zM243.6 896.35h15.05v8.3h-15.05zM295.35 896.35h16.3v8.3h-16.3zM366.35 896.35h16.3v8.3h-16.3zM420.35 896.35h15.3v8.3h-15.3zM473.35 896.35h15.3v8.3h-15.3zM508.35 896.35h16.3v8.3h-16.3zM544.35 896.35h15.3v8.3h-15.3zM579.35 896.35h16.3v8.3h-16.3zM136.35 906.35h15.3v7.3h-15.3zM171.35 906.35h16.3v7.3h-16.3zM243.6 906.35h15.05v7.3h-15.05zM295.35 906.35h16.3v7.3h-16.3zM366.35 906.35h16.3v7.3h-16.3zM420.35 906.35h15.3v7.3h-15.3zM473.35 906.35h15.3v7.3h-15.3zM508.35 906.35h16.3v7.3h-16.3zM544.35 906.35h15.3v7.3h-15.3zM579.35 906.35h16.3v7.3h-16.3zM136.35 915.35h15.3v8.3h-15.3zM171.35 915.35h16.3v8.3h-16.3zM243.6 915.35h15.05v8.3h-15.05zM295.35 915.35h16.3v8.3h-16.3zM366.35 915.35h16.3v8.3h-16.3zM420.35 915.35h15.3v8.3h-15.3zM473.35 915.35h15.3v8.3h-15.3zM508.35 915.35h16.3v8.3h-16.3zM544.35 915.35h15.3v8.3h-15.3zM579.35 915.35h16.3v8.3h-16.3zM136.35 925.35h15.3v8.2h-15.3zM171.35 925.35h16.3v8.2h-16.3zM243.6 925.35h15.05v8.2h-15.05zM295.35 925.35h16.3v8.2h-16.3zM366.35 925.35h16.3v8.2h-16.3zM420.35 925.35h15.3v8.2h-15.3zM473.35 925.35h15.3v8.2h-15.3zM508.35 925.35h16.3v8.2h-16.3zM544.35 925.35h15.3v8.2h-15.3zM579.35 925.35h16.3v8.2h-16.3zM136.35 944.4h15.3v8.25h-15.3zM171.35 944.4h16.3v8.25h-16.3zM243.6 944.4h15.05v8.25h-15.05zM295.35 944.4h16.3v8.25h-16.3zM366.35 944.4h16.3v8.25h-16.3zM420.35 944.4h15.3v8.25h-15.3zM473.35 944.4h15.3v8.25h-15.3zM508.35 944.4h16.3v8.25h-16.3zM544.35 944.4h15.3v8.25h-15.3zM579.35 944.4h16.3v8.25h-16.3zM136.35 954.35h15.3v8.3h-15.3zM171.35 954.35h16.3v8.3h-16.3zM243.6 954.35h15.05v8.3h-15.05zM295.35 954.35h16.3v8.3h-16.3zM366.35 954.35h16.3v8.3h-16.3zM420.35 954.35h15.3v8.3h-15.3zM473.35 954.35h15.3v8.3h-15.3zM508.35 954.35h16.3v8.3h-16.3zM544.35 954.35h15.3v8.3h-15.3zM579.35 954.35h16.3v8.3h-16.3zM136.35 964.35h15.3v7.3h-15.3zM171.35 964.35h16.3v7.3h-16.3zM243.6 964.35h15.05v7.3h-15.05zM295.35 964.35h16.3v7.3h-16.3zM366.35 964.35h16.3v7.3h-16.3zM420.35 964.35h15.3v7.3h-15.3zM473.35 964.35h15.3v7.3h-15.3zM508.35 964.35h16.3v7.3h-16.3zM544.35 964.35h15.3v7.3h-15.3zM579.35 964.35h16.3v7.3h-16.3zM136.35 973.35h15.3v8.3h-15.3zM171.35 973.35h16.3v8.3h-16.3zM243.6 973.35h15.05v8.3h-15.05zM295.35 973.35h16.3v8.3h-16.3zM366.35 973.35h16.3v8.3h-16.3zM420.35 973.35h15.3v8.3h-15.3zM473.35 973.35h15.3v8.3h-15.3zM508.35 973.35h16.3v8.3h-16.3zM544.35 973.35h15.3v8.3h-15.3zM579.35 973.35h16.3v8.3h-16.3zM136.35 983.35h15.3v7.3h-15.3zM171.35 983.35h16.3v7.3h-16.3zM243.6 983.35h15.05v7.3h-15.05zM295.35 983.35h16.3v7.3h-16.3zM366.35 983.35h16.3v7.3h-16.3zM420.35 983.35h15.3v7.3h-15.3zM473.35 983.35h15.3v7.3h-15.3zM508.35 983.35h16.3v7.3h-16.3zM544.35 983.35h15.3v7.3h-15.3zM579.35 983.35h16.3v7.3h-16.3zM136.35 992.35h15.3v7.9h-15.3zM171.35 992.35h16.3v7.9h-16.3zM243.6 992.35h15.05v7.9h-15.05zM295.35 992.35h16.3v7.9h-16.3zM366.35 992.35h16.3v7.9h-16.3zM420.35 992.35h15.3v7.9h-15.3zM473.35 992.35h15.3v7.9h-15.3zM508.35 992.35h16.3v7.9h-16.3zM544.35 992.35h15.3v7.9h-15.3zM579.35 992.35h16.3v7.9h-16.3z"/>
<path fill="#99ff99" d="M153.35 617.35h16.3v8.3h-16.3zM153.35 627.35h16.3v7.2h-16.3zM171.35 617.35h16.3v8.3h-16.3zM171.35 627.35h16.3v7.2h-16.3zM189.35 617.35h16.3v8.3h-16.3zM189.35 627.35h16.3v7.2h-16.3zM207.35 617.35h15.3v8.3h-15.3zM207.35 627.35h15.3v7.2h-15.3zM384.35 617.35h16.3v8.3h-16.3zM384.35 627.35h16.3v7.2h-16.3zM402.35 617.35h16.3v8.3h-16.3zM402.35 627.35h16.3v7.2h-16.3zM420.35 617.35h15.3v8.3h-15.3zM420.35 627.35h15.3v7.2h-15.3zM437.35 617.35h15.55v8.3h-15.55zM437.35 627.35h15.55v7.2h-15.55z"/>
<path fill="#c5d9f1" d="M30.35 646.3h103.7v7.35h-103.7zM153.35 646.3h16.3v7.35h-16.3zM189.35 646.3h16.3v7.35h-16.3zM207.35 646.3h15.3v7.35h-15.3zM224.35 646.3h16.8v7.35h-16.8zM260.35 646.3h16.3v7.35h-16.3zM278.35 646.3h15.3v7.35h-15.3zM313.35 646.3h16.3v7.35h-16.3zM331.35 646.3h15.3v7.35h-15.3zM349.1 646.3h15.55v7.35h-15.55zM384.35 646.3h16.3v7.35h-16.3zM402.35 646.3h16.3v7.35h-16.3zM437.35 646.3h15.55v7.35h-15.55zM455.35 646.3h16.3v7.35h-16.3zM490.35 646.3h16.3v7.35h-16.3zM526.35 646.3h16.3v7.35h-16.3zM561.35 646.3h16.3v7.35h-16.3zM597.35 646.3h15.6v7.35h-15.6zM615.45 646.3h15.2v7.35h-15.2zM632.35 646.3h16.3v7.35h-16.3zM650.35 646.3h16.3v7.35h-16.3zM668.35 646.3h16.3v7.35h-16.3zM686.35 646.3h13.3v7.35h-13.3zM30.35 655.35h103.7v8.3h-103.7zM153.35 655.35h16.3v8.3h-16.3zM189.35 655.35h16.3v8.3h-16.3zM207.35 655.35h15.3v8.3h-15.3zM224.35 655.35h16.8v8.3h-16.8zM260.35 655.35h16.3v8.3h-16.3zM278.35 655.35h15.3v8.3h-15.3zM313.35 655.35h16.3v8.3h-16.3zM331.35 655.35h15.3v8.3h-15.3zM349.1 655.35h15.55v8.3h-15.55zM384.35 655.35h16.3v8.3h-16.3zM402.35 655.35h16.3v8.3h-16.3zM437.35 655.35h15.55v8.3h-15.55zM455.35 655.35h16.3v8.3h-16.3zM490.35 655.35h16.3v8.3h-16.3zM526.35 655.35h16.3v8.3h-16.3zM561.35 655.35h16.3v8.3h-16.3zM597.35 655.35h15.6v8.3h-15.6zM615.45 655.35h15.2v8.3h-15.2zM632.35 655.35h16.3v8.3h-16.3zM650.35 655.35h16.3v8.3h-16.3zM668.35 655.35h16.3v8.3h-16.3zM686.35 655.35h13.3v8.3h-13.3zM30.35 665.35h103.7v8.3h-103.7zM153.35 665.35h16.3v8.3h-16.3zM189.35 665.35h16.3v8.3h-16.3zM207.35 665.35h15.3v8.3h-15.3zM224.35 665.35h16.8v8.3h-16.8zM260.35 665.35h16.3v8.3h-16.3zM278.35 665.35h15.3v8.3h-15.3zM313.35 665.35h16.3v8.3h-16.3zM331.35 665.35h15.3v8.3h-15.3zM349.1 665.35h15.55v8.3h-15.55zM384.35 665.35h16.3v8.3h-16.3zM402.35 665.35h16.3v8.3h-16.3zM437.35 665.35h15.55v8.3h-15.55zM455.35 665.35h16.3v8.3h-16.3zM490.35 665.35h16.3v8.3h-16.3zM526.35 665.35h16.3v8.3h-16.3zM561.35 665.35h16.3v8.3h-16.3zM597.35 665.35h15.6v8.3h-15.6zM615.45 665.35h15.2v8.3h-15.2zM632.35 665.35h16.3v8.3h-16.3zM650.35 665.35h16.3v8.3h-16.3zM668.35 665.35h16.3v8.3h-16.3zM686.35 665.35h13.3v8.3h-13.3zM30.35 675.35h103.7v7.3h-103.7zM153.35 675.35h16.3v7.3h-16.3zM189.35 675.35h16.3v7.3h-16.3zM207.35 675.35h15.3v7.3h-15.3zM224.35 675.35h16.8v7.3h-16.8zM260.35 675.35h16.3v7.3h-16.3zM278.35 675.35h15.3v7.3h-15.3zM313.35 675.35h16.3v7.3h-16.3zM331.35 675.35h15.3v7.3h-15.3zM349.1 675.35h15.55v7.3h-15.55zM384.35 675.35h16.3v7.3h-16.3zM402.35 675.35h16.3v7.3h-16.3zM437.35 675.35h15.55v7.3h-15.55zM455.35 675.35h16.3v7.3h-16.3zM490.35 675.35h16.3v7.3h-16.3zM526.35 675.35h16.3v7.3h-16.3zM561.35 675.35h16.3v7.3h-16.3zM597.35 675.35h15.6v7.3h-15.6zM615.45 675.35h15.2v7.3h-15.2zM632.35 675.35h16.3v7.3h-16.3zM650.35 675.35h16.3v7.3h-16.3zM668.35 675.35h16.3v7.3h-16.3zM686.35 675.35h13.3v7.3h-13.3zM30.35 684.35h103.7v8.3h-103.7zM153.35 684.35h16.3v8.3h-16.3zM189.35 684.35h16.3v8.3h-16.3zM207.35 684.35h15.3v8.3h-15.3zM224.35 684.35h16.8v8.3h-16.8zM260.35 684.35h16.3v8.3h-16.3zM278.35 684.35h15.3v8.3h-15.3zM313.35 684.35h16.3v8.3h-16.3zM331.35 684.35h15.3v8.3h-15.3zM349.1 684.35h15.55v8.3h-15.55zM384.35 684.35h16.3v8.3h-16.3zM402.35 684.35h16.3v8.3h-16.3zM437.35 684.35h15.55v8.3h-15.55zM455.35 684.35h16.3v8.3h-16.3zM490.35 684.35h16.3v8.3h-16.3zM526.35 684.35h16.3v8.3h-16.3zM561.35 684.35h16.3v8.3h-16.3zM597.35 684.35h15.6v8.3h-15.6zM615.45 684.35h15.2v8.3h-15.2zM632.35 684.35h16.3v8.3h-16.3zM650.35 684.35h16.3v8.3h-16.3zM668.35 684.35h16.3v8.3h-16.3zM686.35 684.35h13.3v8.3h-13.3zM30.35 713.35h103.7v8.3h-103.7zM153.35 713.35h16.3v8.3h-16.3zM189.35 713.35h16.3v8.3h-16.3zM207.35 713.35h15.3v8.3h-15.3zM224.35 713.35h16.8v8.3h-16.8zM260.35 713.35h16.3v8.3h-16.3zM278.35 713.35h15.3v8.3h-15.3zM313.35 713.35h16.3v8.3h-16.3zM331.35 713.35h15.3v8.3h-15.3zM349.1 713.35h15.55v8.3h-15.55zM384.35 713.35h16.3v8.3h-16.3zM402.35 713.35h16.3v8.3h-16.3zM437.35 713.35h15.55v8.3h-15.55zM455.35 713.35h16.3v8.3h-16.3zM490.35 713.35h16.3v8.3h-16.3zM526.35 713.35h16.3v8.3h-16.3zM561.35 713.35h16.3v8.3h-16.3zM597.35 713.35h15.6v8.3h-15.6zM615.45 713.35h15.2v8.3h-15.2zM632.35 713.35h16.3v8.3h-16.3zM650.35 713.35h16.3v8.3h-16.3zM668.35 713.35h16.3v8.3h-16.3zM686.35 713.35h13.3v8.3h-13.3zM30.35 752.15h103.7v7.5h-103.7zM153.35 752.15h16.3v7.5h-16.3zM189.35 752.15h16.3v7.5h-16.3zM207.35 752.15h15.3v7.5h-15.3zM224.35 752.15h16.8v7.5h-16.8zM260.35 752.15h16.3v7.5h-16.3zM278.35 752.15h15.3v7.5h-15.3zM313.35 752.15h16.3v7.5h-16.3zM331.35 752.15h15.3v7.5h-15.3zM349.1 752.15h15.55v7.5h-15.55zM384.35 752.15h16.3v7.5h-16.3zM402.35 752.15h16.3v7.5h-16.3zM437.35 752.15h15.55v7.5h-15.55zM455.35 752.15h16.3v7.5h-16.3zM490.35 752.15h16.3v7.5h-16.3zM526.35 752.15h16.3v7.5h-16.3zM561.35 752.15h16.3v7.5h-16.3zM597.35 752.15h15.6v7.5h-15.6zM615.45 752.15h15.2v7.5h-15.2zM632.35 752.15h16.3v7.5h-16.3zM650.35 752.15h16.3v7.5h-16.3zM668.35 752.15h16.3v7.5h-16.3zM686.35 752.15h13.3v7.5h-13.3zM30.35 790.35h103.7v8.3h-103.7zM153.35 790.35h16.3v8.3h-16.3zM189.35 790.35h16.3v8.3h-16.3zM207.35 790.35h15.3v8.3h-15.3zM224.35 790.35h16.8v8.3h-16.8zM260.35 790.35h16.3v8.3h-16.3zM278.35 790.35h15.3v8.3h-15.3zM313.35 790.35h16.3v8.3h-16.3zM331.35 790.35h15.3v8.3h-15.3zM349.1 790.35h15.55v8.3h-15.55zM384.35 790.35h16.3v8.3h-16.3zM402.35 790.35h16.3v8.3h-16.3zM437.35 790.35h15.55v8.3h-15.55zM455.35 790.35h16.3v8.3h-16.3zM490.35 790.35h16.3v8.3h-16.3zM526.35 790.35h16.3v8.3h-16.3zM561.35 790.35h16.3v8.3h-16.3zM597.35 790.35h15.6v8.3h-15.6zM615.45 790.35h15.2v8.3h-15.2zM632.35 790.35h16.3v8.3h-16.3zM650.35 790.35h16.3v8.3h-16.3zM668.35 790.35h16.3v8.3h-16.3zM686.35 790.35h13.3v8.3h-13.3zM30.35 810.35h103.7v7.3h-103.7zM153.35 810.35h16.3v7.3h-16.3zM189.35 810.35h16.3v7.3h-16.3zM207.35 810.35h15.3v7.3h-15.3zM224.35 810.35h16.8v7.3h-16.8zM260.35 810.35h16.3v7.3h-16.3zM278.35 810.35h15.3v7.3h-15.3zM313.35 810.35h16.3v7.3h-16.3zM331.35 810.35h15.3v7.3h-15.3zM349.1 810.35h15.55v7.3h-15.55zM384.35 810.35h16.3v7.3h-16.3zM402.35 810.35h16.3v7.3h-16.3zM437.35 810.35h15.55v7.3h-15.55zM455.35 810.35h16.3v7.3h-16.3zM490.35 810.35h16.3v7.3h-16.3zM526.35 810.35h16.3v7.3h-16.3zM561.35 810.35h16.3v7.3h-16.3zM597.35 810.35h15.6v7.3h-15.6zM615.45 810.35h15.2v7.3h-15.2zM632.35 810.35h16.3v7.3h-16.3zM650.35 810.35h16.3v7.3h-16.3zM668.35 810.35h16.3v7.3h-16.3zM686.35 810.35h13.3v7.3h-13.3zM30.35 925.35h103.7v8.2h-103.7zM153.35 925.35h16.3v8.2h-16.3zM189.35 925.35h16.3v8.2h-16.3zM207.35 925.35h15.3v8.2h-15.3zM224.35 925.35h16.8v8.2h-16.8zM260.35 925.35h16.3v8.2h-16.3zM278.35 925.35h15.3v8.2h-15.3zM313.35 925.35h16.3v8.2h-16.3zM331.35 925.35h15.3v8.2h-15.3zM349.1 925.35h15.55v8.2h-15.55zM384.35 925.35h16.3v8.2h-16.3zM402.35 925.35h16.3v8.2h-16.3zM437.35 925.35h15.55v8.2h-15.55zM455.35 925.35h16.3v8.2h-16.3zM490.35 925.35h16.3v8.2h-16.3zM526.35 925.35h16.3v8.2h-16.3zM561.35 925.35h16.3v8.2h-16.3zM597.35 925.35h15.6v8.2h-15.6zM615.45 925.35h15.2v8.2h-15.2zM632.35 925.35h16.3v8.2h-16.3zM650.35 925.35h16.3v8.2h-16.3zM668.35 925.35h16.3v8.2h-16.3zM686.35 925.35h13.3v8.2h-13.3zM30.35 964.35h103.7v7.3h-103.7zM153.35 964.35h16.3v7.3h-16.3zM189.35 964.35h16.3v7.3h-16.3zM207.35 964.35h15.3v7.3h-15.3zM224.35 964.35h16.8v7.3h-16.8zM260.35 964.35h16.3v7.3h-16.3zM278.35 964.35h15.3v7.3h-15.3zM313.35 964.35h16.3v7.3h-16.3zM331.35 964.35h15.3v7.3h-15.3zM349.1 964.35h15.55v7.3h-15.55zM384.35 964.35h16.3v7.3h-16.3zM402.35 964.35h16.3v7.3h-16.3zM437.35 964.35h15.55v7.3h-15.55zM455.35 964.35h16.3v7.3h-16.3zM490.35 964.35h16.3v7.3h-16.3zM526.35 964.35h16.3v7.3h-16.3zM561.35 964.35h16.3v7.3h-16.3zM597.35 964.35h15.6v7.3h-15.6zM615.45 964.35h15.2v7.3h-15.2zM632.35 964.35h16.3v7.3h-16.3zM650.35 964.35h16.3v7.3h-16.3zM668.35 964.35h16.3v7.3h-16.3zM686.35 964.35h13.3v7.3h-13.3z"/>
<path fill="#ffffcc" d="M30.35 694.35h103.7v7.3h-103.7zM153.35 694.35h16.3v7.3h-16.3zM189.35 694.35h16.3v7.3h-16.3zM207.35 694.35h15.3v7.3h-15.3zM224.35 694.35h16.8v7.3h-16.8zM260.35 694.35h16.3v7.3h-16.3zM278.35 694.35h15.3v7.3h-15.3zM313.35 694.35h16.3v7.3h-16.3zM331.35 694.35h15.3v7.3h-15.3zM349.1 694.35h15.55v7.3h-15.55zM384.35 694.35h16.3v7.3h-16.3zM402.35 694.35h16.3v7.3h-16.3zM437.35 694.35h15.55v7.3h-15.55zM455.35 694.35h16.3v7.3h-16.3zM490.35 694.35h16.3v7.3h-16.3zM526.35 694.35h16.3v7.3h-16.3zM561.35 694.35h16.3v7.3h-16.3zM597.35 694.35h15.6v7.3h-15.6zM615.45 694.35h15.2v7.3h-15.2zM632.35 694.35h16.3v7.3h-16.3zM650.35 694.35h16.3v7.3h-16.3zM668.35 694.35h16.3v7.3h-16.3zM686.35 694.35h13.3v7.3h-13.3zM30.35 703.35h103.7v8.3h-103.7zM153.35 703.35h16.3v8.3h-16.3zM189.35 703.35h16.3v8.3h-16.3zM207.35 703.35h15.3v8.3h-15.3zM224.35 703.35h16.8v8.3h-16.8zM260.35 703.35h16.3v8.3h-16.3zM278.35 703.35h15.3v8.3h-15.3zM313.35 703.35h16.3v8.3h-16.3zM331.35 703.35h15.3v8.3h-15.3zM349.1 703.35h15.55v8.3h-15.55zM384.35 703.35h16.3v8.3h-16.3zM402.35 703.35h16.3v8.3h-16.3zM437.35 703.35h15.55v8.3h-15.55zM455.35 703.35h16.3v8.3h-16.3zM490.35 703.35h16.3v8.3h-16.3zM526.35 703.35h16.3v8.3h-16.3zM561.35 703.35h16.3v8.3h-16.3zM597.35 703.35h15.6v8.3h-15.6zM615.45 703.35h15.2v8.3h-15.2zM632.35 703.35h16.3v8.3h-16.3zM650.35 703.35h16.3v8.3h-16.3zM668.35 703.35h16.3v8.3h-16.3zM686.35 703.35h13.3v8.3h-13.3zM30.35 723.35h103.7v8.3h-103.7zM153.35 723.35h16.3v8.3h-16.3zM189.35 723.35h16.3v8.3h-16.3zM207.35 723.35h15.3v8.3h-15.3zM224.35 723.35h16.8v8.3h-16.8zM260.35 723.35h16.3v8.3h-16.3zM278.35 723.35h15.3v8.3h-15.3zM313.35 723.35h16.3v8.3h-16.3zM331.35 723.35h15.3v8.3h-15.3zM349.1 723.35h15.55v8.3h-15.55zM384.35 723.35h16.3v8.3h-16.3zM402.35 723.35h16.3v8.3h-16.3zM437.35 723.35h15.55v8.3h-15.55zM455.35 723.35h16.3v8.3h-16.3zM490.35 723.35h16.3v8.3h-16.3zM526.35 723.35h16.3v8.3h-16.3zM561.35 723.35h16.3v8.3h-16.3zM597.35 723.35h15.6v8.3h-15.6zM615.45 723.35h15.2v8.3h-15.2zM632.35 723.35h16.3v8.3h-16.3zM650.35 723.35h16.3v8.3h-16.3zM668.35 723.35h16.3v8.3h-16.3zM686.35 723.35h13.3v8.3h-13.3zM30.35 733.35h103.7v7h-103.7zM153.35 733.35h16.3v7h-16.3zM189.35 733.35h16.3v7h-16.3zM207.35 733.35h15.3v7h-15.3zM224.35 733.35h16.8v7h-16.8zM260.35 733.35h16.3v7h-16.3zM278.35 733.35h15.3v7h-15.3zM313.35 733.35h16.3v7h-16.3zM331.35 733.35h15.3v7h-15.3zM349.1 733.35h15.55v7h-15.55zM384.35 733.35h16.3v7h-16.3zM402.35 733.35h16.3v7h-16.3zM437.35 733.35h15.55v7h-15.55zM455.35 733.35h16.3v7h-16.3zM490.35 733.35h16.3v7h-16.3zM526.35 733.35h16.3v7h-16.3zM561.35 733.35h16.3v7h-16.3zM597.35 733.35h15.6v7h-15.6zM615.45 733.35h15.2v7h-15.2zM632.35 733.35h16.3v7h-16.3zM650.35 733.35h16.3v7h-16.3zM668.35 733.35h16.3v7h-16.3zM686.35 733.35h13.3v7h-13.3zM30.35 761.35h103.7v8.3h-103.7zM153.35 761.35h16.3v8.3h-16.3zM189.35 761.35h16.3v8.3h-16.3zM207.35 761.35h15.3v8.3h-15.3zM224.35 761.35h16.8v8.3h-16.8zM260.35 761.35h16.3v8.3h-16.3zM278.35 761.35h15.3v8.3h-15.3zM313.35 761.35h16.3v8.3h-16.3zM331.35 761.35h15.3v8.3h-15.3zM349.1 761.35h15.55v8.3h-15.55zM384.35 761.35h16.3v8.3h-16.3zM402.35 761.35h16.3v8.3h-16.3zM437.35 761.35h15.55v8.3h-15.55zM455.35 761.35h16.3v8.3h-16.3zM490.35 761.35h16.3v8.3h-16.3zM526.35 761.35h16.3v8.3h-16.3zM561.35 761.35h16.3v8.3h-16.3zM597.35 761.35h15.6v8.3h-15.6zM615.45 761.35h15.2v8.3h-15.2zM632.35 761.35h16.3v8.3h-16.3zM650.35 761.35h16.3v8.3h-16.3zM668.35 761.35h16.3v8.3h-16.3zM686.35 761.35h13.3v8.3h-13.3zM30.35 771.35h103.7v8.3h-103.7zM153.35 771.35h16.3v8.3h-16.3zM189.35 771.35h16.3v8.3h-16.3zM207.35 771.35h15.3v8.3h-15.3zM224.35 771.35h16.8v8.3h-16.8zM260.35 771.35h16.3v8.3h-16.3zM278.35 771.35h15.3v8.3h-15.3zM313.35 771.35h16.3v8.3h-16.3zM331.35 771.35h15.3v8.3h-15.3zM349.1 771.35h15.55v8.3h-15.55zM384.35 771.35h16.3v8.3h-16.3zM402.35 771.35h16.3v8.3h-16.3zM437.35 771.35h15.55v8.3h-15.55zM455.35 771.35h16.3v8.3h-16.3zM490.35 771.35h16.3v8.3h-16.3zM526.35 771.35h16.3v8.3h-16.3zM561.35 771.35h16.3v8.3h-16.3zM597.35 771.35h15.6v8.3h-15.6zM615.45 771.35h15.2v8.3h-15.2zM632.35 771.35h16.3v8.3h-16.3zM650.35 771.35h16.3v8.3h-16.3zM668.35 771.35h16.3v8.3h-16.3zM686.35 771.35h13.3v8.3h-13.3zM30.35 781.35h103.7v7.3h-103.7zM153.35 781.35h16.3v7.3h-16.3zM189.35 781.35h16.3v7.3h-16.3zM207.35 781.35h15.3v7.3h-15.3zM224.35 781.35h16.8v7.3h-16.8zM260.35 781.35h16.3v7.3h-16.3zM278.35 781.35h15.3v7.3h-15.3zM313.35 781.35h16.3v7.3h-16.3zM331.35 781.35h15.3v7.3h-15.3zM349.1 781.35h15.55v7.3h-15.55zM384.35 781.35h16.3v7.3h-16.3zM402.35 781.35h16.3v7.3h-16.3zM437.35 781.35h15.55v7.3h-15.55zM455.35 781.35h16.3v7.3h-16.3zM490.35 781.35h16.3v7.3h-16.3zM526.35 781.35h16.3v7.3h-16.3zM561.35 781.35h16.3v7.3h-16.3zM597.35 781.35h15.6v7.3h-15.6zM615.45 781.35h15.2v7.3h-15.2zM632.35 781.35h16.3v7.3h-16.3zM650.35 781.35h16.3v7.3h-16.3zM668.35 781.35h16.3v7.3h-16.3zM686.35 781.35h13.3v7.3h-13.3zM30.35 800.35h103.7v8.3h-103.7zM153.35 800.35h16.3v8.3h-16.3zM189.35 800.35h16.3v8.3h-16.3zM207.35 800.35h15.3v8.3h-15.3zM224.35 800.35h16.8v8.3h-16.8zM260.35 800.35h16.3v8.3h-16.3zM278.35 800.35h15.3v8.3h-15.3zM313.35 800.35h16.3v8.3h-16.3zM331.35 800.35h15.3v8.3h-15.3zM349.1 800.35h15.55v8.3h-15.55zM384.35 800.35h16.3v8.3h-16.3zM402.35 800.35h16.3v8.3h-16.3zM437.35 800.35h15.55v8.3h-15.55zM455.35 800.35h16.3v8.3h-16.3zM490.35 800.35h16.3v8.3h-16.3zM526.35 800.35h16.3v8.3h-16.3zM561.35 800.35h16.3v8.3h-16.3zM597.35 800.35h15.6v8.3h-15.6zM615.45 800.35h15.2v8.3h-15.2zM632.35 800.35h16.3v8.3h-16.3zM650.35 800.35h16.3v8.3h-16.3zM668.35 800.35h16.3v8.3h-16.3zM686.35 800.35h13.3v8.3h-13.3zM30.35 819.35h103.7v8.3h-103.7zM153.35 819.35h16.3v8.3h-16.3zM189.35 819.35h16.3v8.3h-16.3zM207.35 819.35h15.3v8.3h-15.3zM224.35 819.35h16.8v8.3h-16.8zM260.35 819.35h16.3v8.3h-16.3zM278.35 819.35h15.3v8.3h-15.3zM313.35 819.35h16.3v8.3h-16.3zM331.35 819.35h15.3v8.3h-15.3zM349.1 819.35h15.55v8.3h-15.55zM384.35 819.35h16.3v8.3h-16.3zM402.35 819.35h16.3v8.3h-16.3zM437.35 819.35h15.55v8.3h-15.55zM455.35 819.35h16.3v8.3h-16.3zM490.35 819.35h16.3v8.3h-16.3zM526.35 819.35h16.3v8.3h-16.3zM561.35 819.35h16.3v8.3h-16.3zM597.35 819.35h15.6v8.3h-15.6zM615.45 819.35h15.2v8.3h-15.2zM632.35 819.35h16.3v8.3h-16.3zM650.35 819.35h16.3v8.3h-16.3zM668.35 819.35h16.3v8.3h-16.3zM686.35 819.35h13.3v8.3h-13.3zM30.35 829.35h103.7v8.3h-103.7zM153.35 829.35h16.3v8.3h-16.3zM189.35 829.35h16.3v8.3h-16.3zM207.35 829.35h15.3v8.3h-15.3zM224.35 829.35h16.8v8.3h-16.8zM260.35 829.35h16.3v8.3h-16.3zM278.35 829.35h15.3v8.3h-15.3zM313.35 829.35h16.3v8.3h-16.3zM331.35 829.35h15.3v8.3h-15.3zM349.1 829.35h15.55v8.3h-15.55zM384.35 829.35h16.3v8.3h-16.3zM402.35 829.35h16.3v8.3h-16.3zM437.35 829.35h15.55v8.3h-15.55zM455.35 829.35h16.3v8.3h-16.3zM490.35 829.35h16.3v8.3h-16.3zM526.35 829.35h16.3v8.3h-16.3zM561.35 829.35h16.3v8.3h-16.3zM597.35 829.35h15.6v8.3h-15.6zM615.45 829.35h15.2v8.3h-15.2zM632.35 829.35h16.3v8.3h-16.3zM650.35 829.35h16.3v8.3h-16.3zM668.35 829.35h16.3v8.3h-16.3zM686.35 829.35h13.3v8.3h-13.3zM30.35 839.35h103.7v7.3h-103.7zM153.35 839.35h16.3v7.3h-16.3zM189.35 839.35h16.3v7.3h-16.3zM207.35 839.35h15.3v7.3h-15.3zM224.35 839.35h16.8v7.3h-16.8zM260.35 839.35h16.3v7.3h-16.3zM278.35 839.35h15.3v7.3h-15.3zM313.35 839.35h16.3v7.3h-16.3zM331.35 839.35h15.3v7.3h-15.3zM349.1 839.35h15.55v7.3h-15.55zM384.35 839.35h16.3v7.3h-16.3zM402.35 839.35h16.3v7.3h-16.3zM437.35 839.35h15.55v7.3h-15.55zM455.35 839.35h16.3v7.3h-16.3zM490.35 839.35h16.3v7.3h-16.3zM526.35 839.35h16.3v7.3h-16.3zM561.35 839.35h16.3v7.3h-16.3zM597.35 839.35h15.6v7.3h-15.6zM615.45 839.35h15.2v7.3h-15.2zM632.35 839.35h16.3v7.3h-16.3zM650.35 839.35h16.3v7.3h-16.3zM668.35 839.35h16.3v7.3h-16.3zM686.35 839.35h13.3v7.3h-13.3zM30.35 848.35h103.7v8.3h-103.7zM153.35 848.35h16.3v8.3h-16.3zM189.35 848.35h16.3v8.3h-16.3zM207.35 848.35h15.3v8.3h-15.3zM224.35 848.35h16.8v8.3h-16.8zM260.35 848.35h16.3v8.3h-16.3zM278.35 848.35h15.3v8.3h-15.3zM313.35 848.35h16.3v8.3h-16.3zM331.35 848.35h15.3v8.3h-15.3zM349.1 848.35h15.55v8.3h-15.55zM384.35 848.35h16.3v8.3h-16.3zM402.35 848.35h16.3v8.3h-16.3zM437.35 848.35h15.55v8.3h-15.55zM455.35 848.35h16.3v8.3h-16.3zM490.35 848.35h16.3v8.3h-16.3zM526.35 848.35h16.3v8.3h-16.3zM561.35 848.35h16.3v8.3h-16.3zM597.35 848.35h15.6v8.3h-15.6zM615.45 848.35h15.2v8.3h-15.2zM632.35 848.35h16.3v8.3h-16.3zM650.35 848.35h16.3v8.3h-16.3zM668.35 848.35h16.3v8.3h-16.3zM686.35 848.35h13.3v8.3h-13.3zM30.35 858.35h103.7v7.3h-103.7zM153.35 858.35h16.3v7.3h-16.3zM189.35 858.35h16.3v7.3h-16.3zM207.35 858.35h15.3v7.3h-15.3zM224.35 858.35h16.8v7.3h-16.8zM260.35 858.35h16.3v7.3h-16.3zM278.35 858.35h15.3v7.3h-15.3zM313.35 858.35h16.3v7.3h-16.3zM331.35 858.35h15.3v7.3h-15.3zM349.1 858.35h15.55v7.3h-15.55zM384.35 858.35h16.3v7.3h-16.3zM402.35 858.35h16.3v7.3h-16.3zM437.35 858.35h15.55v7.3h-15.55zM455.35 858.35h16.3v7.3h-16.3zM490.35 858.35h16.3v7.3h-16.3zM526.35 858.35h16.3v7.3h-16.3zM561.35 858.35h16.3v7.3h-16.3zM597.35 858.35h15.6v7.3h-15.6zM615.45 858.35h15.2v7.3h-15.2zM632.35 858.35h16.3v7.3h-16.3zM650.35 858.35h16.3v7.3h-16.3zM668.35 858.35h16.3v7.3h-16.3zM686.35 858.35h13.3v7.3h-13.3zM30.35 867.35h103.7v8.3h-103.7zM153.35 867.35h16.3v8.3h-16.3zM189.35 867.35h16.3v8.3h-16.3zM207.35 867.35h15.3v8.3h-15.3zM224.35 867.35h16.8v8.3h-16.8zM260.35 867.35h16.3v8.3h-16.3zM278.35 867.35h15.3v8.3h-15.3zM313.35 867.35h16.3v8.3h-16.3zM331.35 867.35h15.3v8.3h-15.3zM349.1 867.35h15.55v8.3h-15.55zM384.35 867.35h16.3v8.3h-16.3zM402.35 867.35h16.3v8.3h-16.3zM437.35 867.35h15.55v8.3h-15.55zM455.35 867.35h16.3v8.3h-16.3zM490.35 867.35h16.3v8.3h-16.3zM526.35 867.35h16.3v8.3h-16.3zM561.35 867.35h16.3v8.3h-16.3zM597.35 867.35h15.6v8.3h-15.6zM615.45 867.35h15.2v8.3h-15.2zM632.35 867.35h16.3v8.3h-16.3zM650.35 867.35h16.3v8.3h-16.3zM668.35 867.35h16.3v8.3h-16.3zM686.35 867.35h13.3v8.3h-13.3zM30.35 877.35h103.7v7.3h-103.7zM153.35 877.35h16.3v7.3h-16.3zM189.35 877.35h16.3v7.3h-16.3zM207.35 877.35h15.3v7.3h-15.3zM224.35 877.35h16.8v7.3h-16.8zM260.35 877.35h16.3v7.3h-16.3zM278.35 877.35h15.3v7.3h-15.3zM313.35 877.35h16.3v7.3h-16.3zM331.35 877.35h15.3v7.3h-15.3zM349.1 877.35h15.55v7.3h-15.55zM384.35 877.35h16.3v7.3h-16.3zM402.35 877.35h16.3v7.3h-16.3zM437.35 877.35h15.55v7.3h-15.55zM455.35 877.35h16.3v7.3h-16.3zM490.35 877.35h16.3v7.3h-16.3zM526.35 877.35h16.3v7.3h-16.3zM561.35 877.35h16.3v7.3h-16.3zM597.35 877.35h15.6v7.3h-15.6zM615.45 877.35h15.2v7.3h-15.2zM632.35 877.35h16.3v7.3h-16.3zM650.35 877.35h16.3v7.3h-16.3zM668.35 877.35h16.3v7.3h-16.3zM686.35 877.35h13.3v7.3h-13.3zM30.35 886.35h103.7v8.3h-103.7zM153.35 886.35h16.3v8.3h-16.3zM189.35 886.35h16.3v8.3h-16.3zM207.35 886.35h15.3v8.3h-15.3zM224.35 886.35h16.8v8.3h-16.8zM260.35 886.35h16.3v8.3h-16.3zM278.35 886.35h15.3v8.3h-15.3zM313.35 886.35h16.3v8.3h-16.3zM331.35 886.35h15.3v8.3h-15.3zM349.1 886.35h15.55v8.3h-15.55zM384.35 886.35h16.3v8.3h-16.3zM402.35 886.35h16.3v8.3h-16.3zM437.35 886.35h15.55v8.3h-15.55zM455.35 886.35h16.3v8.3h-16.3zM490.35 886.35h16.3v8.3h-16.3zM526.35 886.35h16.3v8.3h-16.3zM561.35 886.35h16.3v8.3h-16.3zM597.35 886.35h15.6v8.3h-15.6zM615.45 886.35h15.2v8.3h-15.2zM632.35 886.35h16.3v8.3h-16.3zM650.35 886.35h16.3v8.3h-16.3zM668.35 886.35h16.3v8.3h-16.3zM686.35 886.35h13.3v8.3h-13.3zM30.35 896.35h103.7v8.3h-103.7zM153.35 896.35h16.3v8.3h-16.3zM189.35 896.35h16.3v8.3h-16.3zM207.35 896.35h15.3v8.3h-15.3zM224.35 896.35h16.8v8.3h-16.8zM260.35 896.35h16.3v8.3h-16.3zM278.35 896.35h15.3v8.3h-15.3zM313.35 896.35h16.3v8.3h-16.3zM331.35 896.35h15.3v8.3h-15.3zM349.1 896.35h15.55v8.3h-15.55zM384.35 896.35h16.3v8.3h-16.3zM402.35 896.35h16.3v8.3h-16.3zM437.35 896.35h15.55v8.3h-15.55zM455.35 896.35h16.3v8.3h-16.3zM490.35 896.35h16.3v8.3h-16.3zM526.35 896.35h16.3v8.3h-16.3zM561.35 896.35h16.3v8.3h-16.3zM597.35 896.35h15.6v8.3h-15.6zM615.45 896.35h15.2v8.3h-15.2zM632.35 896.35h16.3v8.3h-16.3zM650.35 896.35h16.3v8.3h-16.3zM668.35 896.35h16.3v8.3h-16.3zM686.35 896.35h13.3v8.3h-13.3zM30.35 906.35h103.7v7.3h-103.7zM153.35 906.35h16.3v7.3h-16.3zM189.35 906.35h16.3v7.3h-16.3zM207.35 906.35h15.3v7.3h-15.3zM224.35 906.35h16.8v7.3h-16.8zM260.35 906.35h16.3v7.3h-16.3zM278.35 906.35h15.3v7.3h-15.3zM313.35 906.35h16.3v7.3h-16.3zM331.35 906.35h15.3v7.3h-15.3zM349.1 906.35h15.55v7.3h-15.55zM384.35 906.35h16.3v7.3h-16.3zM402.35 906.35h16.3v7.3h-16.3zM437.35 906.35h15.55v7.3h-15.55zM455.35 906.35h16.3v7.3h-16.3zM490.35 906.35h16.3v7.3h-16.3zM526.35 906.35h16.3v7.3h-16.3zM561.35 906.35h16.3v7.3h-16.3zM597.35 906.35h15.6v7.3h-15.6zM615.45 906.35h15.2v7.3h-15.2zM632.35 906.35h16.3v7.3h-16.3zM650.35 906.35h16.3v7.3h-16.3zM668.35 906.35h16.3v7.3h-16.3zM686.35 906.35h13.3v7.3h-13.3zM30.35 915.35h103.7v8.3h-103.7zM153.35 915.35h16.3v8.3h-16.3zM189.35 915.35h16.3v8.3h-16.3zM207.35 915.35h15.3v8.3h-15.3zM224.35 915.35h16.8v8.3h-16.8zM260.35 915.35h16.3v8.3h-16.3zM278.35 915.35h15.3v8.3h-15.3zM313.35 915.35h16.3v8.3h-16.3zM331.35 915.35h15.3v8.3h-15.3zM349.1 915.35h15.55v8.3h-15.55zM384.35 915.35h16.3v8.3h-16.3zM402.35 915.35h16.3v8.3h-16.3zM437.35 915.35h15.55v8.3h-15.55zM455.35 915.35h16.3v8.3h-16.3zM490.35 915.35h16.3v8.3h-16.3zM526.35 915.35h16.3v8.3h-16.3zM561.35 915.35h16.3v8.3h-16.3zM597.35 915.35h15.6v8.3h-15.6zM615.45 915.35h15.2v8.3h-15.2zM632.35 915.35h16.3v8.3h-16.3zM650.35 915.35h16.3v8.3h-16.3zM668.35 915.35h16.3v8.3h-16.3zM686.35 915.35h13.3v8.3h-13.3zM30.35 944.4h103.7v8.25h-103.7zM153.35 944.4h16.3v8.25h-16.3zM189.35 944.4h16.3v8.25h-16.3zM207.35 944.4h15.3v8.25h-15.3zM224.35 944.4h16.8v8.25h-16.8zM260.35 944.4h16.3v8.25h-16.3zM278.35 944.4h15.3v8.25h-15.3zM313.35 944.4h16.3v8.25h-16.3zM331.35 944.4h15.3v8.25h-15.3zM349.1 944.4h15.55v8.25h-15.55zM384.35 944.4h16.3v8.25h-16.3zM402.35 944.4h16.3v8.25h-16.3zM437.35 944.4h15.55v8.25h-15.55zM455.35 944.4h16.3v8.25h-16.3zM490.35 944.4h16.3v8.25h-16.3zM526.35 944.4h16.3v8.25h-16.3zM561.35 944.4h16.3v8.25h-16.3zM597.35 944.4h15.6v8.25h-15.6zM615.45 944.4h15.2v8.25h-15.2zM632.35 944.4h16.3v8.25h-16.3zM650.35 944.4h16.3v8.25h-16.3zM668.35 944.4h16.3v8.25h-16.3zM686.35 944.4h13.3v8.25h-13.3zM30.35 954.35h103.7v8.3h-103.7zM153.35 954.35h16.3v8.3h-16.3zM189.35 954.35h16.3v8.3h-16.3zM207.35 954.35h15.3v8.3h-15.3zM224.35 954.35h16.8v8.3h-16.8zM260.35 954.35h16.3v8.3h-16.3zM278.35 954.35h15.3v8.3h-15.3zM313.35 954.35h16.3v8.3h-16.3zM331.35 954.35h15.3v8.3h-15.3zM349.1 954.35h15.55v8.3h-15.55zM384.35 954.35h16.3v8.3h-16.3zM402.35 954.35h16.3v8.3h-16.3zM437.35 954.35h15.55v8.3h-15.55zM455.35 954.35h16.3v8.3h-16.3zM490.35 954.35h16.3v8.3h-16.3zM526.35 954.35h16.3v8.3h-16.3zM561.35 954.35h16.3v8.3h-16.3zM597.35 954.35h15.6v8.3h-15.6zM615.45 954.35h15.2v8.3h-15.2zM632.35 954.35h16.3v8.3h-16.3zM650.35 954.35h16.3v8.3h-16.3zM668.35 954.35h16.3v8.3h-16.3zM686.35 954.35h13.3v8.3h-13.3zM30.35 973.35h103.7v8.3h-103.7zM153.35 973.35h16.3v8.3h-16.3zM189.35 973.35h16.3v8.3h-16.3zM207.35 973.35h15.3v8.3h-15.3zM224.35 973.35h16.8v8.3h-16.8zM260.35 973.35h16.3v8.3h-16.3zM278.35 973.35h15.3v8.3h-15.3zM313.35 973.35h16.3v8.3h-16.3zM331.35 973.35h15.3v8.3h-15.3zM349.1 973.35h15.55v8.3h-15.55zM384.35 973.35h16.3v8.3h-16.3zM402.35 973.35h16.3v8.3h-16.3zM437.35 973.35h15.55v8.3h-15.55zM455.35 973.35h16.3v8.3h-16.3zM490.35 973.35h16.3v8.3h-16.3zM526.35 973.35h16.3v8.3h-16.3zM561.35 973.35h16.3v8.3h-16.3zM597.35 973.35h15.6v8.3h-15.6zM615.45 973.35h15.2v8.3h-15.2zM632.35 973.35h16.3v8.3h-16.3zM650.35 973.35h16.3v8.3h-16.3zM668.35 973.35h16.3v8.3h-16.3zM686.35 973.35h13.3v8.3h-13.3zM30.35 983.35h103.7v7.3h-103.7zM153.35 983.35h16.3v7.3h-16.3zM189.35 983.35h16.3v7.3h-16.3zM207.35 983.35h15.3v7.3h-15.3zM224.35 983.35h16.8v7.3h-16.8zM260.35 983.35h16.3v7.3h-16.3zM278.35 983.35h15.3v7.3h-15.3zM313.35 983.35h16.3v7.3h-16.3zM331.35 983.35h15.3v7.3h-15.3zM349.1 983.35h15.55v7.3h-15.55zM384.35 983.35h16.3v7.3h-16.3zM402.35 983.35h16.3v7.3h-16.3zM437.35 983.35h15.55v7.3h-15.55zM455.35 983.35h16.3v7.3h-16.3zM490.35 983.35h16.3v7.3h-16.3zM526.35 983.35h16.3v7.3h-16.3zM561.35 983.35h16.3v7.3h-16.3zM597.35 983.35h15.6v7.3h-15.6zM615.45 983.35h15.2v7.3h-15.2zM632.35 983.35h16.3v7.3h-16.3zM650.35 983.35h16.3v7.3h-16.3zM668.35 983.35h16.3v7.3h-16.3zM686.35 983.35h13.3v7.3h-13.3zM30.35 992.35h103.7v7.9h-103.7zM153.35 992.35h16.3v7.9h-16.3zM189.35 992.35h16.3v7.9h-16.3zM207.35 992.35h15.3v7.9h-15.3zM224.35 992.35h16.8v7.9h-16.8zM260.35 992.35h16.3v7.9h-16.3zM278.35 992.35h15.3v7.9h-15.3zM313.35 992.35h16.3v7.9h-16.3zM331.35 992.35h15.3v7.9h-15.3zM349.1 992.35h15.55v7.9h-15.55zM384.35 992.35h16.3v7.9h-16.3zM402.35 992.35h16.3v7.9h-16.3zM437.35 992.35h15.55v7.9h-15.55zM455.35 992.35h16.3v7.9h-16.3zM490.35 992.35h16.3v7.9h-16.3zM526.35 992.35h16.3v7.9h-16.3zM561.35 992.35h16.3v7.9h-16.3zM597.35 992.35h15.6v7.9h-15.6zM615.45 992.35h15.2v7.9h-15.2zM632.35 992.35h16.3v7.9h-16.3zM650.35 992.35h16.3v7.9h-16.3zM668.35 992.35h16.3v7.9h-16.3zM686.35 992.35h13.3v7.9h-13.3z"/>
<path fill="#000" d="M28.1 596h1.9v406h-1.9zM28.1 596h673.65v2h-673.65zM28.1 1000.6h673.65v1.4h-673.65zM30 606h670v1h-670zM30 616h670v1h-670zM30 626h264v1h-264zM313 626h300.3v1h-300.3zM632 626h68v1h-68zM30 634.9h670v1.4h-670zM30 644.7h670v1.25h-670zM30 654h670v1h-670zM30 664h670v1h-670zM30 674h670v1h-670zM30 683h670v1h-670zM30 693h670v1h-670zM30 702h670v1h-670zM30 712h670v1h-670zM30 722h670v1h-670zM30 732h670v1h-670zM30 740.7h670v1.25h-670zM30 750.4h670v1.4h-670zM30 760h670v1h-670zM30 770h670v1h-670zM30 780h670v1h-670zM30 789h670v1h-670zM30 799h670v1h-670zM30 809h670v1h-670zM30 818h670v1h-670zM30 828h670v1h-670zM30 838h670v1h-670zM30 847h670v1h-670zM30 857h670v1h-670zM30 866h670v1h-670zM30 876h670v1h-670zM30 885h670v1h-670zM30 895h670v1h-670zM30 905h670v1h-670zM30 914h670v1h-670zM30 924h670v1h-670zM30 933.9h670v1.2h-670zM30 943h670v1.05h-670zM30 953h670v1h-670zM30 963h670v1h-670zM30 972h670v1h-670zM30 982h670v1h-670zM30 991h670v1h-670zM134.4 598h1.6v38.3h-1.6zM134.4 644.7h1.6v98.05h-1.6zM134.4 750.4h1.6v185.5h-1.6zM134.4 943h1.6v59h-1.6zM152 617h1v17.9h-1zM152 644.7h1v97.25h-1zM152 750.4h1v184.7h-1zM152 943h1v59h-1zM170 607h1v27.9h-1zM170 644.7h1v97.25h-1zM170 750.4h1v184.7h-1zM170 943h1v59h-1zM188 617h1v17.9h-1zM188 644.7h1v97.25h-1zM188 750.4h1v184.7h-1zM188 943h1v59h-1zM206 607h1v27.9h-1zM206 644.7h1v97.25h-1zM206 750.4h1v184.7h-1zM206 943h1v59h-1zM223 607h1v27.9h-1zM223 644.7h1v97.25h-1zM223 750.4h1v184.7h-1zM223 943h1v59h-1zM241.5 598h1.75v38.3h-1.75zM241.5 644.7h1.75v98.05h-1.75zM241.5 750.4h1.75v185.5h-1.75zM241.5 943h1.75v59h-1.75zM259 617h1v17.9h-1zM259 644.7h1v97.25h-1zM259 750.4h1v184.7h-1zM259 943h1v59h-1zM277 607h1v27.9h-1zM277 644.7h1v97.25h-1zM277 750.4h1v184.7h-1zM277 943h1v59h-1zM294 607h1v27.9h-1zM294 644.7h1v97.25h-1zM294 750.4h1v184.7h-1zM294 943h1v59h-1zM312 607h1v27.9h-1zM312 644.7h1v97.25h-1zM312 750.4h1v184.7h-1zM312 943h1v59h-1zM330 607h1v27.9h-1zM330 644.7h1v97.25h-1zM330 750.4h1v184.7h-1zM330 943h1v59h-1zM347 598h1.75v38.3h-1.75zM347 644.7h1.75v98.05h-1.75zM347 750.4h1.75v185.5h-1.75zM347 943h1.75v59h-1.75zM365 607h1v27.9h-1zM365 644.7h1v97.25h-1zM365 750.4h1v184.7h-1zM365 943h1v59h-1zM383 617h1v17.9h-1zM383 644.7h1v97.25h-1zM383 750.4h1v184.7h-1zM383 943h1v59h-1zM401 607h1v27.9h-1zM401 644.7h1v97.25h-1zM401 750.4h1v184.7h-1zM401 943h1v59h-1zM419 607h1v27.9h-1zM419 644.7h1v97.25h-1zM419 750.4h1v184.7h-1zM419 943h1v59h-1zM436 617h1v17.9h-1zM436 644.7h1v97.25h-1zM436 750.4h1v184.7h-1zM436 943h1v59h-1zM453.25 598h1.75v38.3h-1.75zM453.25 644.7h1.75v98.05h-1.75zM453.25 750.4h1.75v185.5h-1.75zM453.25 943h1.75v59h-1.75zM472 617h1v17.9h-1zM472 644.7h1v97.25h-1zM472 750.4h1v184.7h-1zM472 943h1v59h-1zM489 607h1v27.9h-1zM489 644.7h1v97.25h-1zM489 750.4h1v184.7h-1zM489 943h1v59h-1zM507 607h1v27.9h-1zM507 644.7h1v97.25h-1zM507 750.4h1v184.7h-1zM507 943h1v59h-1zM525 617h1v17.9h-1zM525 644.7h1v97.25h-1zM525 750.4h1v184.7h-1zM525 943h1v59h-1zM543 607h1v27.9h-1zM543 644.7h1v97.25h-1zM543 750.4h1v184.7h-1zM543 943h1v59h-1zM560 617h1v17.9h-1zM560 644.7h1v97.25h-1zM560 750.4h1v184.7h-1zM560 943h1v59h-1zM578 607h1v27.9h-1zM578 644.7h1v97.25h-1zM578 750.4h1v184.7h-1zM578 943h1v59h-1zM596 607h1v27.9h-1zM596 644.7h1v97.25h-1zM596 750.4h1v184.7h-1zM596 943h1v59h-1zM613.3 598h1.8v38.3h-1.8zM613.3 644.7h1.8v98.05h-1.8zM613.3 750.4h1.8v185.5h-1.8zM613.3 943h1.8v59h-1.8zM631 617h1v17.9h-1zM631 644.7h1v97.25h-1zM631 750.4h1v184.7h-1zM631 943h1v59h-1zM649 607h1v27.9h-1zM649 644.7h1v97.25h-1zM649 750.4h1v184.7h-1zM649 943h1v59h-1zM667 607h1v27.9h-1zM667 644.7h1v97.25h-1zM667 750.4h1v184.7h-1zM667 943h1v59h-1zM685 607h1v27.9h-1zM685 644.7h1v97.25h-1zM685 750.4h1v184.7h-1zM685 943h1v59h-1zM700 596h1.75v406h-1.75zM152.3 645.4h1.7v10.1h-1.7z"/>
<g text-anchor="middle">
<text x="73.8" y="603.7" font-size="6.15" font-weight="bold" textLength="17.82" lengthAdjust="spacingAndGlyphs">DATES</text>
<text x="31" y="613.5" font-size="6.15" text-anchor="start" textLength="46.27" lengthAdjust="spacingAndGlyphs">Numéro semaine</text>
<text x="31" y="623.6" font-size="6.15" font-weight="bold" text-anchor="start" textLength="20.3" lengthAdjust="spacingAndGlyphs">Samedi</text>
<text x="31" y="633.3" font-size="6.15" font-weight="bold" text-anchor="start" textLength="27.66" lengthAdjust="spacingAndGlyphs">Dimanche</text>
<text x="188.75" y="603.8" font-size="6.15" font-weight="bold" textLength="22.63" lengthAdjust="spacingAndGlyphs">FEVRIER</text>
<text x="295.12" y="603.8" font-size="6.15" font-weight="bold" textLength="16.66" lengthAdjust="spacingAndGlyphs">MARS</text>
<text x="401" y="603.8" font-size="6.15" font-weight="bold" textLength="16.22" lengthAdjust="spacingAndGlyphs">AVRIL</text>
<text x="534.15" y="603.8" font-size="6.15" font-weight="bold" textLength="11.57" lengthAdjust="spacingAndGlyphs">MAI</text>
<text x="657.55" y="603.8" font-size="6.15" font-weight="bold" textLength="12.64" lengthAdjust="spacingAndGlyphs">JUIN</text>
<text x="153" y="613" font-size="6.15" textLength="6.71" lengthAdjust="spacingAndGlyphs" fill="#262626">05</text>
<text x="188.5" y="613" font-size="6.15" textLength="6.71" lengthAdjust="spacingAndGlyphs" fill="#262626">06</text>
<text x="215" y="613" font-size="6.15" textLength="6.71" lengthAdjust="spacingAndGlyphs" fill="#262626">07</text>
<text x="232.75" y="613" font-size="6.15" textLength="6.71" lengthAdjust="spacingAndGlyphs" fill="#262626">08</text>
<text x="260.12" y="613" font-size="6.15" textLength="6.71" lengthAdjust="spacingAndGlyphs" fill="#262626">10</text>
<text x="286" y="613" font-size="6.15" textLength="6.71" lengthAdjust="spacingAndGlyphs" fill="#262626">11</text>
<text x="321.5" y="613" font-size="6.15" textLength="6.71" lengthAdjust="spacingAndGlyphs" fill="#262626">12</text>
<text x="339" y="613" font-size="6.15" textLength="6.71" lengthAdjust="spacingAndGlyphs" fill="#262626">13</text>
<text x="356.88" y="613" font-size="6.15" textLength="6.71" lengthAdjust="spacingAndGlyphs" fill="#262626">14</text>
<text x="383.5" y="613" font-size="6.15" textLength="6.71" lengthAdjust="spacingAndGlyphs" fill="#262626">15</text>
<text x="410.5" y="613" font-size="6.15" textLength="6.71" lengthAdjust="spacingAndGlyphs" fill="#262626">16</text>
<text x="436.62" y="613" font-size="6.15" textLength="6.71" lengthAdjust="spacingAndGlyphs" fill="#262626">17</text>
<text x="472" y="613" font-size="6.15" textLength="6.71" lengthAdjust="spacingAndGlyphs" fill="#262626">18</text>
<text x="498.5" y="613" font-size="6.15" textLength="6.71" lengthAdjust="spacingAndGlyphs" fill="#262626">19</text>
<text x="525.5" y="613" font-size="6.15" textLength="6.71" lengthAdjust="spacingAndGlyphs" fill="#262626">20</text>
<text x="561" y="613" font-size="6.15" textLength="6.71" lengthAdjust="spacingAndGlyphs" fill="#262626">21</text>
<text x="605.15" y="613" font-size="6.15" textLength="6.71" lengthAdjust="spacingAndGlyphs" fill="#262626">22</text>
<text x="640.5" y="613" font-size="6.15" textLength="6.71" lengthAdjust="spacingAndGlyphs" fill="#262626">23</text>
<text x="658.5" y="613" font-size="6.15" textLength="6.71" lengthAdjust="spacingAndGlyphs" fill="#262626">24</text>
<text x="676.5" y="613" font-size="6.15" textLength="6.71" lengthAdjust="spacingAndGlyphs" fill="#262626">25</text>
<text x="693" y="613" font-size="6.15" textLength="6.71" lengthAdjust="spacingAndGlyphs" fill="#262626">26</text>
<text x="144" y="623.1" font-size="5.7" font-weight="bold" textLength="12.68" lengthAdjust="spacingAndGlyphs">M 01</text>
<text x="144" y="633" font-size="5.7" font-weight="bold" textLength="12.68" lengthAdjust="spacingAndGlyphs">M 02</text>
<text x="161.5" y="623.1" font-size="5.7" font-weight="bold" textLength="10.28" lengthAdjust="spacingAndGlyphs">S 05</text>
<text x="161.5" y="633" font-size="5.7" font-weight="bold" textLength="11.22" lengthAdjust="spacingAndGlyphs">D 06</text>
<text x="179.5" y="623.1" font-size="5.7" font-weight="bold" textLength="12.68" lengthAdjust="spacingAndGlyphs">M 08</text>
<text x="179.5" y="633" font-size="5.7" font-weight="bold" textLength="12.68" lengthAdjust="spacingAndGlyphs">M 09</text>
<text x="197.5" y="623.1" font-size="5.7" font-weight="bold" textLength="10.28" lengthAdjust="spacingAndGlyphs">S 12</text>
<text x="197.5" y="633" font-size="5.7" font-weight="bold" textLength="11.22" lengthAdjust="spacingAndGlyphs">D 13</text>
<text x="215" y="623.1" font-size="5.7" font-weight="bold" textLength="10.28" lengthAdjust="spacingAndGlyphs">S 19</text>
<text x="215" y="633" font-size="5.7" font-weight="bold" textLength="11.22" lengthAdjust="spacingAndGlyphs">D 20</text>
<text x="232.75" y="623.1" font-size="5.7" font-weight="bold" textLength="10.28" lengthAdjust="spacingAndGlyphs">S 26</text>
<text x="232.75" y="633" font-size="5.7" font-weight="bold" textLength="11.22" lengthAdjust="spacingAndGlyphs">D 27</text>
<text x="251.12" y="623.1" font-size="5.7" font-weight="bold" textLength="12.68" lengthAdjust="spacingAndGlyphs">M 01</text>
<text x="251.12" y="633" font-size="5.7" font-weight="bold" textLength="12.68" lengthAdjust="spacingAndGlyphs">M 02</text>
<text x="268.5" y="623.1" font-size="5.7" font-weight="bold" textLength="10.28" lengthAdjust="spacingAndGlyphs">S 05</text>
<text x="268.5" y="633" font-size="5.7" font-weight="bold" textLength="11.22" lengthAdjust="spacingAndGlyphs">D 06</text>
<text x="286" y="623.1" font-size="5.7" font-weight="bold" textLength="10.28" lengthAdjust="spacingAndGlyphs">S 12</text>
<text x="286" y="633" font-size="5.7" font-weight="bold" textLength="11.22" lengthAdjust="spacingAndGlyphs">D 13</text>
<text x="303.5" y="628.1" font-size="5.7" font-weight="bold" textLength="12.68" lengthAdjust="spacingAndGlyphs">M 15</text>
<text x="321.5" y="623.1" font-size="5.7" font-weight="bold" textLength="10.28" lengthAdjust="spacingAndGlyphs">S 19</text>
<text x="321.5" y="633" font-size="5.7" font-weight="bold" textLength="11.22" lengthAdjust="spacingAndGlyphs">D 20</text>
<text x="339" y="623.1" font-size="5.7" font-weight="bold" textLength="10.28" lengthAdjust="spacingAndGlyphs">S 26</text>
<text x="339" y="633" font-size="5.7" font-weight="bold" textLength="11.22" lengthAdjust="spacingAndGlyphs">D 27</text>
<text x="356.88" y="623.1" font-size="5.7" font-weight="bold" textLength="10.28" lengthAdjust="spacingAndGlyphs">S 02</text>
<text x="356.88" y="633" font-size="5.7" font-weight="bold" textLength="11.22" lengthAdjust="spacingAndGlyphs">D 03</text>
<text x="374.5" y="623.1" font-size="5.7" font-weight="bold" textLength="12.68" lengthAdjust="spacingAndGlyphs">M 05</text>
<text x="374.5" y="633" font-size="5.7" font-weight="bold" textLength="12.68" lengthAdjust="spacingAndGlyphs">M 06</text>
<text x="392.5" y="623.1" font-size="5.7" font-weight="bold" textLength="10.28" lengthAdjust="spacingAndGlyphs">S 09</text>
<text x="392.5" y="633" font-size="5.7" font-weight="bold" textLength="11.22" lengthAdjust="spacingAndGlyphs">D 10</text>
<text x="410.5" y="623.1" font-size="5.7" font-weight="bold" textLength="10.28" lengthAdjust="spacingAndGlyphs">S 16</text>
<text x="410.5" y="633" font-size="5.7" font-weight="bold" textLength="11.22" lengthAdjust="spacingAndGlyphs" fill="#ff0000">D 17</text>
<text x="428" y="623.1" font-size="5.7" font-weight="bold" textLength="12.68" lengthAdjust="spacingAndGlyphs">M 19</text>
<text x="428" y="633" font-size="5.7" font-weight="bold" textLength="12.68" lengthAdjust="spacingAndGlyphs">M 20</text>
<text x="445.12" y="623.1" font-size="5.7" font-weight="bold" textLength="10.28" lengthAdjust="spacingAndGlyphs">S 23</text>
<text x="445.12" y="633" font-size="5.7" font-weight="bold" textLength="11.22" lengthAdjust="spacingAndGlyphs">D 24</text>
<text x="463.5" y="623.1" font-size="5.7" font-weight="bold" textLength="10.28" lengthAdjust="spacingAndGlyphs">S 30</text>
<text x="463.5" y="633" font-size="5.7" font-weight="bold" textLength="11.22" lengthAdjust="spacingAndGlyphs" fill="#ff0000">D 01</text>
<text x="481" y="623.1" font-size="5.7" font-weight="bold" textLength="12.68" lengthAdjust="spacingAndGlyphs">M 03</text>
<text x="481" y="633" font-size="5.7" font-weight="bold" textLength="12.68" lengthAdjust="spacingAndGlyphs">M 04</text>
<text x="498.5" y="623.1" font-size="5.7" font-weight="bold" textLength="10.28" lengthAdjust="spacingAndGlyphs">S 07</text>
<text x="498.5" y="633" font-size="5.7" font-weight="bold" textLength="11.22" lengthAdjust="spacingAndGlyphs" fill="#ff0000">D 08</text>
<text x="516.5" y="623.1" font-size="5.7" font-weight="bold" textLength="12.68" lengthAdjust="spacingAndGlyphs">M 10</text>
<text x="516.5" y="633" font-size="5.7" font-weight="bold" textLength="12.68" lengthAdjust="spacingAndGlyphs">M 11</text>
<text x="534.5" y="623.1" font-size="5.7" font-weight="bold" textLength="10.28" lengthAdjust="spacingAndGlyphs">S 14</text>
<text x="534.5" y="633" font-size="5.7" font-weight="bold" textLength="11.22" lengthAdjust="spacingAndGlyphs">D 15</text>
<text x="552" y="623.1" font-size="5.7" font-weight="bold" textLength="12.68" lengthAdjust="spacingAndGlyphs">M 17</text>
<text x="552" y="633" font-size="5.7" font-weight="bold" textLength="12.68" lengthAdjust="spacingAndGlyphs">M 18</text>
<text x="569.5" y="623.1" font-size="5.7" font-weight="bold" textLength="10.28" lengthAdjust="spacingAndGlyphs">S 21</text>
<text x="569.5" y="633" font-size="5.7" font-weight="bold" textLength="11.22" lengthAdjust="spacingAndGlyphs">D 22</text>
<text x="587.5" y="623.1" font-size="5.7" font-weight="bold" textLength="12.68" lengthAdjust="spacingAndGlyphs">M 24</text>
<text x="587.5" y="633" font-size="5.7" font-weight="bold" fill="#ff0000"><tspan textLength="1.69" lengthAdjust="spacingAndGlyphs">J</tspan> <tspan dx=".3" textLength="6.08" lengthAdjust="spacingAndGlyphs">26</tspan></text>
<text x="605.15" y="623.1" font-size="5.7" font-weight="bold" textLength="10.28" lengthAdjust="spacingAndGlyphs">S 28</text>
<text x="605.15" y="633" font-size="5.7" font-weight="bold" textLength="11.22" lengthAdjust="spacingAndGlyphs">D 29</text>
<text x="623.05" y="628.1" font-size="5.7" font-weight="bold" textLength="12.68" lengthAdjust="spacingAndGlyphs">M 01</text>
<text x="640.5" y="623.1" font-size="5.7" font-weight="bold" textLength="10.28" lengthAdjust="spacingAndGlyphs">S 04</text>
<text x="640.5" y="633" font-size="5.7" font-weight="bold" textLength="11.22" lengthAdjust="spacingAndGlyphs" fill="#ff0000">D 05</text>
<text x="658.5" y="623.1" font-size="5.7" font-weight="bold" textLength="10.28" lengthAdjust="spacingAndGlyphs">S 11</text>
<text x="658.5" y="633" font-size="5.7" font-weight="bold" textLength="11.22" lengthAdjust="spacingAndGlyphs">D 12</text>
<text x="676.5" y="623.1" font-size="5.7" font-weight="bold" textLength="10.28" lengthAdjust="spacingAndGlyphs">S 18</text>
<text x="676.5" y="633" font-size="5.7" font-weight="bold" textLength="11.22" lengthAdjust="spacingAndGlyphs">D 19</text>
<text x="693" y="623.1" font-size="5.7" font-weight="bold" textLength="10.28" lengthAdjust="spacingAndGlyphs">S 25</text>
<text x="693" y="633" font-size="5.7" font-weight="bold" textLength="11.22" lengthAdjust="spacingAndGlyphs">D 26</text>
<text x="427" y="643.2" font-size="7.7" font-weight="bold" textLength="28.79" lengthAdjust="spacingAndGlyphs">SENIORS</text>
<text x="427" y="748.93" font-size="7.7" font-weight="bold" textLength="66.2" lengthAdjust="spacingAndGlyphs">JEUNES MASCULINS</text>
<text x="427" y="942.1" font-size="7.7" font-weight="bold" textLength="83.39" lengthAdjust="spacingAndGlyphs">FOOTBALL D'ENTREPRISE</text>
<text x="31" y="652.18" font-size="6.15" font-weight="bold" text-anchor="start" textLength="19.3" lengthAdjust="spacingAndGlyphs">Ligue 1</text>
<text x="126.6" y="652.33" font-size="6.15" textLength="6.71" lengthAdjust="spacingAndGlyphs">20</text>
<text x="161.5" y="652.18" font-size="5.7" font-weight="bold"><tspan textLength="1.69" lengthAdjust="spacingAndGlyphs">J</tspan> <tspan dx=".3" textLength="6.08" lengthAdjust="spacingAndGlyphs">23</tspan></text>
<text x="179.5" y="652.18" font-size="5.7" font-weight="bold" textLength="3.17" lengthAdjust="spacingAndGlyphs">C</text>
<text x="197.5" y="652.18" font-size="5.7" font-weight="bold"><tspan textLength="1.69" lengthAdjust="spacingAndGlyphs">J</tspan> <tspan dx=".3" textLength="6.08" lengthAdjust="spacingAndGlyphs">24</tspan></text>
<text x="215" y="652.18" font-size="5.7" font-weight="bold"><tspan textLength="1.69" lengthAdjust="spacingAndGlyphs">J</tspan> <tspan dx=".3" textLength="6.08" lengthAdjust="spacingAndGlyphs">25</tspan></text>
<text x="232.75" y="652.18" font-size="5.7" font-weight="bold"><tspan textLength="1.69" lengthAdjust="spacingAndGlyphs">J</tspan> <tspan dx=".3" textLength="6.08" lengthAdjust="spacingAndGlyphs">26</tspan></text>
<text x="251.12" y="652.18" font-size="5.7" font-weight="bold" textLength="3.17" lengthAdjust="spacingAndGlyphs">C</text>
<text x="268.5" y="652.18" font-size="5.7" font-weight="bold"><tspan textLength="1.69" lengthAdjust="spacingAndGlyphs">J</tspan> <tspan dx=".3" textLength="6.08" lengthAdjust="spacingAndGlyphs">27</tspan></text>
<text x="286" y="652.18" font-size="5.7" font-weight="bold"><tspan textLength="1.69" lengthAdjust="spacingAndGlyphs">J</tspan> <tspan dx=".3" textLength="6.08" lengthAdjust="spacingAndGlyphs">28</tspan></text>
<text x="321.5" y="652.18" font-size="5.7" font-weight="bold"><tspan textLength="1.69" lengthAdjust="spacingAndGlyphs">J</tspan> <tspan dx=".3" textLength="6.08" lengthAdjust="spacingAndGlyphs">29</tspan></text>
<text x="356.88" y="652.18" font-size="5.7" font-weight="bold"><tspan textLength="1.69" lengthAdjust="spacingAndGlyphs">J</tspan> <tspan dx=".3" textLength="6.08" lengthAdjust="spacingAndGlyphs">30</tspan></text>
<text x="392.5" y="652.18" font-size="5.7" font-weight="bold"><tspan textLength="1.69" lengthAdjust="spacingAndGlyphs">J</tspan> <tspan dx=".3" textLength="6.08" lengthAdjust="spacingAndGlyphs">31</tspan></text>
<text x="410.5" y="652.18" font-size="5.7" font-weight="bold"><tspan textLength="1.69" lengthAdjust="spacingAndGlyphs">J</tspan> <tspan dx=".3" textLength="6.08" lengthAdjust="spacingAndGlyphs">32</tspan></text>
<text x="428" y="652.18" font-size="5.7" font-weight="bold"><tspan textLength="1.69" lengthAdjust="spacingAndGlyphs">J</tspan> <tspan dx=".3" textLength="6.08" lengthAdjust="spacingAndGlyphs">33</tspan></text>
<text x="445.12" y="652.18" font-size="5.7" font-weight="bold"><tspan textLength="1.69" lengthAdjust="spacingAndGlyphs">J</tspan> <tspan dx=".3" textLength="6.08" lengthAdjust="spacingAndGlyphs">34</tspan></text>
<text x="463.5" y="652.18" font-size="5.7" font-weight="bold"><tspan textLength="1.69" lengthAdjust="spacingAndGlyphs">J</tspan> <tspan dx=".3" textLength="6.08" lengthAdjust="spacingAndGlyphs">35</tspan></text>
<text x="498.5" y="652.18" font-size="5.7" font-weight="bold"><tspan textLength="1.69" lengthAdjust="spacingAndGlyphs">J</tspan> <tspan dx=".3" textLength="6.08" lengthAdjust="spacingAndGlyphs">36</tspan></text>
<text x="534.5" y="652.18" font-size="5.7" font-weight="bold"><tspan textLength="1.69" lengthAdjust="spacingAndGlyphs">J</tspan> <tspan dx=".3" textLength="6.08" lengthAdjust="spacingAndGlyphs">37</tspan></text>
<text x="569.5" y="652.18" font-size="5.7" font-weight="bold"><tspan textLength="1.69" lengthAdjust="spacingAndGlyphs">J</tspan> <tspan dx=".3" textLength="6.08" lengthAdjust="spacingAndGlyphs">38</tspan></text>
<text x="31" y="661.35" font-size="6.15" font-weight="bold" text-anchor="start" textLength="19.3" lengthAdjust="spacingAndGlyphs">Ligue 2</text>
<text x="126.6" y="661.5" font-size="6.15" textLength="6.71" lengthAdjust="spacingAndGlyphs">20</text>
<text x="161.5" y="661.35" font-size="5.7" font-weight="bold"><tspan textLength="1.69" lengthAdjust="spacingAndGlyphs">J</tspan> <tspan dx=".3" textLength="6.08" lengthAdjust="spacingAndGlyphs">23</tspan></text>
<text x="179.5" y="661.35" font-size="5.7" font-weight="bold" textLength="3.17" lengthAdjust="spacingAndGlyphs">C</text>
<text x="197.5" y="661.35" font-size="5.7" font-weight="bold"><tspan textLength="1.69" lengthAdjust="spacingAndGlyphs">J</tspan> <tspan dx=".3" textLength="6.08" lengthAdjust="spacingAndGlyphs">24</tspan></text>
<text x="215" y="661.35" font-size="5.7" font-weight="bold"><tspan textLength="1.69" lengthAdjust="spacingAndGlyphs">J</tspan> <tspan dx=".3" textLength="6.08" lengthAdjust="spacingAndGlyphs">25</tspan></text>
<text x="232.75" y="661.35" font-size="5.7" font-weight="bold"><tspan textLength="1.69" lengthAdjust="spacingAndGlyphs">J</tspan> <tspan dx=".3" textLength="6.08" lengthAdjust="spacingAndGlyphs">26</tspan></text>
<text x="251.12" y="661.35" font-size="5.7" font-weight="bold" textLength="3.17" lengthAdjust="spacingAndGlyphs">C</text>
<text x="268.5" y="661.35" font-size="5.7" font-weight="bold"><tspan textLength="1.69" lengthAdjust="spacingAndGlyphs">J</tspan> <tspan dx=".3" textLength="6.08" lengthAdjust="spacingAndGlyphs">27</tspan></text>
<text x="286" y="661.35" font-size="5.7" font-weight="bold"><tspan textLength="1.69" lengthAdjust="spacingAndGlyphs">J</tspan> <tspan dx=".3" textLength="6.08" lengthAdjust="spacingAndGlyphs">28</tspan></text>
<text x="303.5" y="661.35" font-size="5.7" font-weight="bold"><tspan textLength="1.69" lengthAdjust="spacingAndGlyphs">J</tspan> <tspan dx=".3" textLength="6.08" lengthAdjust="spacingAndGlyphs">29</tspan></text>
<text x="321.5" y="661.35" font-size="5.7" font-weight="bold"><tspan textLength="1.69" lengthAdjust="spacingAndGlyphs">J</tspan> <tspan dx=".3" textLength="6.08" lengthAdjust="spacingAndGlyphs">30</tspan></text>
<text x="356.88" y="661.35" font-size="5.7" font-weight="bold"><tspan textLength="1.69" lengthAdjust="spacingAndGlyphs">J</tspan> <tspan dx=".3" textLength="6.08" lengthAdjust="spacingAndGlyphs">31</tspan></text>
<text x="392.5" y="661.35" font-size="5.7" font-weight="bold"><tspan textLength="1.69" lengthAdjust="spacingAndGlyphs">J</tspan> <tspan dx=".3" textLength="6.08" lengthAdjust="spacingAndGlyphs">32</tspan></text>
<text x="410.5" y="661.35" font-size="5.7" font-weight="bold"><tspan textLength="1.69" lengthAdjust="spacingAndGlyphs">J</tspan> <tspan dx=".3" textLength="6.08" lengthAdjust="spacingAndGlyphs">33</tspan></text>
<text x="428" y="661.35" font-size="5.7" font-weight="bold"><tspan textLength="1.69" lengthAdjust="spacingAndGlyphs">J</tspan> <tspan dx=".3" textLength="6.08" lengthAdjust="spacingAndGlyphs">34</tspan></text>
<text x="445.12" y="661.35" font-size="5.7" font-weight="bold"><tspan textLength="1.69" lengthAdjust="spacingAndGlyphs">J</tspan> <tspan dx=".3" textLength="6.08" lengthAdjust="spacingAndGlyphs">35</tspan></text>
<text x="463.5" y="661.35" font-size="5.7" font-weight="bold"><tspan textLength="1.69" lengthAdjust="spacingAndGlyphs">J</tspan> <tspan dx=".3" textLength="6.08" lengthAdjust="spacingAndGlyphs">36</tspan></text>
<text x="498.5" y="661.35" font-size="5.7" font-weight="bold"><tspan textLength="1.69" lengthAdjust="spacingAndGlyphs">J</tspan> <tspan dx=".3" textLength="6.08" lengthAdjust="spacingAndGlyphs">37</tspan></text>
<text x="534.5" y="661.35" font-size="5.7" font-weight="bold"><tspan textLength="1.69" lengthAdjust="spacingAndGlyphs">J</tspan> <tspan dx=".3" textLength="6.08" lengthAdjust="spacingAndGlyphs">38</tspan></text>
<text x="587.5" y="661.35" font-size="5.7" font-weight="bold" textLength="10.38" lengthAdjust="spacingAndGlyphs">BAR</text>
<text x="605.15" y="661.35" font-size="5.7" font-weight="bold" textLength="10.38" lengthAdjust="spacingAndGlyphs">BAR</text>
<text x="31" y="671.35" font-size="6.15" font-weight="bold" text-anchor="start" textLength="28.43" lengthAdjust="spacingAndGlyphs">National 1</text>
<text x="126.6" y="671.5" font-size="6.15" textLength="6.71" lengthAdjust="spacingAndGlyphs">18</text>
<text x="161.5" y="671.35" font-size="5.7" font-weight="bold"><tspan textLength="1.69" lengthAdjust="spacingAndGlyphs">J</tspan> <tspan dx=".3" textLength="6.08" lengthAdjust="spacingAndGlyphs">20</tspan></text>
<text x="197.5" y="671.35" font-size="5.7" font-weight="bold"><tspan textLength="1.69" lengthAdjust="spacingAndGlyphs">J</tspan> <tspan dx=".3" textLength="6.08" lengthAdjust="spacingAndGlyphs">21</tspan></text>
<text x="215" y="671.35" font-size="5.7" font-weight="bold"><tspan textLength="1.69" lengthAdjust="spacingAndGlyphs">J</tspan> <tspan dx=".3" textLength="6.08" lengthAdjust="spacingAndGlyphs">22</tspan></text>
<text x="232.75" y="671.35" font-size="5.7" font-weight="bold"><tspan textLength="1.69" lengthAdjust="spacingAndGlyphs">J</tspan> <tspan dx=".3" textLength="6.08" lengthAdjust="spacingAndGlyphs">23</tspan></text>
<text x="268.5" y="671.35" font-size="5.7" font-weight="bold"><tspan textLength="1.69" lengthAdjust="spacingAndGlyphs">J</tspan> <tspan dx=".3" textLength="6.08" lengthAdjust="spacingAndGlyphs">24</tspan></text>
<text x="286" y="671.35" font-size="5.7" font-weight="bold"><tspan textLength="1.69" lengthAdjust="spacingAndGlyphs">J</tspan> <tspan dx=".3" textLength="6.08" lengthAdjust="spacingAndGlyphs">25</tspan></text>
<text x="321.5" y="671.35" font-size="5.7" font-weight="bold"><tspan textLength="1.69" lengthAdjust="spacingAndGlyphs">J</tspan> <tspan dx=".3" textLength="6.08" lengthAdjust="spacingAndGlyphs">26</tspan></text>
<text x="339" y="671.35" font-size="5.7" font-weight="bold"><tspan textLength="1.69" lengthAdjust="spacingAndGlyphs">J</tspan> <tspan dx=".3" textLength="6.08" lengthAdjust="spacingAndGlyphs">27</tspan></text>
<text x="356.88" y="671.35" font-size="5.7" font-weight="bold"><tspan textLength="1.69" lengthAdjust="spacingAndGlyphs">J</tspan> <tspan dx=".3" textLength="6.08" lengthAdjust="spacingAndGlyphs">28</tspan></text>
<text x="392.5" y="671.35" font-size="5.7" font-weight="bold"><tspan textLength="1.69" lengthAdjust="spacingAndGlyphs">J</tspan> <tspan dx=".3" textLength="6.08" lengthAdjust="spacingAndGlyphs">29</tspan></text>
<text x="410.5" y="671.35" font-size="5.7" font-weight="bold"><tspan textLength="1.69" lengthAdjust="spacingAndGlyphs">J</tspan> <tspan dx=".3" textLength="6.08" lengthAdjust="spacingAndGlyphs">30</tspan></text>
<text x="445.12" y="671.35" font-size="5.7" font-weight="bold"><tspan textLength="1.69" lengthAdjust="spacingAndGlyphs">J</tspan> <tspan dx=".3" textLength="6.08" lengthAdjust="spacingAndGlyphs">31</tspan></text>
<text x="463.5" y="671.35" font-size="5.7" font-weight="bold"><tspan textLength="1.69" lengthAdjust="spacingAndGlyphs">J</tspan> <tspan dx=".3" textLength="6.08" lengthAdjust="spacingAndGlyphs">32</tspan></text>
<text x="498.5" y="671.35" font-size="5.7" font-weight="bold"><tspan textLength="1.69" lengthAdjust="spacingAndGlyphs">J</tspan> <tspan dx=".3" textLength="6.08" lengthAdjust="spacingAndGlyphs">33</tspan></text>
<text x="534.5" y="671.35" font-size="5.7" font-weight="bold"><tspan textLength="1.69" lengthAdjust="spacingAndGlyphs">J</tspan> <tspan dx=".3" textLength="6.08" lengthAdjust="spacingAndGlyphs">34</tspan></text>
<text x="587.5" y="671.35" font-size="5.7" font-weight="bold" textLength="10.38" lengthAdjust="spacingAndGlyphs">BAR</text>
<text x="605.15" y="671.35" font-size="5.7" font-weight="bold" textLength="10.38" lengthAdjust="spacingAndGlyphs">BAR</text>
<text x="31" y="681.35" font-size="6.15" font-weight="bold" text-anchor="start" textLength="28.43" lengthAdjust="spacingAndGlyphs">National 2</text>
<text x="126.6" y="681.5" font-size="6.15" textLength="6.71" lengthAdjust="spacingAndGlyphs">16</text>
<text x="161.5" y="681.35" font-size="5.7" font-weight="bold"><tspan textLength="1.69" lengthAdjust="spacingAndGlyphs">J</tspan> <tspan dx=".3" textLength="6.08" lengthAdjust="spacingAndGlyphs">17</tspan></text>
<text x="197.5" y="681.35" font-size="5.7" font-weight="bold"><tspan textLength="1.69" lengthAdjust="spacingAndGlyphs">J</tspan> <tspan dx=".3" textLength="6.08" lengthAdjust="spacingAndGlyphs">18</tspan></text>
<text x="215" y="681.35" font-size="5.7" font-weight="bold"><tspan textLength="1.69" lengthAdjust="spacingAndGlyphs">J</tspan> <tspan dx=".3" textLength="6.08" lengthAdjust="spacingAndGlyphs">19</tspan></text>
<text x="232.75" y="681.35" font-size="5.7" font-weight="bold" textLength="8.62" lengthAdjust="spacingAndGlyphs">MR</text>
<text x="268.5" y="681.35" font-size="5.7" font-weight="bold"><tspan textLength="1.69" lengthAdjust="spacingAndGlyphs">J</tspan> <tspan dx=".3" textLength="6.08" lengthAdjust="spacingAndGlyphs">20</tspan></text>
<text x="286" y="681.35" font-size="5.7" font-weight="bold"><tspan textLength="1.69" lengthAdjust="spacingAndGlyphs">J</tspan> <tspan dx=".3" textLength="6.08" lengthAdjust="spacingAndGlyphs">21</tspan></text>
<text x="321.5" y="681.35" font-size="5.7" font-weight="bold"><tspan textLength="1.69" lengthAdjust="spacingAndGlyphs">J</tspan> <tspan dx=".3" textLength="6.08" lengthAdjust="spacingAndGlyphs">22</tspan></text>
<text x="339" y="681.35" font-size="5.7" font-weight="bold"><tspan textLength="1.69" lengthAdjust="spacingAndGlyphs">J</tspan> <tspan dx=".3" textLength="6.08" lengthAdjust="spacingAndGlyphs">23</tspan></text>
<text x="356.88" y="681.35" font-size="5.7" font-weight="bold" textLength="8.62" lengthAdjust="spacingAndGlyphs">MR</text>
<text x="392.5" y="681.35" font-size="5.7" font-weight="bold"><tspan textLength="1.69" lengthAdjust="spacingAndGlyphs">J</tspan> <tspan dx=".3" textLength="6.08" lengthAdjust="spacingAndGlyphs">24</tspan></text>
<text x="410.5" y="681.35" font-size="5.7" font-weight="bold"><tspan textLength="1.69" lengthAdjust="spacingAndGlyphs">J</tspan> <tspan dx=".3" textLength="6.08" lengthAdjust="spacingAndGlyphs">25</tspan></text>
<text x="445.12" y="681.35" font-size="5.7" font-weight="bold"><tspan textLength="1.69" lengthAdjust="spacingAndGlyphs">J</tspan> <tspan dx=".3" textLength="6.08" lengthAdjust="spacingAndGlyphs">26</tspan></text>
<text x="463.5" y="681.35" font-size="5.7" font-weight="bold"><tspan textLength="1.69" lengthAdjust="spacingAndGlyphs">J</tspan> <tspan dx=".3" textLength="6.08" lengthAdjust="spacingAndGlyphs">27</tspan></text>
<text x="498.5" y="681.35" font-size="5.7" font-weight="bold" textLength="8.62" lengthAdjust="spacingAndGlyphs">MR</text>
<text x="534.5" y="681.35" font-size="5.7" font-weight="bold"><tspan textLength="1.69" lengthAdjust="spacingAndGlyphs">J</tspan> <tspan dx=".3" textLength="6.08" lengthAdjust="spacingAndGlyphs">28</tspan></text>
<text x="552" y="681.35" font-size="5.7" font-weight="bold" textLength="8.62" lengthAdjust="spacingAndGlyphs">MR</text>
<text x="569.5" y="681.35" font-size="5.7" font-weight="bold"><tspan textLength="1.69" lengthAdjust="spacingAndGlyphs">J</tspan> <tspan dx=".3" textLength="6.08" lengthAdjust="spacingAndGlyphs">29</tspan></text>
<text x="605.15" y="681.35" font-size="5.7" font-weight="bold"><tspan textLength="1.69" lengthAdjust="spacingAndGlyphs">J</tspan> <tspan dx=".3" textLength="6.08" lengthAdjust="spacingAndGlyphs">30</tspan></text>
<text x="31" y="690.35" font-size="6.15" font-weight="bold" text-anchor="start" textLength="28.43" lengthAdjust="spacingAndGlyphs">National 3</text>
<text x="126.6" y="690.5" font-size="6.15" textLength="6.71" lengthAdjust="spacingAndGlyphs">14</text>
<text x="161.5" y="690.35" font-size="5.7" font-weight="bold"><tspan textLength="1.69" lengthAdjust="spacingAndGlyphs">J</tspan> <tspan dx=".3" textLength="6.08" lengthAdjust="spacingAndGlyphs">13</tspan></text>
<text x="197.5" y="690.35" font-size="5.7" font-weight="bold"><tspan textLength="1.69" lengthAdjust="spacingAndGlyphs">J</tspan> <tspan dx=".3" textLength="6.08" lengthAdjust="spacingAndGlyphs">14</tspan></text>
<text x="215" y="690.35" font-size="5.7" font-weight="bold" textLength="8.62" lengthAdjust="spacingAndGlyphs">MR</text>
<text x="232.75" y="690.35" font-size="5.7" font-weight="bold"><tspan textLength="1.69" lengthAdjust="spacingAndGlyphs">J</tspan> <tspan dx=".3" textLength="6.08" lengthAdjust="spacingAndGlyphs">15</tspan></text>
<text x="268.5" y="690.35" font-size="5.7" font-weight="bold"><tspan textLength="1.69" lengthAdjust="spacingAndGlyphs">J</tspan> <tspan dx=".3" textLength="6.08" lengthAdjust="spacingAndGlyphs">16</tspan></text>
<text x="286" y="690.35" font-size="5.7" font-weight="bold" textLength="8.62" lengthAdjust="spacingAndGlyphs">MR</text>
<text x="321.5" y="690.35" font-size="5.7" font-weight="bold"><tspan textLength="1.69" lengthAdjust="spacingAndGlyphs">J</tspan> <tspan dx=".3" textLength="6.08" lengthAdjust="spacingAndGlyphs">17</tspan></text>
<text x="339" y="690.35" font-size="5.7" font-weight="bold"><tspan textLength="1.69" lengthAdjust="spacingAndGlyphs">J</tspan> <tspan dx=".3" textLength="6.08" lengthAdjust="spacingAndGlyphs">18</tspan></text>
<text x="356.88" y="690.35" font-size="5.7" font-weight="bold" textLength="8.62" lengthAdjust="spacingAndGlyphs">MR</text>
<text x="392.5" y="690.35" font-size="5.7" font-weight="bold"><tspan textLength="1.69" lengthAdjust="spacingAndGlyphs">J</tspan> <tspan dx=".3" textLength="6.08" lengthAdjust="spacingAndGlyphs">19</tspan></text>
<text x="410.5" y="690.35" font-size="5.7" font-weight="bold"><tspan textLength="1.69" lengthAdjust="spacingAndGlyphs">J</tspan> <tspan dx=".3" textLength="6.08" lengthAdjust="spacingAndGlyphs">20</tspan></text>
<text x="445.12" y="690.35" font-size="5.7" font-weight="bold"><tspan textLength="1.69" lengthAdjust="spacingAndGlyphs">J</tspan> <tspan dx=".3" textLength="6.08" lengthAdjust="spacingAndGlyphs">21</tspan></text>
<text x="463.5" y="690.35" font-size="5.7" font-weight="bold"><tspan textLength="1.69" lengthAdjust="spacingAndGlyphs">J</tspan> <tspan dx=".3" textLength="6.08" lengthAdjust="spacingAndGlyphs">22</tspan></text>
<text x="481" y="690.35" font-size="5.7" font-weight="bold" textLength="3.17" lengthAdjust="spacingAndGlyphs">C</text>
<text x="498.5" y="690.35" font-size="5.7" font-weight="bold" textLength="8.62" lengthAdjust="spacingAndGlyphs">MR</text>
<text x="534.5" y="690.35" font-size="5.7" font-weight="bold"><tspan textLength="1.69" lengthAdjust="spacingAndGlyphs">J</tspan> <tspan dx=".3" textLength="6.08" lengthAdjust="spacingAndGlyphs">23</tspan></text>
<text x="569.5" y="690.35" font-size="5.7" font-weight="bold"><tspan textLength="1.69" lengthAdjust="spacingAndGlyphs">J</tspan> <tspan dx=".3" textLength="6.08" lengthAdjust="spacingAndGlyphs">24</tspan></text>
<text x="587.5" y="690.35" font-size="5.7" font-weight="bold" textLength="8.62" lengthAdjust="spacingAndGlyphs">MR</text>
<text x="605.15" y="690.35" font-size="5.7" font-weight="bold"><tspan textLength="1.69" lengthAdjust="spacingAndGlyphs">J</tspan> <tspan dx=".3" textLength="6.08" lengthAdjust="spacingAndGlyphs">25</tspan></text>
<text x="623.05" y="690.35" font-size="5.7" font-weight="bold" textLength="3.17" lengthAdjust="spacingAndGlyphs">C</text>
<text x="640.5" y="690.35" font-size="5.7" font-weight="bold"><tspan textLength="1.69" lengthAdjust="spacingAndGlyphs">J</tspan> <tspan dx=".3" textLength="6.08" lengthAdjust="spacingAndGlyphs">26</tspan></text>
<text x="31" y="700.35" font-size="6.15" font-weight="bold" text-anchor="start" textLength="46.27" lengthAdjust="spacingAndGlyphs">Régional 1, 2 &amp; 3</text>
<text x="126.6" y="700.5" font-size="6.15" textLength="6.71" lengthAdjust="spacingAndGlyphs">14</text>
<text x="161.5" y="700.35" font-size="5.7" font-weight="bold"><tspan textLength="1.69" lengthAdjust="spacingAndGlyphs">J</tspan> <tspan dx=".3" textLength="6.08" lengthAdjust="spacingAndGlyphs">17</tspan></text>
<text x="197.5" y="700.35" font-size="5.7" font-weight="bold" textLength="8.62" lengthAdjust="spacingAndGlyphs">MR</text>
<text x="215" y="700.35" font-size="5.7" font-weight="bold" textLength="14.38" lengthAdjust="spacingAndGlyphs">C/MR</text>
<text x="232.75" y="700.35" font-size="5.7" font-weight="bold"><tspan textLength="1.69" lengthAdjust="spacingAndGlyphs">J</tspan> <tspan dx=".3" textLength="6.08" lengthAdjust="spacingAndGlyphs">18</tspan></text>
<text x="268.5" y="700.35" font-size="5.7" font-weight="bold"><tspan textLength="1.69" lengthAdjust="spacingAndGlyphs">J</tspan> <tspan dx=".3" textLength="6.08" lengthAdjust="spacingAndGlyphs">19</tspan></text>
<text x="286" y="700.35" font-size="5.7" font-weight="bold"><tspan textLength="1.69" lengthAdjust="spacingAndGlyphs">J</tspan> <tspan dx=".3" textLength="6.08" lengthAdjust="spacingAndGlyphs">20</tspan></text>
<text x="321.5" y="700.35" font-size="5.7" font-weight="bold"><tspan textLength="1.69" lengthAdjust="spacingAndGlyphs">J</tspan> <tspan dx=".3" textLength="6.08" lengthAdjust="spacingAndGlyphs">21</tspan></text>
<text x="339" y="700.35" font-size="5.7" font-weight="bold"><tspan textLength="1.69" lengthAdjust="spacingAndGlyphs">J</tspan> <tspan dx=".3" textLength="6.08" lengthAdjust="spacingAndGlyphs">22</tspan></text>
<text x="356.88" y="700.35" font-size="5.7" font-weight="bold" textLength="14.38" lengthAdjust="spacingAndGlyphs">C/MR</text>
<text x="392.5" y="700.35" font-size="5.7" font-weight="bold"><tspan textLength="1.69" lengthAdjust="spacingAndGlyphs">J</tspan> <tspan dx=".3" textLength="6.08" lengthAdjust="spacingAndGlyphs">23</tspan></text>
<text x="410.5" y="700.35" font-size="5.7" font-weight="bold" textLength="8.62" lengthAdjust="spacingAndGlyphs">MR</text>
<text x="445.12" y="700.35" font-size="5.7" font-weight="bold"><tspan textLength="1.69" lengthAdjust="spacingAndGlyphs">J</tspan> <tspan dx=".3" textLength="6.08" lengthAdjust="spacingAndGlyphs">24</tspan></text>
<text x="463.5" y="700.35" font-size="5.7" font-weight="bold" textLength="14.38" lengthAdjust="spacingAndGlyphs">C/MR</text>
<text x="498.5" y="700.35" font-size="5.7" font-weight="bold" textLength="14.38" lengthAdjust="spacingAndGlyphs">C/MR</text>
<text x="534.5" y="700.35" font-size="5.7" font-weight="bold"><tspan textLength="1.69" lengthAdjust="spacingAndGlyphs">J</tspan> <tspan dx=".3" textLength="6.08" lengthAdjust="spacingAndGlyphs">25</tspan></text>
<text x="569.5" y="700.35" font-size="5.7" font-weight="bold"><tspan textLength="1.69" lengthAdjust="spacingAndGlyphs">J</tspan> <tspan dx=".3" textLength="6.08" lengthAdjust="spacingAndGlyphs">26</tspan></text>
<text x="31" y="709.35" font-size="6.15" font-weight="bold" text-anchor="start" textLength="28.69" lengthAdjust="spacingAndGlyphs">Régional 3</text>
<text x="126.6" y="709.5" font-size="6.15" textLength="6.71" lengthAdjust="spacingAndGlyphs">12</text>
<text x="161.5" y="709.35" font-size="5.7" font-weight="bold"><tspan textLength="1.69" lengthAdjust="spacingAndGlyphs">J</tspan> <tspan dx=".3" textLength="6.08" lengthAdjust="spacingAndGlyphs">15</tspan></text>
<text x="197.5" y="709.35" font-size="5.7" font-weight="bold" textLength="8.62" lengthAdjust="spacingAndGlyphs">MR</text>
<text x="215" y="709.35" font-size="5.7" font-weight="bold" textLength="14.38" lengthAdjust="spacingAndGlyphs">C/MR</text>
<text x="232.75" y="709.35" font-size="5.7" font-weight="bold"><tspan textLength="1.69" lengthAdjust="spacingAndGlyphs">J</tspan> <tspan dx=".3" textLength="6.08" lengthAdjust="spacingAndGlyphs">16</tspan></text>
<text x="268.5" y="709.35" font-size="5.7" font-weight="bold"><tspan textLength="1.69" lengthAdjust="spacingAndGlyphs">J</tspan> <tspan dx=".3" textLength="6.08" lengthAdjust="spacingAndGlyphs">17</tspan></text>
<text x="286" y="709.35" font-size="5.7" font-weight="bold"><tspan textLength="1.69" lengthAdjust="spacingAndGlyphs">J</tspan> <tspan dx=".3" textLength="6.08" lengthAdjust="spacingAndGlyphs">18</tspan></text>
<text x="321.5" y="709.35" font-size="5.7" font-weight="bold"><tspan textLength="1.69" lengthAdjust="spacingAndGlyphs">J</tspan> <tspan dx=".3" textLength="6.08" lengthAdjust="spacingAndGlyphs">19</tspan></text>
<text x="339" y="709.35" font-size="5.7" font-weight="bold"><tspan textLength="1.69" lengthAdjust="spacingAndGlyphs">J</tspan> <tspan dx=".3" textLength="6.08" lengthAdjust="spacingAndGlyphs">20</tspan></text>
<text x="356.88" y="709.35" font-size="5.7" font-weight="bold" textLength="14.38" lengthAdjust="spacingAndGlyphs">C/MR</text>
<text x="392.5" y="709.35" font-size="5.7" font-weight="bold" textLength="8.62" lengthAdjust="spacingAndGlyphs">MR</text>
<text x="410.5" y="709.35" font-size="5.7" font-weight="bold" textLength="8.62" lengthAdjust="spacingAndGlyphs">MR</text>
<text x="445.12" y="709.35" font-size="5.7" font-weight="bold" textLength="8.62" lengthAdjust="spacingAndGlyphs">MR</text>
<text x="463.5" y="709.35" font-size="5.7" font-weight="bold" textLength="14.38" lengthAdjust="spacingAndGlyphs">C/MR</text>
<text x="498.5" y="709.35" font-size="5.7" font-weight="bold" textLength="14.38" lengthAdjust="spacingAndGlyphs">C/MR</text>
<text x="534.5" y="709.35" font-size="5.7" font-weight="bold"><tspan textLength="1.69" lengthAdjust="spacingAndGlyphs">J</tspan> <tspan dx=".3" textLength="6.08" lengthAdjust="spacingAndGlyphs">21</tspan></text>
<text x="569.5" y="709.35" font-size="5.7" font-weight="bold"><tspan textLength="1.69" lengthAdjust="spacingAndGlyphs">J</tspan> <tspan dx=".3" textLength="6.08" lengthAdjust="spacingAndGlyphs">22</tspan></text>
<text x="31" y="719.35" font-size="6.15" font-weight="bold" text-anchor="start" textLength="45.69" lengthAdjust="spacingAndGlyphs">Coupe de France</text>
<text x="179.5" y="719.35" font-size="5.7" font-weight="bold" textLength="8.66" lengthAdjust="spacingAndGlyphs">1/4</text>
<text x="251.12" y="719.35" font-size="5.7" font-weight="bold" textLength="8.66" lengthAdjust="spacingAndGlyphs">1/2</text>
<text x="498.5" y="719.35" font-size="5.7" font-weight="bold" textLength="8.31" lengthAdjust="spacingAndGlyphs">FIN</text>
<text x="31" y="729.35" font-size="6.15" font-weight="bold" text-anchor="start" textLength="58.38" lengthAdjust="spacingAndGlyphs">Coupe de Normandie</text>
<text x="215" y="729.35" font-size="5.7" font-weight="bold" textLength="7.37" lengthAdjust="spacingAndGlyphs">T 4</text>
<text x="356.88" y="729.35" font-size="5.7" font-weight="bold" textLength="7.37" lengthAdjust="spacingAndGlyphs">T 5</text>
<text x="463.5" y="729.35" font-size="5.7" font-weight="bold" textLength="11.71" lengthAdjust="spacingAndGlyphs">1/16</text>
<text x="481" y="729.35" font-size="5.7" font-weight="bold" textLength="8.62" lengthAdjust="spacingAndGlyphs">MR</text>
<text x="498.5" y="729.35" font-size="5.7" font-weight="bold" textLength="8.66" lengthAdjust="spacingAndGlyphs">1/8</text>
<text x="587.5" y="729.35" font-size="5.7" font-weight="bold" textLength="8.66" lengthAdjust="spacingAndGlyphs">1/4</text>
<text x="605.15" y="729.35" font-size="5.7" font-weight="bold" textLength="8.66" lengthAdjust="spacingAndGlyphs">1/2</text>
<text x="623.05" y="729.35" font-size="5.7" font-weight="bold" textLength="8.62" lengthAdjust="spacingAndGlyphs">MR</text>
<text x="676.5" y="729.35" font-size="5.7" font-weight="bold" textLength="8.31" lengthAdjust="spacingAndGlyphs">FIN</text>
<text x="31" y="739.35" font-size="6.15" font-weight="bold" text-anchor="start" textLength="54.5" lengthAdjust="spacingAndGlyphs">Coupe des Réserves</text>
<text x="31" y="757.95" font-size="6.15" font-weight="bold" text-anchor="start" textLength="36.11" lengthAdjust="spacingAndGlyphs">National U19</text>
<text x="126.6" y="758.1" font-size="6.15" textLength="6.71" lengthAdjust="spacingAndGlyphs">14</text>
<text x="161.5" y="757.95" font-size="5.7" font-weight="bold"><tspan textLength="1.69" lengthAdjust="spacingAndGlyphs">J</tspan> <tspan dx=".3" textLength="6.08" lengthAdjust="spacingAndGlyphs">17</tspan></text>
<text x="197.5" y="757.95" font-size="5.7" font-weight="bold"><tspan textLength="1.69" lengthAdjust="spacingAndGlyphs">J</tspan> <tspan dx=".3" textLength="6.08" lengthAdjust="spacingAndGlyphs">18</tspan></text>
<text x="215" y="757.95" font-size="5.7" font-weight="bold" textLength="14.38" lengthAdjust="spacingAndGlyphs">C/MR</text>
<text x="232.75" y="757.95" font-size="5.7" font-weight="bold" textLength="8.62" lengthAdjust="spacingAndGlyphs">MR</text>
<text x="268.5" y="757.95" font-size="5.7" font-weight="bold"><tspan textLength="1.69" lengthAdjust="spacingAndGlyphs">J</tspan> <tspan dx=".3" textLength="6.08" lengthAdjust="spacingAndGlyphs">19</tspan></text>
<text x="286" y="757.95" font-size="5.7" font-weight="bold" textLength="14.38" lengthAdjust="spacingAndGlyphs">C/MR</text>
<text x="321.5" y="757.95" font-size="5.7" font-weight="bold"><tspan textLength="1.69" lengthAdjust="spacingAndGlyphs">J</tspan> <tspan dx=".3" textLength="6.08" lengthAdjust="spacingAndGlyphs">20</tspan></text>
<text x="339" y="757.95" font-size="5.7" font-weight="bold"><tspan textLength="1.69" lengthAdjust="spacingAndGlyphs">J</tspan> <tspan dx=".3" textLength="6.08" lengthAdjust="spacingAndGlyphs">21</tspan></text>
<text x="356.88" y="757.95" font-size="5.7" font-weight="bold"><tspan textLength="1.69" lengthAdjust="spacingAndGlyphs">J</tspan> <tspan dx=".3" textLength="6.08" lengthAdjust="spacingAndGlyphs">22</tspan></text>
<text x="392.5" y="757.95" font-size="5.7" font-weight="bold"><tspan textLength="1.69" lengthAdjust="spacingAndGlyphs">J</tspan> <tspan dx=".3" textLength="6.08" lengthAdjust="spacingAndGlyphs">23</tspan></text>
<text x="410.5" y="757.95" font-size="5.7" font-weight="bold"><tspan textLength="1.69" lengthAdjust="spacingAndGlyphs">J</tspan> <tspan dx=".3" textLength="6.08" lengthAdjust="spacingAndGlyphs">24</tspan></text>
<text x="445.12" y="757.95" font-size="5.7" font-weight="bold" textLength="8.62" lengthAdjust="spacingAndGlyphs">MR</text>
<text x="463.5" y="757.95" font-size="5.7" font-weight="bold"><tspan textLength="1.69" lengthAdjust="spacingAndGlyphs">J</tspan> <tspan dx=".3" textLength="6.08" lengthAdjust="spacingAndGlyphs">25</tspan></text>
<text x="534.5" y="757.95" font-size="5.7" font-weight="bold"><tspan textLength="1.69" lengthAdjust="spacingAndGlyphs">J</tspan> <tspan dx=".3" textLength="6.08" lengthAdjust="spacingAndGlyphs">26</tspan></text>
<text x="569.5" y="757.95" font-size="5.7" font-weight="bold" textLength="8.66" lengthAdjust="spacingAndGlyphs">1/4</text>
<text x="605.15" y="757.95" font-size="5.7" font-weight="bold" textLength="8.66" lengthAdjust="spacingAndGlyphs">1/2</text>
<text x="640.5" y="757.95" font-size="5.7" font-weight="bold" textLength="8.31" lengthAdjust="spacingAndGlyphs">FIN</text>
<text x="31" y="767.35" font-size="6.15" font-weight="bold" text-anchor="start" textLength="52.24" lengthAdjust="spacingAndGlyphs">U18 Régional 1 &amp; 2</text>
<text x="126.6" y="767.5" font-size="6.15" textLength="6.71" lengthAdjust="spacingAndGlyphs">14</text>
<text x="161.5" y="767.35" font-size="5.7" font-weight="bold"><tspan textLength="1.69" lengthAdjust="spacingAndGlyphs">J</tspan> <tspan dx=".3" textLength="6.08" lengthAdjust="spacingAndGlyphs">17</tspan></text>
<text x="197.5" y="767.35" font-size="5.7" font-weight="bold" textLength="8.62" lengthAdjust="spacingAndGlyphs">MR</text>
<text x="215" y="767.35" font-size="5.7" font-weight="bold" textLength="14.38" lengthAdjust="spacingAndGlyphs">C/MR</text>
<text x="232.75" y="767.35" font-size="5.7" font-weight="bold"><tspan textLength="1.69" lengthAdjust="spacingAndGlyphs">J</tspan> <tspan dx=".3" textLength="6.08" lengthAdjust="spacingAndGlyphs">18</tspan></text>
<text x="268.5" y="767.35" font-size="5.7" font-weight="bold"><tspan textLength="1.69" lengthAdjust="spacingAndGlyphs">J</tspan> <tspan dx=".3" textLength="6.08" lengthAdjust="spacingAndGlyphs">19</tspan></text>
<text x="286" y="767.35" font-size="5.7" font-weight="bold"><tspan textLength="1.69" lengthAdjust="spacingAndGlyphs">J</tspan> <tspan dx=".3" textLength="6.08" lengthAdjust="spacingAndGlyphs">20</tspan></text>
<text x="321.5" y="767.35" font-size="5.7" font-weight="bold"><tspan textLength="1.69" lengthAdjust="spacingAndGlyphs">J</tspan> <tspan dx=".3" textLength="6.08" lengthAdjust="spacingAndGlyphs">21</tspan></text>
<text x="339" y="767.35" font-size="5.7" font-weight="bold"><tspan textLength="1.69" lengthAdjust="spacingAndGlyphs">J</tspan> <tspan dx=".3" textLength="6.08" lengthAdjust="spacingAndGlyphs">22</tspan></text>
<text x="356.88" y="767.35" font-size="5.7" font-weight="bold"><tspan textLength="1.69" lengthAdjust="spacingAndGlyphs">J</tspan> <tspan dx=".3" textLength="6.08" lengthAdjust="spacingAndGlyphs">23</tspan></text>
<text x="392.5" y="767.35" font-size="5.7" font-weight="bold" textLength="14.38" lengthAdjust="spacingAndGlyphs">C/MR</text>
<text x="410.5" y="767.35" font-size="5.7" font-weight="bold" textLength="8.62" lengthAdjust="spacingAndGlyphs">MR</text>
<text x="445.12" y="767.35" font-size="5.7" font-weight="bold"><tspan textLength="1.69" lengthAdjust="spacingAndGlyphs">J</tspan> <tspan dx=".3" textLength="6.08" lengthAdjust="spacingAndGlyphs">24</tspan></text>
<text x="463.5" y="767.35" font-size="5.7" font-weight="bold" textLength="14.38" lengthAdjust="spacingAndGlyphs">C/MR</text>
<text x="498.5" y="767.35" font-size="5.7" font-weight="bold" textLength="14.38" lengthAdjust="spacingAndGlyphs">C/MR</text>
<text x="534.5" y="767.35" font-size="5.7" font-weight="bold"><tspan textLength="1.69" lengthAdjust="spacingAndGlyphs">J</tspan> <tspan dx=".3" textLength="6.08" lengthAdjust="spacingAndGlyphs">25</tspan></text>
<text x="569.5" y="767.35" font-size="5.7" font-weight="bold"><tspan textLength="1.69" lengthAdjust="spacingAndGlyphs">J</tspan> <tspan dx=".3" textLength="6.08" lengthAdjust="spacingAndGlyphs">26</tspan></text>
<text x="31" y="777.35" font-size="6.15" font-weight="bold" text-anchor="start" textLength="41.22" lengthAdjust="spacingAndGlyphs">U18 Régional 3</text>
<text x="126.6" y="777.5" font-size="6.15" textLength="6.71" lengthAdjust="spacingAndGlyphs">12</text>
<text x="161.5" y="777.35" font-size="5.7" font-weight="bold"><tspan textLength="1.69" lengthAdjust="spacingAndGlyphs">J</tspan> <tspan dx=".3" textLength="6.08" lengthAdjust="spacingAndGlyphs">15</tspan></text>
<text x="197.5" y="777.35" font-size="5.7" font-weight="bold" textLength="8.62" lengthAdjust="spacingAndGlyphs">MR</text>
<text x="215" y="777.35" font-size="5.7" font-weight="bold" textLength="14.38" lengthAdjust="spacingAndGlyphs">C/MR</text>
<text x="232.75" y="777.35" font-size="5.7" font-weight="bold"><tspan textLength="1.69" lengthAdjust="spacingAndGlyphs">J</tspan> <tspan dx=".3" textLength="6.08" lengthAdjust="spacingAndGlyphs">16</tspan></text>
<text x="268.5" y="777.35" font-size="5.7" font-weight="bold"><tspan textLength="1.69" lengthAdjust="spacingAndGlyphs">J</tspan> <tspan dx=".3" textLength="6.08" lengthAdjust="spacingAndGlyphs">17</tspan></text>
<text x="286" y="777.35" font-size="5.7" font-weight="bold"><tspan textLength="1.69" lengthAdjust="spacingAndGlyphs">J</tspan> <tspan dx=".3" textLength="6.08" lengthAdjust="spacingAndGlyphs">18</tspan></text>
<text x="321.5" y="777.35" font-size="5.7" font-weight="bold"><tspan textLength="1.69" lengthAdjust="spacingAndGlyphs">J</tspan> <tspan dx=".3" textLength="6.08" lengthAdjust="spacingAndGlyphs">19</tspan></text>
<text x="339" y="777.35" font-size="5.7" font-weight="bold"><tspan textLength="1.69" lengthAdjust="spacingAndGlyphs">J</tspan> <tspan dx=".3" textLength="6.08" lengthAdjust="spacingAndGlyphs">20</tspan></text>
<text x="356.88" y="777.35" font-size="5.7" font-weight="bold" textLength="8.62" lengthAdjust="spacingAndGlyphs">MR</text>
<text x="392.5" y="777.35" font-size="5.7" font-weight="bold" textLength="14.38" lengthAdjust="spacingAndGlyphs">C/MR</text>
<text x="410.5" y="777.35" font-size="5.7" font-weight="bold" textLength="8.62" lengthAdjust="spacingAndGlyphs">MR</text>
<text x="445.12" y="777.35" font-size="5.7" font-weight="bold" textLength="8.62" lengthAdjust="spacingAndGlyphs">MR</text>
<text x="463.5" y="777.35" font-size="5.7" font-weight="bold" textLength="14.38" lengthAdjust="spacingAndGlyphs">C/MR</text>
<text x="498.5" y="777.35" font-size="5.7" font-weight="bold" textLength="14.38" lengthAdjust="spacingAndGlyphs">C/MR</text>
<text x="534.5" y="777.35" font-size="5.7" font-weight="bold"><tspan textLength="1.69" lengthAdjust="spacingAndGlyphs">J</tspan> <tspan dx=".3" textLength="6.08" lengthAdjust="spacingAndGlyphs">21</tspan></text>
<text x="569.5" y="777.35" font-size="5.7" font-weight="bold"><tspan textLength="1.69" lengthAdjust="spacingAndGlyphs">J</tspan> <tspan dx=".3" textLength="6.08" lengthAdjust="spacingAndGlyphs">22</tspan></text>
<text x="31" y="787.35" font-size="6.15" font-weight="bold" text-anchor="start" textLength="41.22" lengthAdjust="spacingAndGlyphs">U18 Régional 3</text>
<text x="126.6" y="787.5" font-size="6.15" textLength="6.71" lengthAdjust="spacingAndGlyphs">10</text>
<text x="161.5" y="787.35" font-size="5.7" font-weight="bold"><tspan textLength="1.69" lengthAdjust="spacingAndGlyphs">J</tspan> <tspan dx=".3" textLength="6.08" lengthAdjust="spacingAndGlyphs">13</tspan></text>
<text x="197.5" y="787.35" font-size="5.7" font-weight="bold" textLength="8.62" lengthAdjust="spacingAndGlyphs">MR</text>
<text x="215" y="787.35" font-size="5.7" font-weight="bold" textLength="14.38" lengthAdjust="spacingAndGlyphs">C/MR</text>
<text x="232.75" y="787.35" font-size="5.7" font-weight="bold"><tspan textLength="1.69" lengthAdjust="spacingAndGlyphs">J</tspan> <tspan dx=".3" textLength="6.08" lengthAdjust="spacingAndGlyphs">14</tspan></text>
<text x="268.5" y="787.35" font-size="5.7" font-weight="bold"><tspan textLength="1.69" lengthAdjust="spacingAndGlyphs">J</tspan> <tspan dx=".3" textLength="6.08" lengthAdjust="spacingAndGlyphs">15</tspan></text>
<text x="286" y="787.35" font-size="5.7" font-weight="bold"><tspan textLength="1.69" lengthAdjust="spacingAndGlyphs">J</tspan> <tspan dx=".3" textLength="6.08" lengthAdjust="spacingAndGlyphs">16</tspan></text>
<text x="321.5" y="787.35" font-size="5.7" font-weight="bold" textLength="8.62" lengthAdjust="spacingAndGlyphs">MR</text>
<text x="339" y="787.35" font-size="5.7" font-weight="bold" textLength="8.62" lengthAdjust="spacingAndGlyphs">MR</text>
<text x="356.88" y="787.35" font-size="5.7" font-weight="bold" textLength="8.62" lengthAdjust="spacingAndGlyphs">MR</text>
<text x="392.5" y="787.35" font-size="5.7" font-weight="bold" textLength="14.38" lengthAdjust="spacingAndGlyphs">C/MR</text>
<text x="410.5" y="787.35" font-size="5.7" font-weight="bold" textLength="8.62" lengthAdjust="spacingAndGlyphs">MR</text>
<text x="445.12" y="787.35" font-size="5.7" font-weight="bold" textLength="8.62" lengthAdjust="spacingAndGlyphs">MR</text>
<text x="463.5" y="787.35" font-size="5.7" font-weight="bold" textLength="14.38" lengthAdjust="spacingAndGlyphs">C/MR</text>
<text x="498.5" y="787.35" font-size="5.7" font-weight="bold" textLength="14.38" lengthAdjust="spacingAndGlyphs">C/MR</text>
<text x="534.5" y="787.35" font-size="5.7" font-weight="bold"><tspan textLength="1.69" lengthAdjust="spacingAndGlyphs">J</tspan> <tspan dx=".3" textLength="6.08" lengthAdjust="spacingAndGlyphs">17</tspan></text>
<text x="569.5" y="787.35" font-size="5.7" font-weight="bold"><tspan textLength="1.69" lengthAdjust="spacingAndGlyphs">J</tspan> <tspan dx=".3" textLength="6.08" lengthAdjust="spacingAndGlyphs">18</tspan></text>
<text x="31" y="796.35" font-size="6.15" font-weight="bold" text-anchor="start" textLength="66.99" lengthAdjust="spacingAndGlyphs">Coupe Gambardella U18</text>
<text x="215" y="796.35" font-size="5.7" font-weight="bold" textLength="8.66" lengthAdjust="spacingAndGlyphs">1/8</text>
<text x="286" y="796.35" font-size="5.7" font-weight="bold" textLength="8.66" lengthAdjust="spacingAndGlyphs">1/4</text>
<text x="392.5" y="796.35" font-size="5.7" font-weight="bold" textLength="8.66" lengthAdjust="spacingAndGlyphs">1/2</text>
<text x="498.5" y="796.35" font-size="5.7" font-weight="bold" textLength="8.31" lengthAdjust="spacingAndGlyphs">FIN</text>
<text x="31" y="806.35" font-size="6.15" font-weight="bold" text-anchor="start" textLength="70.91" lengthAdjust="spacingAndGlyphs">Coupe de Normandie U18</text>
<text x="215" y="806.35" font-size="5.7" font-weight="bold" textLength="7.37" lengthAdjust="spacingAndGlyphs">T 3</text>
<text x="392.5" y="806.35" font-size="5.7" font-weight="bold" textLength="7.37" lengthAdjust="spacingAndGlyphs">T 4</text>
<text x="410.5" y="806.35" font-size="5.7" font-weight="bold" textLength="8.62" lengthAdjust="spacingAndGlyphs">MR</text>
<text x="463.5" y="806.35" font-size="5.7" font-weight="bold" textLength="7.37" lengthAdjust="spacingAndGlyphs">T 5</text>
<text x="498.5" y="806.35" font-size="5.7" font-weight="bold" textLength="8.66" lengthAdjust="spacingAndGlyphs">1/8</text>
<text x="605.15" y="806.35" font-size="5.7" font-weight="bold" textLength="8.66" lengthAdjust="spacingAndGlyphs">1/4</text>
<text x="640.5" y="806.35" font-size="5.7" font-weight="bold" textLength="8.66" lengthAdjust="spacingAndGlyphs">1/2</text>
<text x="676.5" y="806.35" font-size="5.7" font-weight="bold" textLength="8.31" lengthAdjust="spacingAndGlyphs">FIN</text>
<text x="31" y="816.35" font-size="6.15" font-weight="bold" text-anchor="start" textLength="36.11" lengthAdjust="spacingAndGlyphs">National U17</text>
<text x="126.6" y="816.5" font-size="6.15" textLength="6.71" lengthAdjust="spacingAndGlyphs">14</text>
<text x="161.5" y="816.35" font-size="5.7" font-weight="bold"><tspan textLength="1.69" lengthAdjust="spacingAndGlyphs">J</tspan> <tspan dx=".3" textLength="6.08" lengthAdjust="spacingAndGlyphs">16</tspan></text>
<text x="197.5" y="816.35" font-size="5.7" font-weight="bold"><tspan textLength="1.69" lengthAdjust="spacingAndGlyphs">J</tspan> <tspan dx=".3" textLength="6.08" lengthAdjust="spacingAndGlyphs">17</tspan></text>
<text x="215" y="816.35" font-size="5.7" font-weight="bold" textLength="8.62" lengthAdjust="spacingAndGlyphs">MR</text>
<text x="232.75" y="816.35" font-size="5.7" font-weight="bold" textLength="8.62" lengthAdjust="spacingAndGlyphs">MR</text>
<text x="268.5" y="816.35" font-size="5.7" font-weight="bold"><tspan textLength="1.69" lengthAdjust="spacingAndGlyphs">J</tspan> <tspan dx=".3" textLength="6.08" lengthAdjust="spacingAndGlyphs">18</tspan></text>
<text x="286" y="816.35" font-size="5.7" font-weight="bold"><tspan textLength="1.69" lengthAdjust="spacingAndGlyphs">J</tspan> <tspan dx=".3" textLength="6.08" lengthAdjust="spacingAndGlyphs">19</tspan></text>
<text x="321.5" y="816.35" font-size="5.7" font-weight="bold"><tspan textLength="1.69" lengthAdjust="spacingAndGlyphs">J</tspan> <tspan dx=".3" textLength="6.08" lengthAdjust="spacingAndGlyphs">20</tspan></text>
<text x="339" y="816.35" font-size="5.7" font-weight="bold"><tspan textLength="1.69" lengthAdjust="spacingAndGlyphs">J</tspan> <tspan dx=".3" textLength="6.08" lengthAdjust="spacingAndGlyphs">21</tspan></text>
<text x="356.88" y="816.35" font-size="5.7" font-weight="bold"><tspan textLength="1.69" lengthAdjust="spacingAndGlyphs">J</tspan> <tspan dx=".3" textLength="6.08" lengthAdjust="spacingAndGlyphs">22</tspan></text>
<text x="392.5" y="816.35" font-size="5.7" font-weight="bold"><tspan textLength="1.69" lengthAdjust="spacingAndGlyphs">J</tspan> <tspan dx=".3" textLength="6.08" lengthAdjust="spacingAndGlyphs">23</tspan></text>
<text x="410.5" y="816.35" font-size="5.7" font-weight="bold"><tspan textLength="1.69" lengthAdjust="spacingAndGlyphs">J</tspan> <tspan dx=".3" textLength="6.08" lengthAdjust="spacingAndGlyphs">24</tspan></text>
<text x="445.12" y="816.35" font-size="5.7" font-weight="bold" textLength="8.62" lengthAdjust="spacingAndGlyphs">MR</text>
<text x="463.5" y="816.35" font-size="5.7" font-weight="bold"><tspan textLength="1.69" lengthAdjust="spacingAndGlyphs">J</tspan> <tspan dx=".3" textLength="6.08" lengthAdjust="spacingAndGlyphs">25</tspan></text>
<text x="534.5" y="816.35" font-size="5.7" font-weight="bold"><tspan textLength="1.69" lengthAdjust="spacingAndGlyphs">J</tspan> <tspan dx=".3" textLength="6.08" lengthAdjust="spacingAndGlyphs">26</tspan></text>
<text x="569.5" y="816.35" font-size="5.7" font-weight="bold" textLength="8.66" lengthAdjust="spacingAndGlyphs">1/4</text>
<text x="605.15" y="816.35" font-size="5.7" font-weight="bold" textLength="8.66" lengthAdjust="spacingAndGlyphs">1/2</text>
<text x="640.5" y="816.35" font-size="5.7" font-weight="bold" textLength="8.31" lengthAdjust="spacingAndGlyphs">FIN</text>
<text x="31" y="825.35" font-size="6.15" font-weight="bold" text-anchor="start" textLength="67.41" lengthAdjust="spacingAndGlyphs">U16 Régional 1 - Phase 1</text>
<text x="126.6" y="825.5" font-size="6.15" textLength="6.71" lengthAdjust="spacingAndGlyphs">12</text>
<text x="31" y="835.35" font-size="6.15" font-weight="bold" text-anchor="start" textLength="67.41" lengthAdjust="spacingAndGlyphs">U16 Régional 1 - Phase 1</text>
<text x="126.6" y="835.5" font-size="6.15" textLength="6.71" lengthAdjust="spacingAndGlyphs">10</text>
<text x="31" y="845.35" font-size="6.15" font-weight="bold" text-anchor="start" textLength="67.41" lengthAdjust="spacingAndGlyphs">U16 Régional 1 - Phase 2</text>
<text x="126.6" y="845.5" font-size="6.15" textLength="6.71" lengthAdjust="spacingAndGlyphs">12</text>
<text x="161.5" y="845.35" font-size="5.7" font-weight="bold"><tspan textLength="1.69" lengthAdjust="spacingAndGlyphs">J</tspan> <tspan dx=".3" textLength="6.08" lengthAdjust="spacingAndGlyphs">05</tspan></text>
<text x="232.75" y="845.35" font-size="5.7" font-weight="bold"><tspan textLength="1.69" lengthAdjust="spacingAndGlyphs">J</tspan> <tspan dx=".3" textLength="6.08" lengthAdjust="spacingAndGlyphs">06</tspan></text>
<text x="268.5" y="845.35" font-size="5.7" font-weight="bold"><tspan textLength="1.69" lengthAdjust="spacingAndGlyphs">J</tspan> <tspan dx=".3" textLength="6.08" lengthAdjust="spacingAndGlyphs">07</tspan></text>
<text x="286" y="845.35" font-size="5.7" font-weight="bold"><tspan textLength="1.69" lengthAdjust="spacingAndGlyphs">J</tspan> <tspan dx=".3" textLength="6.08" lengthAdjust="spacingAndGlyphs">08</tspan></text>
<text x="321.5" y="845.35" font-size="5.7" font-weight="bold"><tspan textLength="1.69" lengthAdjust="spacingAndGlyphs">J</tspan> <tspan dx=".3" textLength="6.08" lengthAdjust="spacingAndGlyphs">09</tspan></text>
<text x="339" y="845.35" font-size="5.7" font-weight="bold"><tspan textLength="1.69" lengthAdjust="spacingAndGlyphs">J</tspan> <tspan dx=".3" textLength="6.08" lengthAdjust="spacingAndGlyphs">10</tspan></text>
<text x="392.5" y="845.35" font-size="5.7" font-weight="bold" textLength="8.62" lengthAdjust="spacingAndGlyphs">MR</text>
<text x="410.5" y="845.35" font-size="5.7" font-weight="bold" textLength="8.62" lengthAdjust="spacingAndGlyphs">MR</text>
<text x="445.12" y="845.35" font-size="5.7" font-weight="bold" textLength="8.62" lengthAdjust="spacingAndGlyphs">MR</text>
<text x="463.5" y="845.35" font-size="5.7" font-weight="bold" textLength="8.62" lengthAdjust="spacingAndGlyphs">MR</text>
<text x="498.5" y="845.35" font-size="5.7" font-weight="bold" textLength="8.62" lengthAdjust="spacingAndGlyphs">MR</text>
<text x="534.5" y="845.35" font-size="5.7" font-weight="bold"><tspan textLength="1.69" lengthAdjust="spacingAndGlyphs">J</tspan> <tspan dx=".3" textLength="6.08" lengthAdjust="spacingAndGlyphs">11</tspan></text>
<text x="569.5" y="845.35" font-size="5.7" font-weight="bold"><tspan textLength="1.69" lengthAdjust="spacingAndGlyphs">J</tspan> <tspan dx=".3" textLength="6.08" lengthAdjust="spacingAndGlyphs">01</tspan></text>
<text x="605.15" y="845.35" font-size="5.7" font-weight="bold"><tspan textLength="1.69" lengthAdjust="spacingAndGlyphs">J</tspan> <tspan dx=".3" textLength="6.08" lengthAdjust="spacingAndGlyphs">02</tspan></text>
<text x="31" y="854.35" font-size="6.15" font-weight="bold" text-anchor="start" textLength="67.41" lengthAdjust="spacingAndGlyphs">U16 Régional 2 - Phase 2</text>
<text x="126.6" y="854.5" font-size="6.15" textLength="6.71" lengthAdjust="spacingAndGlyphs">10</text>
<text x="161.5" y="854.35" font-size="5.7" font-weight="bold"><tspan textLength="1.69" lengthAdjust="spacingAndGlyphs">J</tspan> <tspan dx=".3" textLength="6.08" lengthAdjust="spacingAndGlyphs">05</tspan></text>
<text x="232.75" y="854.35" font-size="5.7" font-weight="bold"><tspan textLength="1.69" lengthAdjust="spacingAndGlyphs">J</tspan> <tspan dx=".3" textLength="6.08" lengthAdjust="spacingAndGlyphs">06</tspan></text>
<text x="268.5" y="854.35" font-size="5.7" font-weight="bold"><tspan textLength="1.69" lengthAdjust="spacingAndGlyphs">J</tspan> <tspan dx=".3" textLength="6.08" lengthAdjust="spacingAndGlyphs">07</tspan></text>
<text x="286" y="854.35" font-size="5.7" font-weight="bold"><tspan textLength="1.69" lengthAdjust="spacingAndGlyphs">J</tspan> <tspan dx=".3" textLength="6.08" lengthAdjust="spacingAndGlyphs">08</tspan></text>
<text x="321.5" y="854.35" font-size="5.7" font-weight="bold"><tspan textLength="1.69" lengthAdjust="spacingAndGlyphs">J</tspan> <tspan dx=".3" textLength="6.08" lengthAdjust="spacingAndGlyphs">09</tspan></text>
<text x="339" y="854.35" font-size="5.7" font-weight="bold" textLength="8.62" lengthAdjust="spacingAndGlyphs">MR</text>
<text x="392.5" y="854.35" font-size="5.7" font-weight="bold" textLength="8.62" lengthAdjust="spacingAndGlyphs">MR</text>
<text x="410.5" y="854.35" font-size="5.7" font-weight="bold" textLength="8.62" lengthAdjust="spacingAndGlyphs">MR</text>
<text x="463.5" y="854.35" font-size="5.7" font-weight="bold" textLength="8.62" lengthAdjust="spacingAndGlyphs">MR</text>
<text x="498.5" y="854.35" font-size="5.7" font-weight="bold" textLength="8.62" lengthAdjust="spacingAndGlyphs">MR</text>
<text x="534.5" y="854.35" font-size="5.7" font-weight="bold"><tspan textLength="1.69" lengthAdjust="spacingAndGlyphs">J</tspan> <tspan dx=".3" textLength="6.08" lengthAdjust="spacingAndGlyphs">02</tspan></text>
<text x="569.5" y="854.35" font-size="5.7" font-weight="bold"><tspan textLength="1.69" lengthAdjust="spacingAndGlyphs">J</tspan> <tspan dx=".3" textLength="6.08" lengthAdjust="spacingAndGlyphs">01</tspan></text>
<text x="31" y="864.35" font-size="6.15" font-weight="bold" text-anchor="start" textLength="59.04" lengthAdjust="spacingAndGlyphs">U15 Régional Phase 1</text>
<text x="126.6" y="864.5" font-size="6.15" textLength="6.71" lengthAdjust="spacingAndGlyphs">12</text>
<text x="31" y="873.35" font-size="6.15" font-weight="bold" text-anchor="start" textLength="59.04" lengthAdjust="spacingAndGlyphs">U15 Régional Phase 1</text>
<text x="126.6" y="873.5" font-size="6.15" textLength="6.71" lengthAdjust="spacingAndGlyphs">10</text>
<text x="31" y="883.35" font-size="6.15" font-weight="bold" text-anchor="start" textLength="78.43" lengthAdjust="spacingAndGlyphs">U15 Régional 1 &amp; 2 - Phase 2</text>
<text x="126.6" y="883.5" font-size="6.15" textLength="6.71" lengthAdjust="spacingAndGlyphs">10</text>
<text x="161.5" y="883.35" font-size="5.7" font-weight="bold"><tspan textLength="1.69" lengthAdjust="spacingAndGlyphs">J</tspan> <tspan dx=".3" textLength="6.08" lengthAdjust="spacingAndGlyphs">05</tspan></text>
<text x="232.75" y="883.35" font-size="5.7" font-weight="bold"><tspan textLength="1.69" lengthAdjust="spacingAndGlyphs">J</tspan> <tspan dx=".3" textLength="6.08" lengthAdjust="spacingAndGlyphs">06</tspan></text>
<text x="268.5" y="883.35" font-size="5.7" font-weight="bold"><tspan textLength="1.69" lengthAdjust="spacingAndGlyphs">J</tspan> <tspan dx=".3" textLength="6.08" lengthAdjust="spacingAndGlyphs">07</tspan></text>
<text x="286" y="883.35" font-size="5.7" font-weight="bold"><tspan textLength="1.69" lengthAdjust="spacingAndGlyphs">J</tspan> <tspan dx=".3" textLength="6.08" lengthAdjust="spacingAndGlyphs">08</tspan></text>
<text x="321.5" y="883.35" font-size="5.7" font-weight="bold"><tspan textLength="1.69" lengthAdjust="spacingAndGlyphs">J</tspan> <tspan dx=".3" textLength="6.08" lengthAdjust="spacingAndGlyphs">09</tspan></text>
<text x="339" y="883.35" font-size="5.7" font-weight="bold" textLength="8.62" lengthAdjust="spacingAndGlyphs">MR</text>
<text x="356.88" y="883.35" font-size="5.7" font-weight="bold" textLength="8.62" lengthAdjust="spacingAndGlyphs">MR</text>
<text x="392.5" y="883.35" font-size="5.7" font-weight="bold" textLength="14.38" lengthAdjust="spacingAndGlyphs">C/MR</text>
<text x="410.5" y="883.35" font-size="5.7" font-weight="bold" textLength="8.62" lengthAdjust="spacingAndGlyphs">MR</text>
<text x="445.12" y="883.35" font-size="5.7" font-weight="bold" textLength="8.62" lengthAdjust="spacingAndGlyphs">MR</text>
<text x="463.5" y="883.35" font-size="5.7" font-weight="bold" textLength="14.38" lengthAdjust="spacingAndGlyphs">C/MR</text>
<text x="498.5" y="883.35" font-size="5.7" font-weight="bold"><tspan textLength="1.69" lengthAdjust="spacingAndGlyphs">J</tspan> <tspan dx=".3" textLength="6.08" lengthAdjust="spacingAndGlyphs">02</tspan></text>
<text x="534.5" y="883.35" font-size="5.7" font-weight="bold" textLength="14.38" lengthAdjust="spacingAndGlyphs">C/MR</text>
<text x="569.5" y="883.35" font-size="5.7" font-weight="bold"><tspan textLength="1.69" lengthAdjust="spacingAndGlyphs">J</tspan> <tspan dx=".3" textLength="6.08" lengthAdjust="spacingAndGlyphs">01</tspan></text>
<text x="31" y="892.35" font-size="6.15" font-weight="bold" text-anchor="start" textLength="64.06" lengthAdjust="spacingAndGlyphs">U14 Régional - Phase  1</text>
<text x="126.6" y="892.5" font-size="6.15" textLength="6.71" lengthAdjust="spacingAndGlyphs">10</text>
<text x="31" y="902.35" font-size="6.15" font-weight="bold" text-anchor="start" textLength="64.06" lengthAdjust="spacingAndGlyphs">U14 Régional - Phase  2</text>
<text x="126.6" y="902.5" font-size="6.15" textLength="6.71" lengthAdjust="spacingAndGlyphs">08</text>
<text x="161.5" y="902.35" font-size="5.7" font-weight="bold"><tspan textLength="1.69" lengthAdjust="spacingAndGlyphs">J</tspan> <tspan dx=".3" textLength="6.08" lengthAdjust="spacingAndGlyphs">03</tspan></text>
<text x="197.5" y="902.35" font-size="5.7" font-weight="bold" textLength="8.62" lengthAdjust="spacingAndGlyphs">MR</text>
<text x="215" y="902.35" font-size="5.7" font-weight="bold" textLength="8.62" lengthAdjust="spacingAndGlyphs">MR</text>
<text x="232.75" y="902.35" font-size="5.7" font-weight="bold"><tspan textLength="1.69" lengthAdjust="spacingAndGlyphs">J</tspan> <tspan dx=".3" textLength="6.08" lengthAdjust="spacingAndGlyphs">04</tspan></text>
<text x="268.5" y="902.35" font-size="5.7" font-weight="bold"><tspan textLength="1.69" lengthAdjust="spacingAndGlyphs">J</tspan> <tspan dx=".3" textLength="6.08" lengthAdjust="spacingAndGlyphs">05</tspan></text>
<text x="286" y="902.35" font-size="5.7" font-weight="bold"><tspan textLength="1.69" lengthAdjust="spacingAndGlyphs">J</tspan> <tspan dx=".3" textLength="6.08" lengthAdjust="spacingAndGlyphs">06</tspan></text>
<text x="321.5" y="902.35" font-size="5.7" font-weight="bold"><tspan textLength="1.69" lengthAdjust="spacingAndGlyphs">J</tspan> <tspan dx=".3" textLength="6.08" lengthAdjust="spacingAndGlyphs">07</tspan></text>
<text x="339" y="902.35" font-size="5.7" font-weight="bold"><tspan textLength="1.69" lengthAdjust="spacingAndGlyphs">J</tspan> <tspan dx=".3" textLength="6.08" lengthAdjust="spacingAndGlyphs">08</tspan></text>
<text x="356.88" y="902.35" font-size="5.7" font-weight="bold" textLength="8.62" lengthAdjust="spacingAndGlyphs">MR</text>
<text x="392.5" y="902.35" font-size="5.7" font-weight="bold" textLength="8.62" lengthAdjust="spacingAndGlyphs">MR</text>
<text x="410.5" y="902.35" font-size="5.7" font-weight="bold" textLength="8.62" lengthAdjust="spacingAndGlyphs">MR</text>
<text x="445.12" y="902.35" font-size="5.7" font-weight="bold"><tspan textLength="1.69" lengthAdjust="spacingAndGlyphs">J</tspan> <tspan dx=".3" textLength="6.08" lengthAdjust="spacingAndGlyphs">12</tspan></text>
<text x="463.5" y="902.35" font-size="5.7" font-weight="bold" textLength="8.62" lengthAdjust="spacingAndGlyphs">MR</text>
<text x="498.5" y="902.35" font-size="5.7" font-weight="bold" textLength="8.62" lengthAdjust="spacingAndGlyphs">MR</text>
<text x="534.5" y="902.35" font-size="5.7" font-weight="bold"><tspan textLength="1.69" lengthAdjust="spacingAndGlyphs">J</tspan> <tspan dx=".3" textLength="6.08" lengthAdjust="spacingAndGlyphs">09</tspan></text>
<text x="569.5" y="902.35" font-size="5.7" font-weight="bold"><tspan textLength="1.69" lengthAdjust="spacingAndGlyphs">J</tspan> <tspan dx=".3" textLength="6.08" lengthAdjust="spacingAndGlyphs">10</tspan></text>
<text x="605.15" y="902.35" font-size="5.7" font-weight="bold"><tspan textLength="1.69" lengthAdjust="spacingAndGlyphs">J</tspan> <tspan dx=".3" textLength="6.08" lengthAdjust="spacingAndGlyphs">11</tspan></text>
<text x="31" y="912.35" font-size="6.15" font-weight="bold" text-anchor="start" textLength="70.91" lengthAdjust="spacingAndGlyphs">Coupe de Normandie U15</text>
<text x="161.5" y="912.35" font-size="5.7" font-weight="bold" textLength="7.37" lengthAdjust="spacingAndGlyphs">T 4</text>
<text x="215" y="912.35" font-size="5.7" font-weight="bold" textLength="8.62" lengthAdjust="spacingAndGlyphs">MR</text>
<text x="392.5" y="912.35" font-size="5.7" font-weight="bold" textLength="8.66" lengthAdjust="spacingAndGlyphs">1/8</text>
<text x="463.5" y="912.35" font-size="5.7" font-weight="bold" textLength="8.66" lengthAdjust="spacingAndGlyphs">1/4</text>
<text x="498.5" y="912.35" font-size="5.7" font-weight="bold" textLength="8.62" lengthAdjust="spacingAndGlyphs">MR</text>
<text x="534.5" y="912.35" font-size="5.7" font-weight="bold" textLength="8.66" lengthAdjust="spacingAndGlyphs">1/2</text>
<text x="676.5" y="912.35" font-size="5.7" font-weight="bold" textLength="8.31" lengthAdjust="spacingAndGlyphs">FIN</text>
<text x="31" y="921.35" font-size="6.15" font-weight="bold" text-anchor="start" textLength="78.43" lengthAdjust="spacingAndGlyphs">U13 Régional 1 &amp; 2 - Phase 2</text>
<text x="126.6" y="921.5" font-size="6.15" textLength="6.71" lengthAdjust="spacingAndGlyphs">08</text>
<text x="232.75" y="921.35" font-size="5.7" font-weight="bold" textLength="9.5" lengthAdjust="spacingAndGlyphs">RPE</text>
<text x="268.5" y="921.35" font-size="5.7" font-weight="bold"><tspan textLength="1.69" lengthAdjust="spacingAndGlyphs">J</tspan> <tspan dx=".3" textLength="6.08" lengthAdjust="spacingAndGlyphs">01</tspan></text>
<text x="286" y="921.35" font-size="5.7" font-weight="bold"><tspan textLength="1.69" lengthAdjust="spacingAndGlyphs">J</tspan> <tspan dx=".3" textLength="6.08" lengthAdjust="spacingAndGlyphs">02</tspan></text>
<text x="321.5" y="921.35" font-size="5.7" font-weight="bold"><tspan textLength="1.69" lengthAdjust="spacingAndGlyphs">J</tspan> <tspan dx=".3" textLength="6.08" lengthAdjust="spacingAndGlyphs">03</tspan></text>
<text x="339" y="921.35" font-size="5.7" font-weight="bold"><tspan textLength="1.69" lengthAdjust="spacingAndGlyphs">J</tspan> <tspan dx=".3" textLength="6.08" lengthAdjust="spacingAndGlyphs">04</tspan></text>
<text x="356.88" y="921.35" font-size="5.7" font-weight="bold" textLength="14.38" lengthAdjust="spacingAndGlyphs">C/MR</text>
<text x="392.5" y="921.35" font-size="5.7" font-weight="bold" textLength="9.5" lengthAdjust="spacingAndGlyphs">RPE</text>
<text x="445.12" y="921.35" font-size="5.7" font-weight="bold"><tspan textLength="1.69" lengthAdjust="spacingAndGlyphs">J</tspan> <tspan dx=".3" textLength="6.08" lengthAdjust="spacingAndGlyphs">05</tspan></text>
<text x="463.5" y="921.35" font-size="5.7" font-weight="bold" textLength="9.5" lengthAdjust="spacingAndGlyphs">RPE</text>
<text x="498.5" y="921.35" font-size="5.7" font-weight="bold" textLength="8.62" lengthAdjust="spacingAndGlyphs">MR</text>
<text x="516.5" y="921.35" font-size="5.7" font-weight="bold" textLength="8.62" lengthAdjust="spacingAndGlyphs">MR</text>
<text x="534.5" y="921.35" font-size="5.7" font-weight="bold" textLength="14.38" lengthAdjust="spacingAndGlyphs">C/MR</text>
<text x="569.5" y="921.35" font-size="5.7" font-weight="bold"><tspan textLength="1.69" lengthAdjust="spacingAndGlyphs">J</tspan> <tspan dx=".3" textLength="6.08" lengthAdjust="spacingAndGlyphs">06</tspan></text>
<text x="605.15" y="921.35" font-size="5.7" font-weight="bold"><tspan textLength="1.69" lengthAdjust="spacingAndGlyphs">J</tspan> <tspan dx=".3" textLength="6.08" lengthAdjust="spacingAndGlyphs">07</tspan></text>
<text x="31" y="931.35" font-size="6.15" font-weight="bold" text-anchor="start" textLength="47.45" lengthAdjust="spacingAndGlyphs">Festival Foot U13</text>
<text x="356.88" y="931.35" font-size="5.7" font-weight="bold" textLength="13.45" lengthAdjust="spacingAndGlyphs">FIN D</text>
<text x="534.5" y="931.35" font-size="5.7" font-weight="bold" textLength="13.04" lengthAdjust="spacingAndGlyphs">FIN R</text>
<text x="31" y="950.38" font-size="6.15" font-weight="bold" text-anchor="start" textLength="46.27" lengthAdjust="spacingAndGlyphs">Régional 1, 2 &amp; 3</text>
<text x="126.6" y="950.52" font-size="6.15" textLength="6.71" lengthAdjust="spacingAndGlyphs">10</text>
<text x="31" y="960.35" font-size="6.15" font-weight="bold" text-anchor="start" textLength="46.27" lengthAdjust="spacingAndGlyphs">Régional 1, 2 &amp; 3</text>
<text x="126.6" y="960.5" font-size="6.15" textLength="6.71" lengthAdjust="spacingAndGlyphs">08</text>
<text x="31" y="970.35" font-size="6.15" font-weight="bold" text-anchor="start" textLength="45.9" lengthAdjust="spacingAndGlyphs">Coupe Nationale</text>
<text x="31" y="979.35" font-size="6.15" font-weight="bold" text-anchor="start" textLength="58.38" lengthAdjust="spacingAndGlyphs">Coupe de Normandie</text>
<text x="31" y="989.35" font-size="6.15" font-weight="bold" text-anchor="start" textLength="83.01" lengthAdjust="spacingAndGlyphs">Challenge Entreprise R 1 &amp; R 2</text>
<text x="31" y="998.35" font-size="6.15" font-weight="bold" text-anchor="start" textLength="62.44" lengthAdjust="spacingAndGlyphs">Coupe d'Entreprise R 3</text>
</g>
<g text-anchor="middle">
<text x="400" y="540.7" font-size="5.4" textLength="37.2" lengthAdjust="spacingAndGlyphs">2021 2022 v 02</text>
</g>
</svg>
</body></html>
